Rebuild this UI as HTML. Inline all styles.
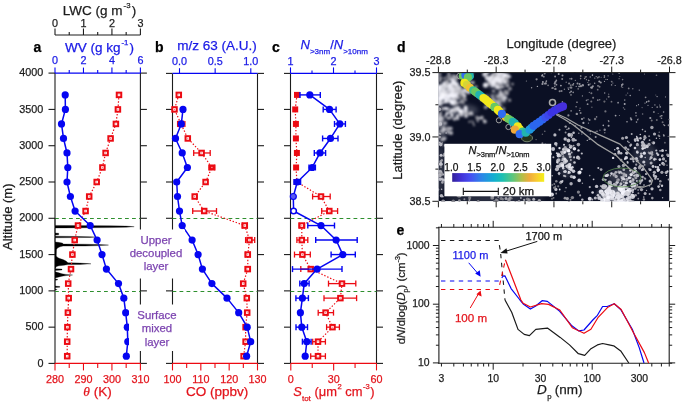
<!DOCTYPE html><html><head><meta charset="utf-8"><style>html,body{margin:0;padding:0;background:#fff;overflow:hidden}svg{display:block;will-change:transform}text{font-family:"Liberation Sans",sans-serif;stroke:currentColor;stroke-width:0.25px}</style></head><body><svg width="685" height="404" viewBox="0 0 685 404"><line x1="55.00" y1="73.10" x2="55.00" y2="363.40" stroke="#1c1c1c" stroke-width="1.1" />
<line x1="140.40" y1="73.10" x2="140.40" y2="363.40" stroke="#1c1c1c" stroke-width="1.1" />
<line x1="48.50" y1="363.40" x2="55.00" y2="363.40" stroke="#1c1c1c" stroke-width="1.1" />
<line x1="140.40" y1="363.40" x2="146.90" y2="363.40" stroke="#1c1c1c" stroke-width="1.1" />
<line x1="48.50" y1="327.16" x2="55.00" y2="327.16" stroke="#1c1c1c" stroke-width="1.1" />
<line x1="140.40" y1="327.16" x2="146.90" y2="327.16" stroke="#1c1c1c" stroke-width="1.1" />
<line x1="48.50" y1="290.87" x2="55.00" y2="290.87" stroke="#1c1c1c" stroke-width="1.1" />
<line x1="140.40" y1="290.87" x2="146.90" y2="290.87" stroke="#1c1c1c" stroke-width="1.1" />
<line x1="48.50" y1="254.58" x2="55.00" y2="254.58" stroke="#1c1c1c" stroke-width="1.1" />
<line x1="140.40" y1="254.58" x2="146.90" y2="254.58" stroke="#1c1c1c" stroke-width="1.1" />
<line x1="48.50" y1="218.29" x2="55.00" y2="218.29" stroke="#1c1c1c" stroke-width="1.1" />
<line x1="140.40" y1="218.29" x2="146.90" y2="218.29" stroke="#1c1c1c" stroke-width="1.1" />
<line x1="48.50" y1="182.00" x2="55.00" y2="182.00" stroke="#1c1c1c" stroke-width="1.1" />
<line x1="140.40" y1="182.00" x2="146.90" y2="182.00" stroke="#1c1c1c" stroke-width="1.1" />
<line x1="48.50" y1="145.71" x2="55.00" y2="145.71" stroke="#1c1c1c" stroke-width="1.1" />
<line x1="140.40" y1="145.71" x2="146.90" y2="145.71" stroke="#1c1c1c" stroke-width="1.1" />
<line x1="48.50" y1="109.42" x2="55.00" y2="109.42" stroke="#1c1c1c" stroke-width="1.1" />
<line x1="140.40" y1="109.42" x2="146.90" y2="109.42" stroke="#1c1c1c" stroke-width="1.1" />
<line x1="48.50" y1="73.10" x2="55.00" y2="73.10" stroke="#1c1c1c" stroke-width="1.1" />
<line x1="140.40" y1="73.10" x2="146.90" y2="73.10" stroke="#1c1c1c" stroke-width="1.1" />
<line x1="55.00" y1="291.50" x2="140.40" y2="291.50" stroke="#2e8f2e" stroke-width="1.1" stroke-dasharray="3.8 3.2"/>
<line x1="55.00" y1="218.50" x2="140.40" y2="218.50" stroke="#2e8f2e" stroke-width="1.1" stroke-dasharray="3.8 3.2"/>
<line x1="172.50" y1="73.40" x2="172.50" y2="363.40" stroke="#1c1c1c" stroke-width="1.1" />
<line x1="257.50" y1="73.40" x2="257.50" y2="363.40" stroke="#1c1c1c" stroke-width="1.1" />
<line x1="166.00" y1="363.40" x2="172.50" y2="363.40" stroke="#1c1c1c" stroke-width="1.1" />
<line x1="257.50" y1="363.40" x2="264.00" y2="363.40" stroke="#1c1c1c" stroke-width="1.1" />
<line x1="166.00" y1="327.16" x2="172.50" y2="327.16" stroke="#1c1c1c" stroke-width="1.1" />
<line x1="257.50" y1="327.16" x2="264.00" y2="327.16" stroke="#1c1c1c" stroke-width="1.1" />
<line x1="166.00" y1="290.87" x2="172.50" y2="290.87" stroke="#1c1c1c" stroke-width="1.1" />
<line x1="257.50" y1="290.87" x2="264.00" y2="290.87" stroke="#1c1c1c" stroke-width="1.1" />
<line x1="166.00" y1="254.58" x2="172.50" y2="254.58" stroke="#1c1c1c" stroke-width="1.1" />
<line x1="257.50" y1="254.58" x2="264.00" y2="254.58" stroke="#1c1c1c" stroke-width="1.1" />
<line x1="166.00" y1="218.29" x2="172.50" y2="218.29" stroke="#1c1c1c" stroke-width="1.1" />
<line x1="257.50" y1="218.29" x2="264.00" y2="218.29" stroke="#1c1c1c" stroke-width="1.1" />
<line x1="166.00" y1="182.00" x2="172.50" y2="182.00" stroke="#1c1c1c" stroke-width="1.1" />
<line x1="257.50" y1="182.00" x2="264.00" y2="182.00" stroke="#1c1c1c" stroke-width="1.1" />
<line x1="166.00" y1="145.71" x2="172.50" y2="145.71" stroke="#1c1c1c" stroke-width="1.1" />
<line x1="257.50" y1="145.71" x2="264.00" y2="145.71" stroke="#1c1c1c" stroke-width="1.1" />
<line x1="166.00" y1="109.42" x2="172.50" y2="109.42" stroke="#1c1c1c" stroke-width="1.1" />
<line x1="257.50" y1="109.42" x2="264.00" y2="109.42" stroke="#1c1c1c" stroke-width="1.1" />
<line x1="166.00" y1="73.40" x2="172.50" y2="73.40" stroke="#1c1c1c" stroke-width="1.1" />
<line x1="257.50" y1="73.40" x2="264.00" y2="73.40" stroke="#1c1c1c" stroke-width="1.1" />
<line x1="172.50" y1="291.50" x2="257.50" y2="291.50" stroke="#2e8f2e" stroke-width="1.1" stroke-dasharray="3.8 3.2"/>
<line x1="172.50" y1="218.50" x2="257.50" y2="218.50" stroke="#2e8f2e" stroke-width="1.1" stroke-dasharray="3.8 3.2"/>
<line x1="290.50" y1="73.40" x2="290.50" y2="363.40" stroke="#1c1c1c" stroke-width="1.1" />
<line x1="376.50" y1="73.40" x2="376.50" y2="363.40" stroke="#1c1c1c" stroke-width="1.1" />
<line x1="284.00" y1="363.40" x2="290.50" y2="363.40" stroke="#1c1c1c" stroke-width="1.1" />
<line x1="376.50" y1="363.40" x2="383.00" y2="363.40" stroke="#1c1c1c" stroke-width="1.1" />
<line x1="284.00" y1="327.16" x2="290.50" y2="327.16" stroke="#1c1c1c" stroke-width="1.1" />
<line x1="376.50" y1="327.16" x2="383.00" y2="327.16" stroke="#1c1c1c" stroke-width="1.1" />
<line x1="284.00" y1="290.87" x2="290.50" y2="290.87" stroke="#1c1c1c" stroke-width="1.1" />
<line x1="376.50" y1="290.87" x2="383.00" y2="290.87" stroke="#1c1c1c" stroke-width="1.1" />
<line x1="284.00" y1="254.58" x2="290.50" y2="254.58" stroke="#1c1c1c" stroke-width="1.1" />
<line x1="376.50" y1="254.58" x2="383.00" y2="254.58" stroke="#1c1c1c" stroke-width="1.1" />
<line x1="284.00" y1="218.29" x2="290.50" y2="218.29" stroke="#1c1c1c" stroke-width="1.1" />
<line x1="376.50" y1="218.29" x2="383.00" y2="218.29" stroke="#1c1c1c" stroke-width="1.1" />
<line x1="284.00" y1="182.00" x2="290.50" y2="182.00" stroke="#1c1c1c" stroke-width="1.1" />
<line x1="376.50" y1="182.00" x2="383.00" y2="182.00" stroke="#1c1c1c" stroke-width="1.1" />
<line x1="284.00" y1="145.71" x2="290.50" y2="145.71" stroke="#1c1c1c" stroke-width="1.1" />
<line x1="376.50" y1="145.71" x2="383.00" y2="145.71" stroke="#1c1c1c" stroke-width="1.1" />
<line x1="284.00" y1="109.42" x2="290.50" y2="109.42" stroke="#1c1c1c" stroke-width="1.1" />
<line x1="376.50" y1="109.42" x2="383.00" y2="109.42" stroke="#1c1c1c" stroke-width="1.1" />
<line x1="284.00" y1="73.40" x2="290.50" y2="73.40" stroke="#1c1c1c" stroke-width="1.1" />
<line x1="376.50" y1="73.40" x2="383.00" y2="73.40" stroke="#1c1c1c" stroke-width="1.1" />
<line x1="290.50" y1="291.50" x2="376.50" y2="291.50" stroke="#2e8f2e" stroke-width="1.1" stroke-dasharray="3.8 3.2"/>
<line x1="290.50" y1="218.50" x2="376.50" y2="218.50" stroke="#2e8f2e" stroke-width="1.1" stroke-dasharray="3.8 3.2"/>
<text x="43.40" y="366.55" font-size="10.8" fill="#1c1c1c" color="#1c1c1c" text-anchor="end" >0</text>
<text x="43.40" y="330.26" font-size="10.8" fill="#1c1c1c" color="#1c1c1c" text-anchor="end" >500</text>
<text x="43.40" y="293.97" font-size="10.8" fill="#1c1c1c" color="#1c1c1c" text-anchor="end" >1000</text>
<text x="43.40" y="257.68" font-size="10.8" fill="#1c1c1c" color="#1c1c1c" text-anchor="end" >1500</text>
<text x="43.40" y="221.39" font-size="10.8" fill="#1c1c1c" color="#1c1c1c" text-anchor="end" >2000</text>
<text x="43.40" y="185.10" font-size="10.8" fill="#1c1c1c" color="#1c1c1c" text-anchor="end" >2500</text>
<text x="43.40" y="148.81" font-size="10.8" fill="#1c1c1c" color="#1c1c1c" text-anchor="end" >3000</text>
<text x="43.40" y="112.52" font-size="10.8" fill="#1c1c1c" color="#1c1c1c" text-anchor="end" >3500</text>
<text x="43.40" y="76.23" font-size="10.8" fill="#1c1c1c" color="#1c1c1c" text-anchor="end" >4000</text>
<text transform="translate(11.5,216.7) rotate(-90)" font-size="13" fill="#1c1c1c" color="#1c1c1c" text-anchor="middle">Altitude (m)</text>
<line x1="55.00" y1="73.10" x2="140.40" y2="73.10" stroke="#0505f2" stroke-width="1.2" />
<line x1="55.00" y1="73.10" x2="55.00" y2="67.60" stroke="#0505f2" stroke-width="1.1" />
<text x="55.00" y="64.00" font-size="10.8" fill="#1a1ae6" color="#1a1ae6" text-anchor="middle" >0</text>
<line x1="69.23" y1="73.10" x2="69.23" y2="70.10" stroke="#0505f2" stroke-width="1.1" />
<line x1="83.47" y1="73.10" x2="83.47" y2="67.60" stroke="#0505f2" stroke-width="1.1" />
<text x="83.47" y="64.00" font-size="10.8" fill="#1a1ae6" color="#1a1ae6" text-anchor="middle" >2</text>
<line x1="97.70" y1="73.10" x2="97.70" y2="70.10" stroke="#0505f2" stroke-width="1.1" />
<line x1="111.93" y1="73.10" x2="111.93" y2="67.60" stroke="#0505f2" stroke-width="1.1" />
<text x="111.93" y="64.00" font-size="10.8" fill="#1a1ae6" color="#1a1ae6" text-anchor="middle" >4</text>
<line x1="126.17" y1="73.10" x2="126.17" y2="70.10" stroke="#0505f2" stroke-width="1.1" />
<line x1="140.40" y1="73.10" x2="140.40" y2="67.60" stroke="#0505f2" stroke-width="1.1" />
<text x="140.40" y="64.00" font-size="10.8" fill="#1a1ae6" color="#1a1ae6" text-anchor="middle" >6</text>
<text x="99.50" y="51.60" font-size="13.5" fill="#1a1ae6" color="#1a1ae6" text-anchor="middle" >WV (g kg<tspan dx="1" dy="-6.8" font-size="7.8">-1</tspan><tspan dx="1.2" dy="6.8">)</tspan></text>
<line x1="55.00" y1="35.00" x2="140.40" y2="35.00" stroke="#1c1c1c" stroke-width="1.1" />
<line x1="55.00" y1="35.00" x2="55.00" y2="28.50" stroke="#1c1c1c" stroke-width="1.1" />
<text x="55.00" y="27.00" font-size="10.8" fill="#1c1c1c" color="#1c1c1c" text-anchor="middle" >0</text>
<line x1="69.23" y1="35.00" x2="69.23" y2="32.00" stroke="#1c1c1c" stroke-width="1.1" />
<line x1="83.47" y1="35.00" x2="83.47" y2="28.50" stroke="#1c1c1c" stroke-width="1.1" />
<text x="83.47" y="27.00" font-size="10.8" fill="#1c1c1c" color="#1c1c1c" text-anchor="middle" >1</text>
<line x1="97.70" y1="35.00" x2="97.70" y2="32.00" stroke="#1c1c1c" stroke-width="1.1" />
<line x1="111.93" y1="35.00" x2="111.93" y2="28.50" stroke="#1c1c1c" stroke-width="1.1" />
<text x="111.93" y="27.00" font-size="10.8" fill="#1c1c1c" color="#1c1c1c" text-anchor="middle" >2</text>
<line x1="126.17" y1="35.00" x2="126.17" y2="32.00" stroke="#1c1c1c" stroke-width="1.1" />
<line x1="140.40" y1="35.00" x2="140.40" y2="28.50" stroke="#1c1c1c" stroke-width="1.1" />
<text x="140.40" y="27.00" font-size="10.8" fill="#1c1c1c" color="#1c1c1c" text-anchor="middle" >3</text>
<text x="99.50" y="14.60" font-size="13.5" fill="#1c1c1c" color="#1c1c1c" text-anchor="middle" >LWC (g m<tspan dx="1" dy="-6.8" font-size="7.8">-3</tspan><tspan dx="1.2" dy="6.8">)</tspan></text>
<text x="37.50" y="51.50" font-size="14" fill="#000" color="#000" text-anchor="middle" font-weight="bold">a</text>
<line x1="172.50" y1="73.40" x2="257.50" y2="73.40" stroke="#0505f2" stroke-width="1.2" />
<line x1="179.50" y1="73.40" x2="179.50" y2="68.20" stroke="#0505f2" stroke-width="1.1" />
<text x="179.50" y="65.00" font-size="10.8" fill="#1a1ae6" color="#1a1ae6" text-anchor="middle" >0.0</text>
<line x1="215.15" y1="73.40" x2="215.15" y2="68.20" stroke="#0505f2" stroke-width="1.1" />
<text x="215.15" y="65.00" font-size="10.8" fill="#1a1ae6" color="#1a1ae6" text-anchor="middle" >0.5</text>
<line x1="250.80" y1="73.40" x2="250.80" y2="68.20" stroke="#0505f2" stroke-width="1.1" />
<text x="250.80" y="65.00" font-size="10.8" fill="#1a1ae6" color="#1a1ae6" text-anchor="middle" >1.0</text>
<text x="217.00" y="49.80" font-size="13.5" fill="#1a1ae6" color="#1a1ae6" text-anchor="middle" >m/z 63 (A.U.)</text>
<text x="159.20" y="51.50" font-size="14" fill="#000" color="#000" text-anchor="middle" font-weight="bold">b</text>
<line x1="290.50" y1="73.40" x2="376.50" y2="73.40" stroke="#0505f2" stroke-width="1.2" />
<line x1="290.50" y1="73.40" x2="290.50" y2="67.40" stroke="#0505f2" stroke-width="1.1" />
<text x="290.50" y="65.00" font-size="10.8" fill="#1a1ae6" color="#1a1ae6" text-anchor="middle" >1</text>
<line x1="312.00" y1="73.40" x2="312.00" y2="70.40" stroke="#0505f2" stroke-width="1.1" />
<line x1="333.50" y1="73.40" x2="333.50" y2="67.40" stroke="#0505f2" stroke-width="1.1" />
<text x="333.50" y="65.00" font-size="10.8" fill="#1a1ae6" color="#1a1ae6" text-anchor="middle" >2</text>
<line x1="355.00" y1="73.40" x2="355.00" y2="70.40" stroke="#0505f2" stroke-width="1.1" />
<line x1="376.50" y1="73.40" x2="376.50" y2="67.40" stroke="#0505f2" stroke-width="1.1" />
<text x="376.50" y="65.00" font-size="10.8" fill="#1a1ae6" color="#1a1ae6" text-anchor="middle" >3</text>
<text x="300.5" y="49.2" font-size="13" fill="#1a1ae6" color="#1a1ae6"><tspan font-style="italic">N</tspan><tspan font-size="8" dy="4.5">&gt;3nm</tspan><tspan dy="-4.5">/</tspan><tspan font-style="italic">N</tspan><tspan font-size="8" dy="4.5">&gt;10nm</tspan></text>
<text x="276.00" y="51.50" font-size="14" fill="#000" color="#000" text-anchor="middle" font-weight="bold">c</text>
<line x1="55.00" y1="363.40" x2="140.40" y2="363.40" stroke="#ec0a12" stroke-width="1.2" />
<line x1="55.00" y1="363.40" x2="55.00" y2="370.40" stroke="#ec0a12" stroke-width="1.1" />
<text x="55.00" y="383.10" font-size="10.8" fill="#e3141c" color="#e3141c" text-anchor="middle" >280</text>
<line x1="69.23" y1="363.40" x2="69.23" y2="367.90" stroke="#ec0a12" stroke-width="1.1" />
<line x1="83.47" y1="363.40" x2="83.47" y2="370.40" stroke="#ec0a12" stroke-width="1.1" />
<text x="83.47" y="383.10" font-size="10.8" fill="#e3141c" color="#e3141c" text-anchor="middle" >290</text>
<line x1="97.70" y1="363.40" x2="97.70" y2="367.90" stroke="#ec0a12" stroke-width="1.1" />
<line x1="111.93" y1="363.40" x2="111.93" y2="370.40" stroke="#ec0a12" stroke-width="1.1" />
<text x="111.93" y="383.10" font-size="10.8" fill="#e3141c" color="#e3141c" text-anchor="middle" >300</text>
<line x1="126.17" y1="363.40" x2="126.17" y2="367.90" stroke="#ec0a12" stroke-width="1.1" />
<line x1="140.40" y1="363.40" x2="140.40" y2="370.40" stroke="#ec0a12" stroke-width="1.1" />
<text x="140.40" y="383.10" font-size="10.8" fill="#e3141c" color="#e3141c" text-anchor="middle" >310</text>
<line x1="172.50" y1="363.40" x2="257.50" y2="363.40" stroke="#ec0a12" stroke-width="1.2" />
<line x1="172.50" y1="363.40" x2="172.50" y2="370.40" stroke="#ec0a12" stroke-width="1.1" />
<text x="172.50" y="383.10" font-size="10.8" fill="#e3141c" color="#e3141c" text-anchor="middle" >100</text>
<line x1="186.67" y1="363.40" x2="186.67" y2="367.90" stroke="#ec0a12" stroke-width="1.1" />
<line x1="200.83" y1="363.40" x2="200.83" y2="370.40" stroke="#ec0a12" stroke-width="1.1" />
<text x="200.83" y="383.10" font-size="10.8" fill="#e3141c" color="#e3141c" text-anchor="middle" >110</text>
<line x1="215.00" y1="363.40" x2="215.00" y2="367.90" stroke="#ec0a12" stroke-width="1.1" />
<line x1="229.17" y1="363.40" x2="229.17" y2="370.40" stroke="#ec0a12" stroke-width="1.1" />
<text x="229.17" y="383.10" font-size="10.8" fill="#e3141c" color="#e3141c" text-anchor="middle" >120</text>
<line x1="243.33" y1="363.40" x2="243.33" y2="367.90" stroke="#ec0a12" stroke-width="1.1" />
<line x1="257.50" y1="363.40" x2="257.50" y2="370.40" stroke="#ec0a12" stroke-width="1.1" />
<text x="257.50" y="383.10" font-size="10.8" fill="#e3141c" color="#e3141c" text-anchor="middle" >130</text>
<line x1="290.80" y1="363.40" x2="376.50" y2="363.40" stroke="#ec0a12" stroke-width="1.2" />
<line x1="290.80" y1="363.40" x2="290.80" y2="370.40" stroke="#ec0a12" stroke-width="1.1" />
<text x="290.80" y="383.10" font-size="10.8" fill="#e3141c" color="#e3141c" text-anchor="middle" >0</text>
<line x1="312.23" y1="363.40" x2="312.23" y2="367.90" stroke="#ec0a12" stroke-width="1.1" />
<line x1="333.65" y1="363.40" x2="333.65" y2="370.40" stroke="#ec0a12" stroke-width="1.1" />
<text x="333.65" y="383.10" font-size="10.8" fill="#e3141c" color="#e3141c" text-anchor="middle" >30</text>
<line x1="355.07" y1="363.40" x2="355.07" y2="367.90" stroke="#ec0a12" stroke-width="1.1" />
<line x1="376.50" y1="363.40" x2="376.50" y2="370.40" stroke="#ec0a12" stroke-width="1.1" />
<text x="376.50" y="383.10" font-size="10.8" fill="#e3141c" color="#e3141c" text-anchor="middle" >60</text>
<text x="97.5" y="396" font-size="13.5" fill="#e3141c" color="#e3141c" text-anchor="middle"><tspan font-style="italic" font-family="Liberation Serif">θ</tspan> (K)</text>
<text x="217.20" y="396.00" font-size="13.5" fill="#e3141c" color="#e3141c" text-anchor="middle" >CO (ppbv)</text>
<text x="333.9" y="395.6" font-size="12.9" fill="#e3141c" color="#e3141c" text-anchor="middle"><tspan font-style="italic">S</tspan><tspan font-size="8" dy="5">tot</tspan><tspan dy="-5"> (μm</tspan><tspan font-size="7.6" dx="0.5" dy="-6.5">2</tspan><tspan dy="6.5"> cm</tspan><tspan font-size="7.6" dx="0.5" dy="-6.5">-3</tspan><tspan dx="0.5" dy="6.5">)</tspan></text>
<path d="M55.0,218.0 L55.0,225.4 L64.0,225.5 L110.0,225.8 L126.0,226.1 L134.2,226.7 L126.0,227.2 L110.0,227.6 L64.0,227.9 L55.0,228.0 L55.0,233.0 L58.7,233.3 L58.7,234.8 L55.0,235.0 L55.0,236.2 L80.0,236.5 L90.0,236.8 L95.0,237.1 L90.0,237.4 L80.0,237.6 L55.0,237.8 L55.0,242.0 L58.0,242.3 L62.3,243.1 L63.5,244.1 L85.0,244.2 L100.0,244.6 L108.5,245.1 L100.0,245.6 L85.0,246.0 L63.0,246.1 L60.0,246.8 L57.5,248.0 L56.5,249.5 L56.3,256.0 L57.0,257.0 L59.0,258.3 L63.0,259.6 L66.0,261.0 L68.0,262.8 L80.0,263.1 L91.0,263.8 L80.0,264.4 L68.0,264.6 L64.0,265.2 L59.0,265.8 L56.5,266.5 L55.0,268.8 L62.0,269.1 L62.0,269.9 L55.0,270.4 L55.0,271.8 L58.0,272.6 L62.0,273.8 L66.0,274.4 L72.6,275.0 L66.0,275.6 L62.0,276.2 L58.0,277.2 L55.0,278.0 L55.0,279.0 L57.5,279.3 L57.5,280.0 L55.0,280.3 L55.0,286.1 L59.8,286.5 L59.8,287.2 L55.0,287.6 L55.0,289.1 L57.2,289.5 L55.0,290.0 L55.0,290.5 Z" fill="#000" stroke="#000" stroke-width="0.3"/>
<polyline points="119.00,94.90 117.90,109.42 115.90,123.94 110.60,138.45 105.60,152.97 102.40,167.48 96.70,182.00 89.20,196.52 85.60,211.03 78.00,225.55 74.70,240.06 72.40,254.58 71.00,269.10 68.20,283.61 68.70,298.13 67.90,312.64 67.40,327.16 67.20,341.68 67.20,356.19" fill="none" stroke="#ec0a12" stroke-width="1.2" stroke-linejoin="round" stroke-dasharray="1.4 1.8"/>
<rect x="116.75" y="92.65" width="4.5" height="4.5" fill="#fff" stroke="#ec0a12" stroke-width="2"/>
<rect x="118.50" y="94.40" width="1" height="1" fill="#ec0a12" opacity="0.6"/>
<rect x="115.65" y="107.17" width="4.5" height="4.5" fill="#fff" stroke="#ec0a12" stroke-width="2"/>
<rect x="117.40" y="108.92" width="1" height="1" fill="#ec0a12" opacity="0.6"/>
<rect x="113.65" y="121.69" width="4.5" height="4.5" fill="#fff" stroke="#ec0a12" stroke-width="2"/>
<rect x="115.40" y="123.44" width="1" height="1" fill="#ec0a12" opacity="0.6"/>
<rect x="108.35" y="136.20" width="4.5" height="4.5" fill="#fff" stroke="#ec0a12" stroke-width="2"/>
<rect x="110.10" y="137.95" width="1" height="1" fill="#ec0a12" opacity="0.6"/>
<rect x="103.35" y="150.72" width="4.5" height="4.5" fill="#fff" stroke="#ec0a12" stroke-width="2"/>
<rect x="105.10" y="152.47" width="1" height="1" fill="#ec0a12" opacity="0.6"/>
<rect x="100.15" y="165.23" width="4.5" height="4.5" fill="#fff" stroke="#ec0a12" stroke-width="2"/>
<rect x="101.90" y="166.98" width="1" height="1" fill="#ec0a12" opacity="0.6"/>
<rect x="94.45" y="179.75" width="4.5" height="4.5" fill="#fff" stroke="#ec0a12" stroke-width="2"/>
<rect x="96.20" y="181.50" width="1" height="1" fill="#ec0a12" opacity="0.6"/>
<rect x="86.95" y="194.27" width="4.5" height="4.5" fill="#fff" stroke="#ec0a12" stroke-width="2"/>
<rect x="88.70" y="196.02" width="1" height="1" fill="#ec0a12" opacity="0.6"/>
<rect x="83.35" y="208.78" width="4.5" height="4.5" fill="#fff" stroke="#ec0a12" stroke-width="2"/>
<rect x="85.10" y="210.53" width="1" height="1" fill="#ec0a12" opacity="0.6"/>
<rect x="75.75" y="223.30" width="4.5" height="4.5" fill="#fff" stroke="#ec0a12" stroke-width="2"/>
<rect x="77.50" y="225.05" width="1" height="1" fill="#ec0a12" opacity="0.6"/>
<rect x="72.45" y="237.81" width="4.5" height="4.5" fill="#fff" stroke="#ec0a12" stroke-width="2"/>
<rect x="74.20" y="239.56" width="1" height="1" fill="#ec0a12" opacity="0.6"/>
<rect x="70.15" y="252.33" width="4.5" height="4.5" fill="#fff" stroke="#ec0a12" stroke-width="2"/>
<rect x="71.90" y="254.08" width="1" height="1" fill="#ec0a12" opacity="0.6"/>
<rect x="68.75" y="266.85" width="4.5" height="4.5" fill="#fff" stroke="#ec0a12" stroke-width="2"/>
<rect x="70.50" y="268.60" width="1" height="1" fill="#ec0a12" opacity="0.6"/>
<rect x="65.95" y="281.36" width="4.5" height="4.5" fill="#fff" stroke="#ec0a12" stroke-width="2"/>
<rect x="67.70" y="283.11" width="1" height="1" fill="#ec0a12" opacity="0.6"/>
<rect x="66.45" y="295.88" width="4.5" height="4.5" fill="#fff" stroke="#ec0a12" stroke-width="2"/>
<rect x="68.20" y="297.63" width="1" height="1" fill="#ec0a12" opacity="0.6"/>
<rect x="65.65" y="310.39" width="4.5" height="4.5" fill="#fff" stroke="#ec0a12" stroke-width="2"/>
<rect x="67.40" y="312.14" width="1" height="1" fill="#ec0a12" opacity="0.6"/>
<rect x="65.15" y="324.91" width="4.5" height="4.5" fill="#fff" stroke="#ec0a12" stroke-width="2"/>
<rect x="66.90" y="326.66" width="1" height="1" fill="#ec0a12" opacity="0.6"/>
<rect x="64.95" y="339.43" width="4.5" height="4.5" fill="#fff" stroke="#ec0a12" stroke-width="2"/>
<rect x="66.70" y="341.18" width="1" height="1" fill="#ec0a12" opacity="0.6"/>
<rect x="64.95" y="353.94" width="4.5" height="4.5" fill="#fff" stroke="#ec0a12" stroke-width="2"/>
<rect x="66.70" y="355.69" width="1" height="1" fill="#ec0a12" opacity="0.6"/>
<polyline points="65.20,94.90 65.40,109.42 61.50,123.94 63.50,138.45 67.00,152.97 67.80,167.48 67.00,182.00 70.40,196.52 75.10,211.03 90.20,225.55 97.10,240.06 102.00,254.58 106.40,269.10 118.50,283.61 123.80,298.13 125.70,312.64 127.30,327.16 127.80,341.68 126.30,356.19" fill="none" stroke="#0505f2" stroke-width="1.5" stroke-linejoin="round" />
<circle cx="65.20" cy="94.90" r="3.6" fill="#0505f2"/>
<circle cx="65.40" cy="109.42" r="3.6" fill="#0505f2"/>
<circle cx="61.50" cy="123.94" r="3.6" fill="#0505f2"/>
<circle cx="63.50" cy="138.45" r="3.6" fill="#0505f2"/>
<circle cx="67.00" cy="152.97" r="3.6" fill="#0505f2"/>
<circle cx="67.80" cy="167.48" r="3.6" fill="#0505f2"/>
<circle cx="67.00" cy="182.00" r="3.6" fill="#0505f2"/>
<circle cx="70.40" cy="196.52" r="3.6" fill="#0505f2"/>
<circle cx="75.10" cy="211.03" r="3.6" fill="#0505f2"/>
<circle cx="90.20" cy="225.55" r="3.6" fill="#0505f2"/>
<circle cx="97.10" cy="240.06" r="3.6" fill="#0505f2"/>
<circle cx="102.00" cy="254.58" r="3.6" fill="#0505f2"/>
<circle cx="106.40" cy="269.10" r="3.6" fill="#0505f2"/>
<circle cx="118.50" cy="283.61" r="3.6" fill="#0505f2"/>
<circle cx="123.80" cy="298.13" r="3.6" fill="#0505f2"/>
<circle cx="125.70" cy="312.64" r="3.6" fill="#0505f2"/>
<circle cx="127.30" cy="327.16" r="3.6" fill="#0505f2"/>
<circle cx="127.80" cy="341.68" r="3.6" fill="#0505f2"/>
<circle cx="126.30" cy="356.19" r="3.6" fill="#0505f2"/>
<polyline points="178.80,94.90 174.50,109.42 181.00,123.94 187.80,138.45 201.60,152.97 211.90,167.48 205.60,182.00 194.70,196.52 204.20,211.03 244.80,225.55 249.50,240.06 247.80,254.58 247.80,269.10 243.20,283.61 246.80,298.13 247.20,312.64 245.60,327.16 245.60,341.68 243.60,356.19" fill="none" stroke="#ec0a12" stroke-width="1.2" stroke-linejoin="round" stroke-dasharray="1.4 1.8"/>
<rect x="176.55" y="92.65" width="4.5" height="4.5" fill="#fff" stroke="#ec0a12" stroke-width="2"/>
<rect x="178.30" y="94.40" width="1" height="1" fill="#ec0a12" opacity="0.6"/>
<rect x="172.25" y="107.17" width="4.5" height="4.5" fill="#fff" stroke="#ec0a12" stroke-width="2"/>
<rect x="174.00" y="108.92" width="1" height="1" fill="#ec0a12" opacity="0.6"/>
<line x1="177.60" y1="123.94" x2="184.90" y2="123.94" stroke="#ec0a12" stroke-width="1.3" />
<line x1="177.60" y1="120.94" x2="177.60" y2="126.94" stroke="#ec0a12" stroke-width="1.3" />
<line x1="184.90" y1="120.94" x2="184.90" y2="126.94" stroke="#ec0a12" stroke-width="1.3" />
<rect x="178.75" y="121.69" width="4.5" height="4.5" fill="#fff" stroke="#ec0a12" stroke-width="2"/>
<rect x="180.50" y="123.44" width="1" height="1" fill="#ec0a12" opacity="0.6"/>
<rect x="185.55" y="136.20" width="4.5" height="4.5" fill="#fff" stroke="#ec0a12" stroke-width="2"/>
<rect x="187.30" y="137.95" width="1" height="1" fill="#ec0a12" opacity="0.6"/>
<line x1="193.70" y1="152.97" x2="210.20" y2="152.97" stroke="#ec0a12" stroke-width="1.3" />
<line x1="193.70" y1="149.97" x2="193.70" y2="155.97" stroke="#ec0a12" stroke-width="1.3" />
<line x1="210.20" y1="149.97" x2="210.20" y2="155.97" stroke="#ec0a12" stroke-width="1.3" />
<rect x="199.35" y="150.72" width="4.5" height="4.5" fill="#fff" stroke="#ec0a12" stroke-width="2"/>
<rect x="201.10" y="152.47" width="1" height="1" fill="#ec0a12" opacity="0.6"/>
<line x1="208.90" y1="167.48" x2="214.90" y2="167.48" stroke="#ec0a12" stroke-width="1.3" />
<line x1="208.90" y1="164.48" x2="208.90" y2="170.48" stroke="#ec0a12" stroke-width="1.3" />
<line x1="214.90" y1="164.48" x2="214.90" y2="170.48" stroke="#ec0a12" stroke-width="1.3" />
<rect x="208.90" y="164.48" width="6" height="6" fill="#ec0a12"/>
<rect x="211.30" y="166.88" width="1.2" height="1.2" fill="#fff" opacity="0.7"/>
<rect x="203.35" y="179.75" width="4.5" height="4.5" fill="#fff" stroke="#ec0a12" stroke-width="2"/>
<rect x="205.10" y="181.50" width="1" height="1" fill="#ec0a12" opacity="0.6"/>
<rect x="192.45" y="194.27" width="4.5" height="4.5" fill="#fff" stroke="#ec0a12" stroke-width="2"/>
<rect x="194.20" y="196.02" width="1" height="1" fill="#ec0a12" opacity="0.6"/>
<line x1="192.70" y1="211.03" x2="216.50" y2="211.03" stroke="#ec0a12" stroke-width="1.3" />
<line x1="192.70" y1="208.03" x2="192.70" y2="214.03" stroke="#ec0a12" stroke-width="1.3" />
<line x1="216.50" y1="208.03" x2="216.50" y2="214.03" stroke="#ec0a12" stroke-width="1.3" />
<rect x="201.95" y="208.78" width="4.5" height="4.5" fill="#fff" stroke="#ec0a12" stroke-width="2"/>
<rect x="203.70" y="210.53" width="1" height="1" fill="#ec0a12" opacity="0.6"/>
<line x1="242.30" y1="225.55" x2="247.30" y2="225.55" stroke="#ec0a12" stroke-width="1.3" />
<line x1="242.30" y1="222.55" x2="242.30" y2="228.55" stroke="#ec0a12" stroke-width="1.3" />
<line x1="247.30" y1="222.55" x2="247.30" y2="228.55" stroke="#ec0a12" stroke-width="1.3" />
<rect x="242.55" y="223.30" width="4.5" height="4.5" fill="#fff" stroke="#ec0a12" stroke-width="2"/>
<rect x="244.30" y="225.05" width="1" height="1" fill="#ec0a12" opacity="0.6"/>
<line x1="245.60" y1="240.06" x2="254.70" y2="240.06" stroke="#ec0a12" stroke-width="1.3" />
<line x1="245.60" y1="237.06" x2="245.60" y2="243.06" stroke="#ec0a12" stroke-width="1.3" />
<line x1="254.70" y1="237.06" x2="254.70" y2="243.06" stroke="#ec0a12" stroke-width="1.3" />
<rect x="247.25" y="237.81" width="4.5" height="4.5" fill="#fff" stroke="#ec0a12" stroke-width="2"/>
<rect x="249.00" y="239.56" width="1" height="1" fill="#ec0a12" opacity="0.6"/>
<line x1="245.30" y1="254.58" x2="250.30" y2="254.58" stroke="#ec0a12" stroke-width="1.3" />
<line x1="245.30" y1="251.58" x2="245.30" y2="257.58" stroke="#ec0a12" stroke-width="1.3" />
<line x1="250.30" y1="251.58" x2="250.30" y2="257.58" stroke="#ec0a12" stroke-width="1.3" />
<rect x="245.55" y="252.33" width="4.5" height="4.5" fill="#fff" stroke="#ec0a12" stroke-width="2"/>
<rect x="247.30" y="254.08" width="1" height="1" fill="#ec0a12" opacity="0.6"/>
<line x1="245.30" y1="269.10" x2="250.30" y2="269.10" stroke="#ec0a12" stroke-width="1.3" />
<line x1="245.30" y1="266.10" x2="245.30" y2="272.10" stroke="#ec0a12" stroke-width="1.3" />
<line x1="250.30" y1="266.10" x2="250.30" y2="272.10" stroke="#ec0a12" stroke-width="1.3" />
<rect x="245.55" y="266.85" width="4.5" height="4.5" fill="#fff" stroke="#ec0a12" stroke-width="2"/>
<rect x="247.30" y="268.60" width="1" height="1" fill="#ec0a12" opacity="0.6"/>
<rect x="240.95" y="281.36" width="4.5" height="4.5" fill="#fff" stroke="#ec0a12" stroke-width="2"/>
<rect x="242.70" y="283.11" width="1" height="1" fill="#ec0a12" opacity="0.6"/>
<rect x="244.55" y="295.88" width="4.5" height="4.5" fill="#fff" stroke="#ec0a12" stroke-width="2"/>
<rect x="246.30" y="297.63" width="1" height="1" fill="#ec0a12" opacity="0.6"/>
<rect x="244.95" y="310.39" width="4.5" height="4.5" fill="#fff" stroke="#ec0a12" stroke-width="2"/>
<rect x="246.70" y="312.14" width="1" height="1" fill="#ec0a12" opacity="0.6"/>
<rect x="243.35" y="324.91" width="4.5" height="4.5" fill="#fff" stroke="#ec0a12" stroke-width="2"/>
<rect x="245.10" y="326.66" width="1" height="1" fill="#ec0a12" opacity="0.6"/>
<rect x="243.35" y="339.43" width="4.5" height="4.5" fill="#fff" stroke="#ec0a12" stroke-width="2"/>
<rect x="245.10" y="341.18" width="1" height="1" fill="#ec0a12" opacity="0.6"/>
<rect x="241.35" y="353.94" width="4.5" height="4.5" fill="#fff" stroke="#ec0a12" stroke-width="2"/>
<rect x="243.10" y="355.69" width="1" height="1" fill="#ec0a12" opacity="0.6"/>
<polyline points="183.00,109.42 181.30,123.94 175.50,138.45 182.20,152.97 187.40,167.48 176.70,182.00 177.50,196.52 179.50,211.03 182.20,225.55 192.10,240.06 198.10,254.58 202.40,269.10 211.90,283.61 227.00,298.13 238.70,312.64 247.20,327.16 250.70,341.68 246.60,356.19" fill="none" stroke="#0505f2" stroke-width="1.5" stroke-linejoin="round" />
<circle cx="183.00" cy="109.42" r="3.6" fill="#0505f2"/>
<circle cx="181.30" cy="123.94" r="3.6" fill="#0505f2"/>
<circle cx="175.50" cy="138.45" r="3.6" fill="#0505f2"/>
<circle cx="182.20" cy="152.97" r="3.6" fill="#0505f2"/>
<circle cx="187.40" cy="167.48" r="3.6" fill="#0505f2"/>
<circle cx="176.70" cy="182.00" r="3.6" fill="#0505f2"/>
<circle cx="177.50" cy="196.52" r="3.6" fill="#0505f2"/>
<circle cx="179.50" cy="211.03" r="3.6" fill="#0505f2"/>
<circle cx="182.20" cy="225.55" r="3.6" fill="#0505f2"/>
<circle cx="192.10" cy="240.06" r="3.6" fill="#0505f2"/>
<circle cx="198.10" cy="254.58" r="3.6" fill="#0505f2"/>
<circle cx="202.40" cy="269.10" r="3.6" fill="#0505f2"/>
<circle cx="211.90" cy="283.61" r="3.6" fill="#0505f2"/>
<circle cx="227.00" cy="298.13" r="3.6" fill="#0505f2"/>
<circle cx="238.70" cy="312.64" r="3.6" fill="#0505f2"/>
<circle cx="247.20" cy="327.16" r="3.6" fill="#0505f2"/>
<circle cx="250.70" cy="341.68" r="3.6" fill="#0505f2"/>
<circle cx="246.60" cy="356.19" r="3.6" fill="#0505f2"/>
<polyline points="297.00,94.90 295.20,109.42 295.90,123.94 295.90,138.45 296.90,152.97 296.10,167.48 296.90,182.00 321.00,196.52 329.30,211.03 301.80,225.55 301.80,240.06 302.40,254.58 310.70,269.10 342.00,283.61 340.40,298.13 325.60,312.64 332.50,327.16 318.00,341.68 318.00,356.19" fill="none" stroke="#ec0a12" stroke-width="1.2" stroke-linejoin="round" stroke-dasharray="1.4 1.8"/>
<rect x="294.00" y="91.90" width="6" height="6" fill="#ec0a12"/>
<rect x="292.20" y="106.42" width="6" height="6" fill="#ec0a12"/>
<rect x="292.90" y="120.94" width="6" height="6" fill="#ec0a12"/>
<rect x="292.90" y="135.45" width="6" height="6" fill="#ec0a12"/>
<rect x="293.90" y="149.97" width="6" height="6" fill="#ec0a12"/>
<rect x="293.10" y="164.48" width="6" height="6" fill="#ec0a12"/>
<rect x="293.90" y="179.00" width="6" height="6" fill="#ec0a12"/>
<line x1="312.60" y1="196.52" x2="330.20" y2="196.52" stroke="#ec0a12" stroke-width="1.3" />
<line x1="312.60" y1="193.52" x2="312.60" y2="199.52" stroke="#ec0a12" stroke-width="1.3" />
<line x1="330.20" y1="193.52" x2="330.20" y2="199.52" stroke="#ec0a12" stroke-width="1.3" />
<rect x="318.75" y="194.27" width="4.5" height="4.5" fill="#fff" stroke="#ec0a12" stroke-width="2"/>
<rect x="320.50" y="196.02" width="1" height="1" fill="#ec0a12" opacity="0.6"/>
<line x1="321.70" y1="211.03" x2="337.60" y2="211.03" stroke="#ec0a12" stroke-width="1.3" />
<line x1="321.70" y1="208.03" x2="321.70" y2="214.03" stroke="#ec0a12" stroke-width="1.3" />
<line x1="337.60" y1="208.03" x2="337.60" y2="214.03" stroke="#ec0a12" stroke-width="1.3" />
<rect x="327.05" y="208.78" width="4.5" height="4.5" fill="#fff" stroke="#ec0a12" stroke-width="2"/>
<rect x="328.80" y="210.53" width="1" height="1" fill="#ec0a12" opacity="0.6"/>
<line x1="299.00" y1="225.55" x2="304.60" y2="225.55" stroke="#ec0a12" stroke-width="1.3" />
<line x1="299.00" y1="222.55" x2="299.00" y2="228.55" stroke="#ec0a12" stroke-width="1.3" />
<line x1="304.60" y1="222.55" x2="304.60" y2="228.55" stroke="#ec0a12" stroke-width="1.3" />
<rect x="299.55" y="223.30" width="4.5" height="4.5" fill="#fff" stroke="#ec0a12" stroke-width="2"/>
<rect x="301.30" y="225.05" width="1" height="1" fill="#ec0a12" opacity="0.6"/>
<line x1="296.90" y1="240.06" x2="307.80" y2="240.06" stroke="#ec0a12" stroke-width="1.3" />
<line x1="296.90" y1="237.06" x2="296.90" y2="243.06" stroke="#ec0a12" stroke-width="1.3" />
<line x1="307.80" y1="237.06" x2="307.80" y2="243.06" stroke="#ec0a12" stroke-width="1.3" />
<rect x="299.55" y="237.81" width="4.5" height="4.5" fill="#fff" stroke="#ec0a12" stroke-width="2"/>
<rect x="301.30" y="239.56" width="1" height="1" fill="#ec0a12" opacity="0.6"/>
<line x1="294.50" y1="254.58" x2="310.30" y2="254.58" stroke="#ec0a12" stroke-width="1.3" />
<line x1="294.50" y1="251.58" x2="294.50" y2="257.58" stroke="#ec0a12" stroke-width="1.3" />
<line x1="310.30" y1="251.58" x2="310.30" y2="257.58" stroke="#ec0a12" stroke-width="1.3" />
<rect x="300.15" y="252.33" width="4.5" height="4.5" fill="#fff" stroke="#ec0a12" stroke-width="2"/>
<rect x="301.90" y="254.08" width="1" height="1" fill="#ec0a12" opacity="0.6"/>
<line x1="300.80" y1="269.10" x2="316.70" y2="269.10" stroke="#ec0a12" stroke-width="1.3" />
<line x1="300.80" y1="266.10" x2="300.80" y2="272.10" stroke="#ec0a12" stroke-width="1.3" />
<line x1="316.70" y1="266.10" x2="316.70" y2="272.10" stroke="#ec0a12" stroke-width="1.3" />
<rect x="308.45" y="266.85" width="4.5" height="4.5" fill="#fff" stroke="#ec0a12" stroke-width="2"/>
<rect x="310.20" y="268.60" width="1" height="1" fill="#ec0a12" opacity="0.6"/>
<line x1="328.50" y1="283.61" x2="355.80" y2="283.61" stroke="#ec0a12" stroke-width="1.3" />
<line x1="328.50" y1="280.61" x2="328.50" y2="286.61" stroke="#ec0a12" stroke-width="1.3" />
<line x1="355.80" y1="280.61" x2="355.80" y2="286.61" stroke="#ec0a12" stroke-width="1.3" />
<rect x="339.75" y="281.36" width="4.5" height="4.5" fill="#fff" stroke="#ec0a12" stroke-width="2"/>
<rect x="341.50" y="283.11" width="1" height="1" fill="#ec0a12" opacity="0.6"/>
<line x1="324.00" y1="298.13" x2="356.60" y2="298.13" stroke="#ec0a12" stroke-width="1.3" />
<line x1="324.00" y1="295.13" x2="324.00" y2="301.13" stroke="#ec0a12" stroke-width="1.3" />
<line x1="356.60" y1="295.13" x2="356.60" y2="301.13" stroke="#ec0a12" stroke-width="1.3" />
<rect x="338.15" y="295.88" width="4.5" height="4.5" fill="#fff" stroke="#ec0a12" stroke-width="2"/>
<rect x="339.90" y="297.63" width="1" height="1" fill="#ec0a12" opacity="0.6"/>
<line x1="318.20" y1="312.64" x2="333.50" y2="312.64" stroke="#ec0a12" stroke-width="1.3" />
<line x1="318.20" y1="309.64" x2="318.20" y2="315.64" stroke="#ec0a12" stroke-width="1.3" />
<line x1="333.50" y1="309.64" x2="333.50" y2="315.64" stroke="#ec0a12" stroke-width="1.3" />
<rect x="323.35" y="310.39" width="4.5" height="4.5" fill="#fff" stroke="#ec0a12" stroke-width="2"/>
<rect x="325.10" y="312.14" width="1" height="1" fill="#ec0a12" opacity="0.6"/>
<line x1="326.60" y1="327.16" x2="339.40" y2="327.16" stroke="#ec0a12" stroke-width="1.3" />
<line x1="326.60" y1="324.16" x2="326.60" y2="330.16" stroke="#ec0a12" stroke-width="1.3" />
<line x1="339.40" y1="324.16" x2="339.40" y2="330.16" stroke="#ec0a12" stroke-width="1.3" />
<rect x="330.25" y="324.91" width="4.5" height="4.5" fill="#fff" stroke="#ec0a12" stroke-width="2"/>
<rect x="332.00" y="326.66" width="1" height="1" fill="#ec0a12" opacity="0.6"/>
<line x1="312.70" y1="341.68" x2="325.40" y2="341.68" stroke="#ec0a12" stroke-width="1.3" />
<line x1="312.70" y1="338.68" x2="312.70" y2="344.68" stroke="#ec0a12" stroke-width="1.3" />
<line x1="325.40" y1="338.68" x2="325.40" y2="344.68" stroke="#ec0a12" stroke-width="1.3" />
<rect x="315.75" y="339.43" width="4.5" height="4.5" fill="#fff" stroke="#ec0a12" stroke-width="2"/>
<rect x="317.50" y="341.18" width="1" height="1" fill="#ec0a12" opacity="0.6"/>
<line x1="310.70" y1="356.19" x2="325.40" y2="356.19" stroke="#ec0a12" stroke-width="1.3" />
<line x1="310.70" y1="353.19" x2="310.70" y2="359.19" stroke="#ec0a12" stroke-width="1.3" />
<line x1="325.40" y1="353.19" x2="325.40" y2="359.19" stroke="#ec0a12" stroke-width="1.3" />
<rect x="315.75" y="353.94" width="4.5" height="4.5" fill="#fff" stroke="#ec0a12" stroke-width="2"/>
<rect x="317.50" y="355.69" width="1" height="1" fill="#ec0a12" opacity="0.6"/>
<polyline points="309.80,94.90 329.50,109.42 339.80,123.94 330.50,138.45 320.00,152.97 312.20,167.48 297.30,182.00 293.30,196.52 293.60,211.03 321.00,225.55 336.10,240.06 342.80,254.58 317.10,269.10 304.20,283.61 302.40,298.13 300.40,312.64 301.80,327.16 306.80,341.68 305.20,356.19" fill="none" stroke="#0505f2" stroke-width="1.5" stroke-linejoin="round" />
<line x1="300.00" y1="94.90" x2="320.30" y2="94.90" stroke="#0505f2" stroke-width="1.4" />
<line x1="300.00" y1="91.90" x2="300.00" y2="97.90" stroke="#0505f2" stroke-width="1.4" />
<line x1="320.30" y1="91.90" x2="320.30" y2="97.90" stroke="#0505f2" stroke-width="1.4" />
<circle cx="309.80" cy="94.90" r="3.6" fill="#0505f2"/>
<line x1="323.20" y1="109.42" x2="336.10" y2="109.42" stroke="#0505f2" stroke-width="1.4" />
<line x1="323.20" y1="106.42" x2="323.20" y2="112.42" stroke="#0505f2" stroke-width="1.4" />
<line x1="336.10" y1="106.42" x2="336.10" y2="112.42" stroke="#0505f2" stroke-width="1.4" />
<circle cx="329.50" cy="109.42" r="3.6" fill="#0505f2"/>
<line x1="334.50" y1="123.94" x2="345.40" y2="123.94" stroke="#0505f2" stroke-width="1.4" />
<line x1="334.50" y1="120.94" x2="334.50" y2="126.94" stroke="#0505f2" stroke-width="1.4" />
<line x1="345.40" y1="120.94" x2="345.40" y2="126.94" stroke="#0505f2" stroke-width="1.4" />
<circle cx="339.80" cy="123.94" r="3.6" fill="#0505f2"/>
<line x1="322.60" y1="138.45" x2="338.00" y2="138.45" stroke="#0505f2" stroke-width="1.4" />
<line x1="322.60" y1="135.45" x2="322.60" y2="141.45" stroke="#0505f2" stroke-width="1.4" />
<line x1="338.00" y1="135.45" x2="338.00" y2="141.45" stroke="#0505f2" stroke-width="1.4" />
<circle cx="330.50" cy="138.45" r="3.6" fill="#0505f2"/>
<line x1="314.30" y1="152.97" x2="325.60" y2="152.97" stroke="#0505f2" stroke-width="1.4" />
<line x1="314.30" y1="149.97" x2="314.30" y2="155.97" stroke="#0505f2" stroke-width="1.4" />
<line x1="325.60" y1="149.97" x2="325.60" y2="155.97" stroke="#0505f2" stroke-width="1.4" />
<circle cx="320.00" cy="152.97" r="3.6" fill="#0505f2"/>
<line x1="309.00" y1="167.48" x2="315.40" y2="167.48" stroke="#0505f2" stroke-width="1.4" />
<line x1="309.00" y1="164.48" x2="309.00" y2="170.48" stroke="#0505f2" stroke-width="1.4" />
<line x1="315.40" y1="164.48" x2="315.40" y2="170.48" stroke="#0505f2" stroke-width="1.4" />
<circle cx="312.20" cy="167.48" r="3.6" fill="#0505f2"/>
<line x1="294.00" y1="182.00" x2="300.60" y2="182.00" stroke="#0505f2" stroke-width="1.4" />
<line x1="294.00" y1="179.00" x2="294.00" y2="185.00" stroke="#0505f2" stroke-width="1.4" />
<line x1="300.60" y1="179.00" x2="300.60" y2="185.00" stroke="#0505f2" stroke-width="1.4" />
<circle cx="297.30" cy="182.00" r="3.6" fill="#0505f2"/>
<circle cx="293.30" cy="196.52" r="3" fill="#5a5af0" stroke="#0505f2" stroke-width="1.2"/>
<circle cx="293.60" cy="211.03" r="2.8" fill="#fff" stroke="#0505f2" stroke-width="1.5"/>
<line x1="307.80" y1="225.55" x2="334.50" y2="225.55" stroke="#0505f2" stroke-width="1.4" />
<line x1="307.80" y1="222.55" x2="307.80" y2="228.55" stroke="#0505f2" stroke-width="1.4" />
<line x1="334.50" y1="222.55" x2="334.50" y2="228.55" stroke="#0505f2" stroke-width="1.4" />
<circle cx="321.00" cy="225.55" r="3.6" fill="#0505f2"/>
<line x1="315.70" y1="240.06" x2="357.20" y2="240.06" stroke="#0505f2" stroke-width="1.4" />
<line x1="315.70" y1="237.06" x2="315.70" y2="243.06" stroke="#0505f2" stroke-width="1.4" />
<line x1="357.20" y1="237.06" x2="357.20" y2="243.06" stroke="#0505f2" stroke-width="1.4" />
<circle cx="336.10" cy="240.06" r="3.6" fill="#0505f2"/>
<line x1="331.10" y1="254.58" x2="355.30" y2="254.58" stroke="#0505f2" stroke-width="1.4" />
<line x1="331.10" y1="251.58" x2="331.10" y2="257.58" stroke="#0505f2" stroke-width="1.4" />
<line x1="355.30" y1="251.58" x2="355.30" y2="257.58" stroke="#0505f2" stroke-width="1.4" />
<circle cx="342.80" cy="254.58" r="3.6" fill="#0505f2"/>
<line x1="292.50" y1="269.10" x2="342.00" y2="269.10" stroke="#0505f2" stroke-width="1.4" />
<line x1="292.50" y1="266.10" x2="292.50" y2="272.10" stroke="#0505f2" stroke-width="1.4" />
<line x1="342.00" y1="266.10" x2="342.00" y2="272.10" stroke="#0505f2" stroke-width="1.4" />
<circle cx="317.10" cy="269.10" r="3.6" fill="#0505f2"/>
<line x1="299.80" y1="283.61" x2="309.10" y2="283.61" stroke="#0505f2" stroke-width="1.4" />
<line x1="299.80" y1="280.61" x2="299.80" y2="286.61" stroke="#0505f2" stroke-width="1.4" />
<line x1="309.10" y1="280.61" x2="309.10" y2="286.61" stroke="#0505f2" stroke-width="1.4" />
<circle cx="304.20" cy="283.61" r="3.6" fill="#0505f2"/>
<line x1="295.90" y1="298.13" x2="308.40" y2="298.13" stroke="#0505f2" stroke-width="1.4" />
<line x1="295.90" y1="295.13" x2="295.90" y2="301.13" stroke="#0505f2" stroke-width="1.4" />
<line x1="308.40" y1="295.13" x2="308.40" y2="301.13" stroke="#0505f2" stroke-width="1.4" />
<circle cx="302.40" cy="298.13" r="3.6" fill="#0505f2"/>
<circle cx="300.40" cy="312.64" r="3.6" fill="#0505f2"/>
<line x1="296.00" y1="327.16" x2="307.50" y2="327.16" stroke="#0505f2" stroke-width="1.4" />
<line x1="296.00" y1="324.16" x2="296.00" y2="330.16" stroke="#0505f2" stroke-width="1.4" />
<line x1="307.50" y1="324.16" x2="307.50" y2="330.16" stroke="#0505f2" stroke-width="1.4" />
<circle cx="301.80" cy="327.16" r="3.6" fill="#0505f2"/>
<line x1="302.40" y1="341.68" x2="311.10" y2="341.68" stroke="#0505f2" stroke-width="1.4" />
<line x1="302.40" y1="338.68" x2="302.40" y2="344.68" stroke="#0505f2" stroke-width="1.4" />
<line x1="311.10" y1="338.68" x2="311.10" y2="344.68" stroke="#0505f2" stroke-width="1.4" />
<circle cx="306.80" cy="341.68" r="3.6" fill="#0505f2"/>
<circle cx="305.20" cy="356.19" r="3.6" fill="#0505f2"/>
<rect x="129" y="229.5" width="56" height="49" fill="#fff"/>
<rect x="129" y="304.5" width="56" height="46.5" fill="#fff"/>
<text x="156.00" y="243.60" font-size="11.4" fill="#7c44b0" color="#7c44b0" text-anchor="middle" >Upper</text>
<text x="156.00" y="256.80" font-size="11.4" fill="#7c44b0" color="#7c44b0" text-anchor="middle" >decoupled</text>
<text x="156.00" y="270.00" font-size="11.4" fill="#7c44b0" color="#7c44b0" text-anchor="middle" >layer</text>
<text x="157.00" y="318.60" font-size="11.4" fill="#7c44b0" color="#7c44b0" text-anchor="middle" >Surface</text>
<text x="157.00" y="332.00" font-size="11.4" fill="#7c44b0" color="#7c44b0" text-anchor="middle" >mixed</text>
<text x="157.00" y="345.50" font-size="11.4" fill="#7c44b0" color="#7c44b0" text-anchor="middle" >layer</text>
<defs><clipPath id="mapclip"><rect x="438.4" y="72.6" width="231.1" height="128.7"/></clipPath><filter id="bl2" x="-50%" y="-50%" width="200%" height="200%"><feGaussianBlur stdDeviation="2"/></filter><filter id="bl1" x="-50%" y="-50%" width="200%" height="200%"><feGaussianBlur stdDeviation="0.55"/></filter><filter id="bl1s" x="-50%" y="-50%" width="200%" height="200%"><feGaussianBlur stdDeviation="0.9"/></filter><linearGradient id="cmap" x1="0" x2="1" y1="0" y2="0"><stop offset="0" stop-color="#32209a"/><stop offset="0.1" stop-color="#4232d8"/><stop offset="0.2" stop-color="#4650f2"/><stop offset="0.32" stop-color="#2c86e8"/><stop offset="0.45" stop-color="#12aed0"/><stop offset="0.55" stop-color="#1ec0b0"/><stop offset="0.66" stop-color="#5ec67c"/><stop offset="0.76" stop-color="#b4be48"/><stop offset="0.84" stop-color="#f0aa3c"/><stop offset="0.92" stop-color="#f8cc30"/><stop offset="1" stop-color="#f4f018"/></linearGradient></defs>
<g clip-path="url(#mapclip)">
<rect x="438.4" y="72.6" width="231.1" height="128.7" fill="#0b1024"/>
<ellipse cx="450" cy="92" rx="14" ry="12" fill="#c8ccd6" opacity="0.35" filter="url(#bl2)"/>
<ellipse cx="462" cy="110" rx="16" ry="6" fill="#c8ccd6" opacity="0.25" filter="url(#bl2)"/>
<ellipse cx="442" cy="128" rx="5" ry="12" fill="#c8ccd6" opacity="0.3" filter="url(#bl2)"/>
<ellipse cx="496" cy="82" rx="9" ry="7" fill="#c8ccd6" opacity="0.45" filter="url(#bl2)"/>
<ellipse cx="497" cy="99" rx="10" ry="7" fill="#c8ccd6" opacity="0.3" filter="url(#bl2)"/>
<ellipse cx="566" cy="162" rx="7" ry="16" fill="#c8ccd6" opacity="0.18" filter="url(#bl2)"/>
<ellipse cx="612" cy="194" rx="14" ry="7" fill="#c8ccd6" opacity="0.5" filter="url(#bl2)"/>
<ellipse cx="624" cy="177" rx="16" ry="8" fill="#c8ccd6" opacity="0.2" filter="url(#bl2)"/>
<ellipse cx="645" cy="155" rx="12" ry="12" fill="#c8ccd6" opacity="0.15" filter="url(#bl2)"/>
<ellipse cx="441" cy="170" rx="4" ry="25" fill="#c8ccd6" opacity="0.2" filter="url(#bl2)"/>
<ellipse cx="495" cy="199" rx="50" ry="3" fill="#c8ccd6" opacity="0.2" filter="url(#bl2)"/>
<g filter="url(#bl1s)">
<circle cx="444.2" cy="95.6" r="2.4" fill="rgb(213,213,221)" opacity="0.9"/>
<circle cx="439.5" cy="90.5" r="1.5" fill="rgb(231,231,239)" opacity="0.9"/>
<circle cx="453.3" cy="93.7" r="1.5" fill="rgb(213,213,221)" opacity="0.9"/>
<circle cx="434.3" cy="98.0" r="1.6" fill="rgb(219,219,227)" opacity="0.9"/>
<circle cx="434.2" cy="79.8" r="2.3" fill="rgb(226,226,234)" opacity="0.9"/>
<circle cx="448.1" cy="91.7" r="2.8" fill="rgb(222,222,230)" opacity="0.9"/>
<circle cx="448.2" cy="94.8" r="1.9" fill="rgb(244,244,252)" opacity="0.9"/>
<circle cx="449.9" cy="100.4" r="2.4" fill="rgb(225,225,233)" opacity="0.9"/>
<circle cx="443.6" cy="91.3" r="1.5" fill="rgb(218,218,226)" opacity="0.9"/>
<circle cx="442.9" cy="85.3" r="1.9" fill="rgb(234,234,242)" opacity="0.9"/>
<circle cx="440.3" cy="93.7" r="2.7" fill="rgb(239,239,247)" opacity="0.9"/>
<circle cx="446.3" cy="101.1" r="2.2" fill="rgb(246,246,254)" opacity="0.9"/>
<circle cx="445.3" cy="86.3" r="3.0" fill="rgb(214,214,222)" opacity="0.9"/>
<circle cx="435.7" cy="97.8" r="1.6" fill="rgb(230,230,238)" opacity="0.9"/>
<circle cx="456.1" cy="94.5" r="2.6" fill="rgb(234,234,242)" opacity="0.9"/>
<circle cx="450.3" cy="87.7" r="2.5" fill="rgb(234,234,242)" opacity="0.9"/>
<circle cx="439.2" cy="88.3" r="2.7" fill="rgb(249,249,255)" opacity="0.9"/>
<circle cx="435.8" cy="93.7" r="1.5" fill="rgb(239,239,247)" opacity="0.9"/>
<circle cx="432.7" cy="74.4" r="2.7" fill="rgb(221,221,229)" opacity="0.9"/>
<circle cx="438.2" cy="98.8" r="1.4" fill="rgb(229,229,237)" opacity="0.9"/>
<circle cx="447.7" cy="95.0" r="1.5" fill="rgb(242,242,250)" opacity="0.9"/>
<circle cx="449.6" cy="95.8" r="2.0" fill="rgb(246,246,254)" opacity="0.9"/>
<circle cx="452.7" cy="95.7" r="2.3" fill="rgb(247,247,255)" opacity="0.9"/>
<circle cx="451.9" cy="79.3" r="1.8" fill="rgb(227,227,235)" opacity="0.9"/>
<circle cx="436.8" cy="103.3" r="2.9" fill="rgb(216,216,224)" opacity="0.9"/>
<circle cx="448.3" cy="96.5" r="1.8" fill="rgb(230,230,238)" opacity="0.9"/>
<circle cx="441.4" cy="89.1" r="1.4" fill="rgb(227,227,235)" opacity="0.9"/>
<circle cx="439.8" cy="98.6" r="2.9" fill="rgb(239,239,247)" opacity="0.9"/>
<circle cx="436.3" cy="91.1" r="2.5" fill="rgb(212,212,220)" opacity="0.9"/>
<circle cx="455.8" cy="84.8" r="2.8" fill="rgb(243,243,251)" opacity="0.9"/>
<circle cx="440.5" cy="96.4" r="1.6" fill="rgb(236,236,244)" opacity="0.9"/>
<circle cx="448.4" cy="93.0" r="1.7" fill="rgb(216,216,224)" opacity="0.9"/>
<circle cx="444.8" cy="93.9" r="1.4" fill="rgb(216,216,224)" opacity="0.9"/>
<circle cx="451.3" cy="96.0" r="1.4" fill="rgb(246,246,254)" opacity="0.9"/>
<circle cx="443.0" cy="89.4" r="1.8" fill="rgb(224,224,232)" opacity="0.9"/>
<circle cx="443.6" cy="94.7" r="2.8" fill="rgb(251,251,255)" opacity="0.9"/>
<circle cx="438.1" cy="93.7" r="1.5" fill="rgb(214,214,222)" opacity="0.9"/>
<circle cx="443.0" cy="96.6" r="2.7" fill="rgb(216,216,224)" opacity="0.9"/>
<circle cx="463.0" cy="94.5" r="2.2" fill="rgb(216,216,224)" opacity="0.9"/>
<circle cx="444.4" cy="91.6" r="2.2" fill="rgb(251,251,255)" opacity="0.9"/>
<circle cx="453.1" cy="83.8" r="1.8" fill="rgb(225,225,233)" opacity="0.9"/>
<circle cx="452.0" cy="102.4" r="2.3" fill="rgb(242,242,250)" opacity="0.9"/>
<circle cx="443.6" cy="96.4" r="2.7" fill="rgb(251,251,255)" opacity="0.9"/>
<circle cx="453.6" cy="81.9" r="2.7" fill="rgb(241,241,249)" opacity="0.9"/>
<circle cx="447.2" cy="100.4" r="2.0" fill="rgb(211,211,219)" opacity="0.9"/>
<circle cx="451.6" cy="93.0" r="1.8" fill="rgb(239,239,247)" opacity="0.9"/>
<circle cx="453.3" cy="89.9" r="2.9" fill="rgb(251,251,255)" opacity="0.9"/>
<circle cx="452.4" cy="90.1" r="1.8" fill="rgb(219,219,227)" opacity="0.9"/>
<circle cx="447.6" cy="96.5" r="2.4" fill="rgb(247,247,255)" opacity="0.9"/>
<circle cx="450.3" cy="85.3" r="2.4" fill="rgb(243,243,251)" opacity="0.9"/>
<circle cx="454.9" cy="97.2" r="2.9" fill="rgb(242,242,250)" opacity="0.9"/>
<circle cx="446.0" cy="84.0" r="1.7" fill="rgb(243,243,251)" opacity="0.9"/>
<circle cx="439.8" cy="102.9" r="3.0" fill="rgb(226,226,234)" opacity="0.9"/>
<circle cx="432.2" cy="101.8" r="2.6" fill="rgb(217,217,225)" opacity="0.9"/>
<circle cx="448.8" cy="94.9" r="2.8" fill="rgb(243,243,251)" opacity="0.9"/>
<circle cx="454.0" cy="102.4" r="3.0" fill="rgb(237,237,245)" opacity="0.9"/>
<circle cx="440.8" cy="99.1" r="1.6" fill="rgb(210,210,218)" opacity="0.9"/>
<circle cx="456.0" cy="90.2" r="2.2" fill="rgb(249,249,255)" opacity="0.9"/>
<circle cx="433.0" cy="97.7" r="2.7" fill="rgb(218,218,226)" opacity="0.9"/>
<circle cx="445.9" cy="97.8" r="1.8" fill="rgb(234,234,242)" opacity="0.9"/>
<circle cx="445.6" cy="99.3" r="1.6" fill="rgb(248,248,255)" opacity="0.9"/>
<circle cx="441.3" cy="98.2" r="2.3" fill="rgb(247,247,255)" opacity="0.9"/>
<circle cx="432.3" cy="99.5" r="2.2" fill="rgb(232,232,240)" opacity="0.9"/>
<circle cx="444.7" cy="91.8" r="2.1" fill="rgb(217,217,225)" opacity="0.9"/>
<circle cx="458.5" cy="92.3" r="1.7" fill="rgb(229,229,237)" opacity="0.9"/>
<circle cx="444.6" cy="83.2" r="1.9" fill="rgb(231,231,239)" opacity="0.9"/>
<circle cx="434.5" cy="87.8" r="1.6" fill="rgb(233,233,241)" opacity="0.9"/>
<circle cx="446.1" cy="97.6" r="2.6" fill="rgb(231,231,239)" opacity="0.9"/>
<circle cx="435.1" cy="87.5" r="2.9" fill="rgb(228,228,236)" opacity="0.9"/>
<circle cx="439.7" cy="86.6" r="2.2" fill="rgb(239,239,247)" opacity="0.9"/>
<circle cx="452.1" cy="88.8" r="1.8" fill="rgb(231,231,239)" opacity="0.9"/>
<circle cx="454.8" cy="77.3" r="2.4" fill="rgb(190,190,198)" opacity="0.9"/>
<circle cx="446.8" cy="82.6" r="2.3" fill="rgb(183,183,191)" opacity="0.9"/>
<circle cx="461.9" cy="90.7" r="1.3" fill="rgb(189,189,197)" opacity="0.9"/>
<circle cx="464.7" cy="90.3" r="2.2" fill="rgb(228,228,236)" opacity="0.9"/>
<circle cx="462.5" cy="93.5" r="2.1" fill="rgb(183,183,191)" opacity="0.9"/>
<circle cx="467.7" cy="78.2" r="1.5" fill="rgb(232,232,240)" opacity="0.9"/>
<circle cx="453.4" cy="90.4" r="2.5" fill="rgb(224,224,232)" opacity="0.9"/>
<circle cx="460.8" cy="91.5" r="1.9" fill="rgb(195,195,203)" opacity="0.9"/>
<circle cx="459.5" cy="91.1" r="2.1" fill="rgb(176,176,184)" opacity="0.9"/>
<circle cx="452.9" cy="85.2" r="1.2" fill="rgb(194,194,202)" opacity="0.9"/>
<circle cx="453.7" cy="82.8" r="1.3" fill="rgb(234,234,242)" opacity="0.9"/>
<circle cx="461.2" cy="74.0" r="1.3" fill="rgb(190,190,198)" opacity="0.9"/>
<circle cx="466.4" cy="89.1" r="1.6" fill="rgb(182,182,190)" opacity="0.9"/>
<circle cx="448.3" cy="92.2" r="2.3" fill="rgb(190,190,198)" opacity="0.9"/>
<circle cx="464.6" cy="96.0" r="1.9" fill="rgb(217,217,225)" opacity="0.9"/>
<circle cx="459.5" cy="87.9" r="2.1" fill="rgb(200,200,208)" opacity="0.9"/>
<circle cx="468.6" cy="92.2" r="2.0" fill="rgb(223,223,231)" opacity="0.9"/>
<circle cx="466.5" cy="91.9" r="1.3" fill="rgb(226,226,234)" opacity="0.9"/>
<circle cx="453.6" cy="88.3" r="1.9" fill="rgb(230,230,238)" opacity="0.9"/>
<circle cx="457.7" cy="89.6" r="1.9" fill="rgb(189,189,197)" opacity="0.9"/>
<circle cx="460.3" cy="88.9" r="1.3" fill="rgb(187,187,195)" opacity="0.9"/>
<circle cx="456.4" cy="90.9" r="2.2" fill="rgb(192,192,200)" opacity="0.9"/>
<circle cx="454.9" cy="87.0" r="1.7" fill="rgb(176,176,184)" opacity="0.9"/>
<circle cx="458.0" cy="87.9" r="2.2" fill="rgb(208,208,216)" opacity="0.9"/>
<circle cx="448.5" cy="79.2" r="1.9" fill="rgb(126,126,134)" opacity="0.9"/>
<circle cx="448.7" cy="73.1" r="1.5" fill="rgb(170,170,178)" opacity="0.9"/>
<circle cx="440.4" cy="78.2" r="1.7" fill="rgb(178,178,186)" opacity="0.9"/>
<circle cx="439.8" cy="80.7" r="1.7" fill="rgb(158,158,166)" opacity="0.9"/>
<circle cx="441.4" cy="77.6" r="1.1" fill="rgb(127,127,135)" opacity="0.9"/>
<circle cx="454.9" cy="78.1" r="1.3" fill="rgb(129,129,137)" opacity="0.9"/>
<circle cx="455.9" cy="78.9" r="1.9" fill="rgb(160,160,168)" opacity="0.9"/>
<circle cx="445.1" cy="78.2" r="1.3" fill="rgb(147,147,155)" opacity="0.9"/>
<circle cx="449.6" cy="78.7" r="1.3" fill="rgb(177,177,185)" opacity="0.9"/>
<circle cx="453.4" cy="75.4" r="1.2" fill="rgb(177,177,185)" opacity="0.9"/>
<circle cx="443.9" cy="78.6" r="1.0" fill="rgb(142,142,150)" opacity="0.9"/>
<circle cx="439.0" cy="76.6" r="1.2" fill="rgb(150,150,158)" opacity="0.9"/>
<circle cx="450.7" cy="76.1" r="1.1" fill="rgb(143,143,151)" opacity="0.9"/>
<circle cx="447.2" cy="76.2" r="1.3" fill="rgb(133,133,141)" opacity="0.9"/>
<circle cx="439.7" cy="74.1" r="1.8" fill="rgb(159,159,167)" opacity="0.9"/>
<circle cx="443.4" cy="70.0" r="1.4" fill="rgb(139,139,147)" opacity="0.9"/>
<circle cx="449.4" cy="75.8" r="1.7" fill="rgb(158,158,166)" opacity="0.9"/>
<circle cx="457.0" cy="77.5" r="1.9" fill="rgb(157,157,165)" opacity="0.9"/>
<circle cx="444.9" cy="70.5" r="1.1" fill="rgb(151,151,159)" opacity="0.9"/>
<circle cx="434.6" cy="75.8" r="1.8" fill="rgb(169,169,177)" opacity="0.9"/>
<circle cx="462.7" cy="75.7" r="1.7" fill="rgb(181,181,189)" opacity="0.9"/>
<circle cx="470.1" cy="82.2" r="1.1" fill="rgb(161,161,169)" opacity="0.9"/>
<circle cx="476.0" cy="86.8" r="1.6" fill="rgb(177,177,185)" opacity="0.9"/>
<circle cx="465.8" cy="75.6" r="1.5" fill="rgb(140,140,148)" opacity="0.9"/>
<circle cx="472.0" cy="73.1" r="1.5" fill="rgb(172,172,180)" opacity="0.9"/>
<circle cx="469.2" cy="79.4" r="1.7" fill="rgb(155,155,163)" opacity="0.9"/>
<circle cx="472.8" cy="82.8" r="1.7" fill="rgb(152,152,160)" opacity="0.9"/>
<circle cx="469.3" cy="67.4" r="1.5" fill="rgb(162,162,170)" opacity="0.9"/>
<circle cx="464.0" cy="82.0" r="1.8" fill="rgb(177,177,185)" opacity="0.9"/>
<circle cx="469.0" cy="79.4" r="1.1" fill="rgb(155,155,163)" opacity="0.9"/>
<circle cx="469.9" cy="76.7" r="1.6" fill="rgb(140,140,148)" opacity="0.9"/>
<circle cx="472.9" cy="82.5" r="1.7" fill="rgb(181,181,189)" opacity="0.9"/>
<circle cx="493.8" cy="75.0" r="2.1" fill="rgb(229,229,237)" opacity="0.9"/>
<circle cx="493.1" cy="78.4" r="2.6" fill="rgb(218,218,226)" opacity="0.9"/>
<circle cx="509.9" cy="76.7" r="1.3" fill="rgb(229,229,237)" opacity="0.9"/>
<circle cx="502.7" cy="68.5" r="2.0" fill="rgb(221,221,229)" opacity="0.9"/>
<circle cx="499.6" cy="87.3" r="1.6" fill="rgb(234,234,242)" opacity="0.9"/>
<circle cx="500.6" cy="81.8" r="2.7" fill="rgb(215,215,223)" opacity="0.9"/>
<circle cx="499.1" cy="73.7" r="2.6" fill="rgb(239,239,247)" opacity="0.9"/>
<circle cx="497.5" cy="86.5" r="2.0" fill="rgb(211,211,219)" opacity="0.9"/>
<circle cx="503.0" cy="78.1" r="2.0" fill="rgb(222,222,230)" opacity="0.9"/>
<circle cx="499.5" cy="80.8" r="1.8" fill="rgb(245,245,253)" opacity="0.9"/>
<circle cx="506.0" cy="78.1" r="2.6" fill="rgb(215,215,223)" opacity="0.9"/>
<circle cx="504.5" cy="75.2" r="2.7" fill="rgb(222,222,230)" opacity="0.9"/>
<circle cx="491.8" cy="80.9" r="2.8" fill="rgb(234,234,242)" opacity="0.9"/>
<circle cx="491.9" cy="81.2" r="1.7" fill="rgb(212,212,220)" opacity="0.9"/>
<circle cx="505.1" cy="82.5" r="1.7" fill="rgb(249,249,255)" opacity="0.9"/>
<circle cx="496.0" cy="81.1" r="2.1" fill="rgb(217,217,225)" opacity="0.9"/>
<circle cx="485.5" cy="85.1" r="2.6" fill="rgb(244,244,252)" opacity="0.9"/>
<circle cx="487.0" cy="71.5" r="2.7" fill="rgb(233,233,241)" opacity="0.9"/>
<circle cx="495.6" cy="76.7" r="2.4" fill="rgb(228,228,236)" opacity="0.9"/>
<circle cx="496.1" cy="72.2" r="1.7" fill="rgb(212,212,220)" opacity="0.9"/>
<circle cx="498.8" cy="77.1" r="2.0" fill="rgb(224,224,232)" opacity="0.9"/>
<circle cx="493.1" cy="84.3" r="2.8" fill="rgb(220,220,228)" opacity="0.9"/>
<circle cx="493.2" cy="75.2" r="2.1" fill="rgb(226,226,234)" opacity="0.9"/>
<circle cx="497.8" cy="80.1" r="1.6" fill="rgb(248,248,255)" opacity="0.9"/>
<circle cx="491.8" cy="78.1" r="2.7" fill="rgb(251,251,255)" opacity="0.9"/>
<circle cx="492.9" cy="78.7" r="1.6" fill="rgb(213,213,221)" opacity="0.9"/>
<circle cx="494.6" cy="79.5" r="1.7" fill="rgb(220,220,228)" opacity="0.9"/>
<circle cx="484.6" cy="74.5" r="2.4" fill="rgb(227,227,235)" opacity="0.9"/>
<circle cx="489.7" cy="80.5" r="1.9" fill="rgb(224,224,232)" opacity="0.9"/>
<circle cx="500.5" cy="79.2" r="2.8" fill="rgb(215,215,223)" opacity="0.9"/>
<circle cx="487.5" cy="77.9" r="2.6" fill="rgb(219,219,227)" opacity="0.9"/>
<circle cx="495.4" cy="81.0" r="1.9" fill="rgb(228,228,236)" opacity="0.9"/>
<circle cx="507.2" cy="75.8" r="2.6" fill="rgb(210,210,218)" opacity="0.9"/>
<circle cx="505.2" cy="79.3" r="2.6" fill="rgb(229,229,237)" opacity="0.9"/>
<circle cx="495.9" cy="78.0" r="1.9" fill="rgb(248,248,255)" opacity="0.9"/>
<circle cx="501.4" cy="71.0" r="2.8" fill="rgb(220,220,228)" opacity="0.9"/>
<circle cx="498.7" cy="79.5" r="2.1" fill="rgb(238,238,246)" opacity="0.9"/>
<circle cx="505.0" cy="75.7" r="2.3" fill="rgb(242,242,250)" opacity="0.9"/>
<circle cx="488.7" cy="79.3" r="1.4" fill="rgb(242,242,250)" opacity="0.9"/>
<circle cx="497.5" cy="86.9" r="2.3" fill="rgb(222,222,230)" opacity="0.9"/>
<circle cx="499.2" cy="80.2" r="2.3" fill="rgb(239,239,247)" opacity="0.9"/>
<circle cx="497.7" cy="79.0" r="2.1" fill="rgb(234,234,242)" opacity="0.9"/>
<circle cx="492.7" cy="79.8" r="2.2" fill="rgb(210,210,218)" opacity="0.9"/>
<circle cx="493.9" cy="82.2" r="2.7" fill="rgb(237,237,245)" opacity="0.9"/>
<circle cx="501.1" cy="75.0" r="1.7" fill="rgb(220,220,228)" opacity="0.9"/>
<circle cx="507.6" cy="93.7" r="1.4" fill="rgb(151,151,159)" opacity="0.9"/>
<circle cx="486.5" cy="96.1" r="1.6" fill="rgb(166,166,174)" opacity="0.9"/>
<circle cx="489.1" cy="84.1" r="1.3" fill="rgb(152,152,160)" opacity="0.9"/>
<circle cx="493.2" cy="101.3" r="2.0" fill="rgb(162,162,170)" opacity="0.9"/>
<circle cx="500.3" cy="86.6" r="1.7" fill="rgb(163,163,171)" opacity="0.9"/>
<circle cx="502.9" cy="95.0" r="2.1" fill="rgb(165,165,173)" opacity="0.9"/>
<circle cx="499.1" cy="106.0" r="1.4" fill="rgb(211,211,219)" opacity="0.9"/>
<circle cx="492.5" cy="96.1" r="1.3" fill="rgb(177,177,185)" opacity="0.9"/>
<circle cx="488.3" cy="83.4" r="1.2" fill="rgb(175,175,183)" opacity="0.9"/>
<circle cx="501.4" cy="111.8" r="1.2" fill="rgb(153,153,161)" opacity="0.9"/>
<circle cx="503.5" cy="98.2" r="2.3" fill="rgb(207,207,215)" opacity="0.9"/>
<circle cx="494.4" cy="75.3" r="2.3" fill="rgb(171,171,179)" opacity="0.9"/>
<circle cx="503.5" cy="108.9" r="2.0" fill="rgb(152,152,160)" opacity="0.9"/>
<circle cx="493.5" cy="91.0" r="1.5" fill="rgb(171,171,179)" opacity="0.9"/>
<circle cx="497.3" cy="96.4" r="1.4" fill="rgb(172,172,180)" opacity="0.9"/>
<circle cx="500.5" cy="95.1" r="2.3" fill="rgb(163,163,171)" opacity="0.9"/>
<circle cx="488.9" cy="104.7" r="2.2" fill="rgb(178,178,186)" opacity="0.9"/>
<circle cx="504.6" cy="98.1" r="1.5" fill="rgb(209,209,217)" opacity="0.9"/>
<circle cx="499.3" cy="101.3" r="2.3" fill="rgb(151,151,159)" opacity="0.9"/>
<circle cx="486.2" cy="101.8" r="2.1" fill="rgb(152,152,160)" opacity="0.9"/>
<circle cx="499.5" cy="96.5" r="2.3" fill="rgb(166,166,174)" opacity="0.9"/>
<circle cx="496.7" cy="83.2" r="1.5" fill="rgb(167,167,175)" opacity="0.9"/>
<circle cx="506.4" cy="93.8" r="1.4" fill="rgb(196,196,204)" opacity="0.9"/>
<circle cx="494.7" cy="100.4" r="1.0" fill="rgb(199,199,207)" opacity="0.9"/>
<circle cx="505.6" cy="91.7" r="2.3" fill="rgb(151,151,159)" opacity="0.9"/>
<circle cx="497.8" cy="102.8" r="2.3" fill="rgb(212,212,220)" opacity="0.9"/>
<circle cx="493.0" cy="99.0" r="1.6" fill="rgb(182,182,190)" opacity="0.9"/>
<circle cx="501.0" cy="94.3" r="2.1" fill="rgb(198,198,206)" opacity="0.9"/>
<circle cx="502.3" cy="86.7" r="1.9" fill="rgb(171,171,179)" opacity="0.9"/>
<circle cx="494.2" cy="101.2" r="2.1" fill="rgb(155,155,163)" opacity="0.9"/>
<circle cx="500.8" cy="105.5" r="1.3" fill="rgb(154,154,162)" opacity="0.9"/>
<circle cx="505.7" cy="97.6" r="1.5" fill="rgb(213,213,221)" opacity="0.9"/>
<circle cx="512.5" cy="84.1" r="1.4" fill="rgb(155,155,163)" opacity="0.9"/>
<circle cx="503.8" cy="100.0" r="2.0" fill="rgb(179,179,187)" opacity="0.9"/>
<circle cx="497.7" cy="102.2" r="1.9" fill="rgb(193,193,201)" opacity="0.9"/>
<circle cx="505.9" cy="78.4" r="1.7" fill="rgb(146,146,154)" opacity="0.9"/>
<circle cx="507.4" cy="85.8" r="1.6" fill="rgb(158,158,166)" opacity="0.9"/>
<circle cx="505.9" cy="86.0" r="1.2" fill="rgb(152,152,160)" opacity="0.9"/>
<circle cx="509.6" cy="100.2" r="1.6" fill="rgb(156,156,164)" opacity="0.9"/>
<circle cx="498.6" cy="101.4" r="1.5" fill="rgb(151,151,159)" opacity="0.9"/>
<circle cx="507.6" cy="81.8" r="2.0" fill="rgb(145,145,153)" opacity="0.9"/>
<circle cx="500.5" cy="91.8" r="1.8" fill="rgb(185,185,193)" opacity="0.9"/>
<circle cx="508.4" cy="91.3" r="1.1" fill="rgb(149,149,157)" opacity="0.9"/>
<circle cx="509.9" cy="88.7" r="1.9" fill="rgb(158,158,166)" opacity="0.9"/>
<circle cx="508.2" cy="85.1" r="1.3" fill="rgb(178,178,186)" opacity="0.9"/>
<circle cx="460.3" cy="111.2" r="1.8" fill="rgb(220,220,228)" opacity="0.9"/>
<circle cx="457.3" cy="116.7" r="1.2" fill="rgb(193,193,201)" opacity="0.9"/>
<circle cx="454.5" cy="118.8" r="1.9" fill="rgb(193,193,201)" opacity="0.9"/>
<circle cx="465.7" cy="112.3" r="1.9" fill="rgb(192,192,200)" opacity="0.9"/>
<circle cx="451.9" cy="115.1" r="2.1" fill="rgb(215,215,223)" opacity="0.9"/>
<circle cx="460.1" cy="112.9" r="1.6" fill="rgb(215,215,223)" opacity="0.9"/>
<circle cx="451.6" cy="110.3" r="1.2" fill="rgb(225,225,233)" opacity="0.9"/>
<circle cx="446.7" cy="114.2" r="1.4" fill="rgb(241,241,249)" opacity="0.9"/>
<circle cx="449.1" cy="118.0" r="1.5" fill="rgb(207,207,215)" opacity="0.9"/>
<circle cx="481.6" cy="99.3" r="1.5" fill="rgb(192,192,200)" opacity="0.9"/>
<circle cx="453.9" cy="108.7" r="1.0" fill="rgb(238,238,246)" opacity="0.9"/>
<circle cx="435.3" cy="116.3" r="1.6" fill="rgb(237,237,245)" opacity="0.9"/>
<circle cx="448.1" cy="112.7" r="1.0" fill="rgb(215,215,223)" opacity="0.9"/>
<circle cx="438.3" cy="103.5" r="1.1" fill="rgb(220,220,228)" opacity="0.9"/>
<circle cx="445.2" cy="116.3" r="1.2" fill="rgb(198,198,206)" opacity="0.9"/>
<circle cx="427.9" cy="110.5" r="1.2" fill="rgb(211,211,219)" opacity="0.9"/>
<circle cx="465.6" cy="99.7" r="1.3" fill="rgb(188,188,196)" opacity="0.9"/>
<circle cx="485.6" cy="107.2" r="1.7" fill="rgb(183,183,191)" opacity="0.9"/>
<circle cx="465.6" cy="109.8" r="2.3" fill="rgb(220,220,228)" opacity="0.9"/>
<circle cx="458.2" cy="109.4" r="2.1" fill="rgb(194,194,202)" opacity="0.9"/>
<circle cx="435.8" cy="117.5" r="2.2" fill="rgb(191,191,199)" opacity="0.9"/>
<circle cx="457.4" cy="117.0" r="1.7" fill="rgb(204,204,212)" opacity="0.9"/>
<circle cx="461.5" cy="114.6" r="2.0" fill="rgb(238,238,246)" opacity="0.9"/>
<circle cx="469.9" cy="113.6" r="2.1" fill="rgb(182,182,190)" opacity="0.9"/>
<circle cx="458.2" cy="109.9" r="1.8" fill="rgb(215,215,223)" opacity="0.9"/>
<circle cx="447.8" cy="108.9" r="1.6" fill="rgb(217,217,225)" opacity="0.9"/>
<circle cx="439.3" cy="115.3" r="1.6" fill="rgb(208,208,216)" opacity="0.9"/>
<circle cx="471.5" cy="113.0" r="1.7" fill="rgb(195,195,203)" opacity="0.9"/>
<circle cx="456.8" cy="103.3" r="1.6" fill="rgb(191,191,199)" opacity="0.9"/>
<circle cx="449.4" cy="112.4" r="1.2" fill="rgb(207,207,215)" opacity="0.9"/>
<circle cx="465.9" cy="114.9" r="1.7" fill="rgb(182,182,190)" opacity="0.9"/>
<circle cx="451.7" cy="110.4" r="2.0" fill="rgb(230,230,238)" opacity="0.9"/>
<circle cx="451.0" cy="111.9" r="1.7" fill="rgb(204,204,212)" opacity="0.9"/>
<circle cx="461.2" cy="111.2" r="2.2" fill="rgb(244,244,252)" opacity="0.9"/>
<circle cx="452.5" cy="102.9" r="1.3" fill="rgb(243,243,251)" opacity="0.9"/>
<circle cx="425.0" cy="112.6" r="2.3" fill="rgb(190,190,198)" opacity="0.9"/>
<circle cx="461.6" cy="100.8" r="1.1" fill="rgb(202,202,210)" opacity="0.9"/>
<circle cx="455.3" cy="109.1" r="2.3" fill="rgb(197,197,205)" opacity="0.9"/>
<circle cx="457.7" cy="109.4" r="1.7" fill="rgb(239,239,247)" opacity="0.9"/>
<circle cx="457.4" cy="115.8" r="1.7" fill="rgb(200,200,208)" opacity="0.9"/>
<circle cx="462.4" cy="112.7" r="1.2" fill="rgb(240,240,248)" opacity="0.9"/>
<circle cx="444.1" cy="102.4" r="1.2" fill="rgb(231,231,239)" opacity="0.9"/>
<circle cx="466.1" cy="116.1" r="1.9" fill="rgb(203,203,211)" opacity="0.9"/>
<circle cx="465.7" cy="107.4" r="1.8" fill="rgb(237,237,245)" opacity="0.9"/>
<circle cx="484.9" cy="121.6" r="1.9" fill="rgb(205,205,213)" opacity="0.9"/>
<circle cx="457.8" cy="108.3" r="2.4" fill="rgb(217,217,225)" opacity="0.9"/>
<circle cx="442.0" cy="118.5" r="1.6" fill="rgb(191,191,199)" opacity="0.9"/>
<circle cx="454.8" cy="110.4" r="2.1" fill="rgb(196,196,204)" opacity="0.9"/>
<circle cx="432.9" cy="101.0" r="1.8" fill="rgb(223,223,231)" opacity="0.9"/>
<circle cx="454.7" cy="112.3" r="1.0" fill="rgb(189,189,197)" opacity="0.9"/>
<circle cx="445.5" cy="108.5" r="1.7" fill="rgb(238,238,246)" opacity="0.9"/>
<circle cx="460.8" cy="114.6" r="1.9" fill="rgb(181,181,189)" opacity="0.9"/>
<circle cx="466.2" cy="112.1" r="1.1" fill="rgb(203,203,211)" opacity="0.9"/>
<circle cx="457.6" cy="118.5" r="1.8" fill="rgb(193,193,201)" opacity="0.9"/>
<circle cx="445.3" cy="108.0" r="1.2" fill="rgb(240,240,248)" opacity="0.9"/>
<circle cx="443.1" cy="132.5" r="1.1" fill="rgb(191,191,199)" opacity="0.9"/>
<circle cx="447.8" cy="117.9" r="1.6" fill="rgb(167,167,175)" opacity="0.9"/>
<circle cx="448.7" cy="128.8" r="1.8" fill="rgb(172,172,180)" opacity="0.9"/>
<circle cx="440.4" cy="121.1" r="2.3" fill="rgb(197,197,205)" opacity="0.9"/>
<circle cx="443.1" cy="145.3" r="1.1" fill="rgb(184,184,192)" opacity="0.9"/>
<circle cx="440.6" cy="131.3" r="1.1" fill="rgb(200,200,208)" opacity="0.9"/>
<circle cx="448.0" cy="128.8" r="2.3" fill="rgb(159,159,167)" opacity="0.9"/>
<circle cx="444.7" cy="138.4" r="1.7" fill="rgb(191,191,199)" opacity="0.9"/>
<circle cx="444.0" cy="123.4" r="1.4" fill="rgb(169,169,177)" opacity="0.9"/>
<circle cx="451.0" cy="133.0" r="2.1" fill="rgb(196,196,204)" opacity="0.9"/>
<circle cx="450.7" cy="128.6" r="2.0" fill="rgb(180,180,188)" opacity="0.9"/>
<circle cx="442.8" cy="119.2" r="1.3" fill="rgb(156,156,164)" opacity="0.9"/>
<circle cx="443.1" cy="130.2" r="1.5" fill="rgb(198,198,206)" opacity="0.9"/>
<circle cx="440.4" cy="113.5" r="2.0" fill="rgb(167,167,175)" opacity="0.9"/>
<circle cx="439.0" cy="125.2" r="2.1" fill="rgb(184,184,192)" opacity="0.9"/>
<circle cx="442.4" cy="139.4" r="2.4" fill="rgb(164,164,172)" opacity="0.9"/>
<circle cx="443.5" cy="127.0" r="1.4" fill="rgb(165,165,173)" opacity="0.9"/>
<circle cx="442.6" cy="108.8" r="2.0" fill="rgb(171,171,179)" opacity="0.9"/>
<circle cx="445.6" cy="123.1" r="1.3" fill="rgb(208,208,216)" opacity="0.9"/>
<circle cx="438.8" cy="119.0" r="1.9" fill="rgb(213,213,221)" opacity="0.9"/>
<circle cx="435.5" cy="130.9" r="2.0" fill="rgb(205,205,213)" opacity="0.9"/>
<circle cx="437.1" cy="132.9" r="1.8" fill="rgb(170,170,178)" opacity="0.9"/>
<circle cx="444.3" cy="138.9" r="1.1" fill="rgb(209,209,217)" opacity="0.9"/>
<circle cx="443.6" cy="129.5" r="1.1" fill="rgb(210,210,218)" opacity="0.9"/>
<circle cx="441.8" cy="131.7" r="1.0" fill="rgb(152,152,160)" opacity="0.9"/>
<circle cx="441.0" cy="117.4" r="2.0" fill="rgb(197,197,205)" opacity="0.9"/>
<circle cx="447.9" cy="132.3" r="1.5" fill="rgb(203,203,211)" opacity="0.9"/>
<circle cx="446.6" cy="112.7" r="1.1" fill="rgb(206,206,214)" opacity="0.9"/>
<circle cx="451.3" cy="118.2" r="1.1" fill="rgb(163,163,171)" opacity="0.9"/>
<circle cx="443.8" cy="129.4" r="2.2" fill="rgb(202,202,210)" opacity="0.9"/>
<circle cx="467.5" cy="113.8" r="1.4" fill="rgb(147,147,155)" opacity="0.9"/>
<circle cx="477.2" cy="118.8" r="1.6" fill="rgb(142,142,150)" opacity="0.9"/>
<circle cx="472.3" cy="120.9" r="0.8" fill="rgb(145,145,153)" opacity="0.9"/>
<circle cx="473.1" cy="122.7" r="1.2" fill="rgb(149,149,157)" opacity="0.9"/>
<circle cx="481.9" cy="117.2" r="1.7" fill="rgb(167,167,175)" opacity="0.9"/>
<circle cx="481.1" cy="118.6" r="1.2" fill="rgb(176,176,184)" opacity="0.9"/>
<circle cx="469.6" cy="121.8" r="1.3" fill="rgb(142,142,150)" opacity="0.9"/>
<circle cx="476.7" cy="117.0" r="1.6" fill="rgb(140,140,148)" opacity="0.9"/>
<circle cx="479.0" cy="118.0" r="1.6" fill="rgb(188,188,196)" opacity="0.9"/>
<circle cx="482.0" cy="118.1" r="1.3" fill="rgb(177,177,185)" opacity="0.9"/>
<circle cx="477.8" cy="121.2" r="1.1" fill="rgb(179,179,187)" opacity="0.9"/>
<circle cx="474.0" cy="125.2" r="1.1" fill="rgb(142,142,150)" opacity="0.9"/>
<circle cx="472.8" cy="114.7" r="0.9" fill="rgb(168,168,176)" opacity="0.9"/>
<circle cx="484.2" cy="120.6" r="1.5" fill="rgb(177,177,185)" opacity="0.9"/>
<circle cx="459.4" cy="98.0" r="1.4" fill="rgb(149,149,157)" opacity="0.9"/>
<circle cx="463.3" cy="99.2" r="1.9" fill="rgb(131,131,139)" opacity="0.9"/>
<circle cx="462.9" cy="102.3" r="1.9" fill="rgb(155,155,163)" opacity="0.9"/>
<circle cx="456.0" cy="104.3" r="1.2" fill="rgb(153,153,161)" opacity="0.9"/>
<circle cx="455.4" cy="99.0" r="1.8" fill="rgb(162,162,170)" opacity="0.9"/>
<circle cx="459.9" cy="102.2" r="1.2" fill="rgb(172,172,180)" opacity="0.9"/>
<circle cx="458.5" cy="95.8" r="1.2" fill="rgb(151,151,159)" opacity="0.9"/>
<circle cx="462.8" cy="96.1" r="1.1" fill="rgb(153,153,161)" opacity="0.9"/>
<circle cx="464.2" cy="98.5" r="1.2" fill="rgb(145,145,153)" opacity="0.9"/>
<circle cx="459.8" cy="94.5" r="1.2" fill="rgb(137,137,145)" opacity="0.9"/>
</g>
<g filter="url(#bl1)">
<circle cx="548.1" cy="85.3" r="0.9" fill="rgb(129,129,137)" opacity="0.9"/>
<circle cx="545.6" cy="83.4" r="1.2" fill="rgb(163,163,171)" opacity="0.9"/>
<circle cx="564.4" cy="89.2" r="0.7" fill="rgb(143,143,151)" opacity="0.9"/>
<circle cx="562.2" cy="78.9" r="1.0" fill="rgb(146,146,154)" opacity="0.9"/>
<circle cx="551.8" cy="88.1" r="0.7" fill="rgb(132,132,140)" opacity="0.9"/>
<circle cx="546.4" cy="81.0" r="0.8" fill="rgb(167,167,175)" opacity="0.9"/>
<circle cx="544.7" cy="73.4" r="1.0" fill="rgb(147,147,155)" opacity="0.9"/>
<circle cx="554.8" cy="86.3" r="0.8" fill="rgb(164,164,172)" opacity="0.9"/>
<circle cx="555.1" cy="76.5" r="0.9" fill="rgb(164,164,172)" opacity="0.9"/>
<circle cx="542.9" cy="82.1" r="1.0" fill="rgb(172,172,180)" opacity="0.9"/>
<circle cx="549.9" cy="70.8" r="1.1" fill="rgb(160,160,168)" opacity="0.9"/>
<circle cx="542.5" cy="74.9" r="0.8" fill="rgb(157,157,165)" opacity="0.9"/>
<circle cx="554.8" cy="83.6" r="1.1" fill="rgb(162,162,170)" opacity="0.9"/>
<circle cx="543.8" cy="76.7" r="0.9" fill="rgb(147,147,155)" opacity="0.9"/>
<circle cx="542.1" cy="75.7" r="1.0" fill="rgb(175,175,183)" opacity="0.9"/>
<circle cx="552.8" cy="88.0" r="1.1" fill="rgb(143,143,151)" opacity="0.9"/>
<circle cx="526.4" cy="81.0" r="0.6" fill="rgb(152,152,160)" opacity="0.9"/>
<circle cx="555.4" cy="88.9" r="1.2" fill="rgb(151,151,159)" opacity="0.9"/>
<circle cx="556.4" cy="84.7" r="0.9" fill="rgb(163,163,171)" opacity="0.9"/>
<circle cx="536.6" cy="79.3" r="1.1" fill="rgb(151,151,159)" opacity="0.9"/>
<circle cx="531.6" cy="87.8" r="0.7" fill="rgb(161,161,169)" opacity="0.9"/>
<circle cx="537.4" cy="86.4" r="0.7" fill="rgb(179,179,187)" opacity="0.9"/>
<circle cx="546.3" cy="81.6" r="0.8" fill="rgb(143,143,151)" opacity="0.9"/>
<circle cx="556.3" cy="80.5" r="0.9" fill="rgb(161,161,169)" opacity="0.9"/>
<circle cx="544.2" cy="83.8" r="0.7" fill="rgb(164,164,172)" opacity="0.9"/>
<circle cx="588.7" cy="80.5" r="0.7" fill="rgb(172,172,180)" opacity="0.9"/>
<circle cx="568.6" cy="89.3" r="0.7" fill="rgb(170,170,178)" opacity="0.9"/>
<circle cx="581.2" cy="71.8" r="0.9" fill="rgb(156,156,164)" opacity="0.9"/>
<circle cx="579.6" cy="110.5" r="0.8" fill="rgb(161,161,169)" opacity="0.9"/>
<circle cx="584.2" cy="68.3" r="0.9" fill="rgb(139,139,147)" opacity="0.9"/>
<circle cx="569.1" cy="83.5" r="1.1" fill="rgb(143,143,151)" opacity="0.9"/>
<circle cx="580.6" cy="78.6" r="0.8" fill="rgb(136,136,144)" opacity="0.9"/>
<circle cx="568.1" cy="87.9" r="0.6" fill="rgb(166,166,174)" opacity="0.9"/>
<circle cx="573.2" cy="92.4" r="0.8" fill="rgb(151,151,159)" opacity="0.9"/>
<circle cx="559.6" cy="91.2" r="1.0" fill="rgb(143,143,151)" opacity="0.9"/>
<circle cx="596.2" cy="76.5" r="0.6" fill="rgb(173,173,181)" opacity="0.9"/>
<circle cx="592.4" cy="75.2" r="0.7" fill="rgb(174,174,182)" opacity="0.9"/>
<circle cx="573.6" cy="83.7" r="0.6" fill="rgb(181,181,189)" opacity="0.9"/>
<circle cx="569.9" cy="78.7" r="0.7" fill="rgb(129,129,137)" opacity="0.9"/>
<circle cx="577.1" cy="102.2" r="0.8" fill="rgb(129,129,137)" opacity="0.9"/>
<circle cx="592.5" cy="75.0" r="0.7" fill="rgb(177,177,185)" opacity="0.9"/>
<circle cx="558.7" cy="74.0" r="1.0" fill="rgb(178,178,186)" opacity="0.9"/>
<circle cx="580.4" cy="66.4" r="0.7" fill="rgb(165,165,173)" opacity="0.9"/>
<circle cx="555.6" cy="81.8" r="0.9" fill="rgb(177,177,185)" opacity="0.9"/>
<circle cx="566.2" cy="82.3" r="0.7" fill="rgb(129,129,137)" opacity="0.9"/>
<circle cx="570.8" cy="85.2" r="0.9" fill="rgb(129,129,137)" opacity="0.9"/>
<circle cx="560.9" cy="85.6" r="0.9" fill="rgb(176,176,184)" opacity="0.9"/>
<circle cx="598.0" cy="85.8" r="0.9" fill="rgb(156,156,164)" opacity="0.9"/>
<circle cx="563.3" cy="68.5" r="0.8" fill="rgb(147,147,155)" opacity="0.9"/>
<circle cx="579.6" cy="84.0" r="1.0" fill="rgb(161,161,169)" opacity="0.9"/>
<circle cx="591.2" cy="87.4" r="1.0" fill="rgb(180,180,188)" opacity="0.9"/>
<circle cx="558.6" cy="109.8" r="0.9" fill="rgb(151,151,159)" opacity="0.9"/>
<circle cx="577.5" cy="83.4" r="1.0" fill="rgb(160,160,168)" opacity="0.9"/>
<circle cx="562.4" cy="101.9" r="0.8" fill="rgb(150,150,158)" opacity="0.9"/>
<circle cx="554.7" cy="82.3" r="0.7" fill="rgb(148,148,156)" opacity="0.9"/>
<circle cx="561.5" cy="91.0" r="1.1" fill="rgb(139,139,147)" opacity="0.9"/>
<circle cx="580.7" cy="76.0" r="0.9" fill="rgb(137,137,145)" opacity="0.9"/>
<circle cx="542.4" cy="83.9" r="1.0" fill="rgb(171,171,179)" opacity="0.9"/>
<circle cx="569.9" cy="92.6" r="0.8" fill="rgb(158,158,166)" opacity="0.9"/>
<circle cx="561.1" cy="71.9" r="0.6" fill="rgb(166,166,174)" opacity="0.9"/>
<circle cx="586.3" cy="76.7" r="0.6" fill="rgb(139,139,147)" opacity="0.9"/>
<circle cx="582.8" cy="85.3" r="1.2" fill="rgb(159,159,167)" opacity="0.9"/>
<circle cx="563.4" cy="70.2" r="1.1" fill="rgb(159,159,167)" opacity="0.9"/>
<circle cx="562.5" cy="75.6" r="1.0" fill="rgb(158,158,166)" opacity="0.9"/>
<circle cx="571.5" cy="78.7" r="1.0" fill="rgb(149,149,157)" opacity="0.9"/>
<circle cx="575.4" cy="80.4" r="0.7" fill="rgb(122,122,130)" opacity="0.9"/>
<circle cx="579.1" cy="63.1" r="1.0" fill="rgb(143,143,151)" opacity="0.9"/>
<circle cx="584.3" cy="69.2" r="0.9" fill="rgb(136,136,144)" opacity="0.9"/>
<circle cx="571.0" cy="94.9" r="0.8" fill="rgb(147,147,155)" opacity="0.9"/>
<circle cx="557.4" cy="66.9" r="0.6" fill="rgb(156,156,164)" opacity="0.9"/>
<circle cx="580.9" cy="86.2" r="1.1" fill="rgb(157,157,165)" opacity="0.9"/>
<circle cx="586.4" cy="79.7" r="0.6" fill="rgb(145,145,153)" opacity="0.9"/>
<circle cx="551.3" cy="72.1" r="1.2" fill="rgb(150,150,158)" opacity="0.9"/>
<circle cx="570.3" cy="87.4" r="1.0" fill="rgb(133,133,141)" opacity="0.9"/>
<circle cx="576.2" cy="86.4" r="0.6" fill="rgb(164,164,172)" opacity="0.9"/>
<circle cx="608.8" cy="121.6" r="0.7" fill="rgb(162,162,170)" opacity="0.9"/>
<circle cx="591.3" cy="101.6" r="1.0" fill="rgb(124,124,132)" opacity="0.9"/>
<circle cx="589.3" cy="92.3" r="0.6" fill="rgb(156,156,164)" opacity="0.9"/>
<circle cx="585.5" cy="77.0" r="1.0" fill="rgb(115,115,123)" opacity="0.9"/>
<circle cx="579.1" cy="86.4" r="0.9" fill="rgb(165,165,173)" opacity="0.9"/>
<circle cx="589.3" cy="131.0" r="1.0" fill="rgb(110,110,118)" opacity="0.9"/>
<circle cx="604.4" cy="101.6" r="1.1" fill="rgb(114,114,122)" opacity="0.9"/>
<circle cx="583.9" cy="118.0" r="0.7" fill="rgb(161,161,169)" opacity="0.9"/>
<circle cx="586.5" cy="100.4" r="0.8" fill="rgb(144,144,152)" opacity="0.9"/>
<circle cx="576.1" cy="106.8" r="0.7" fill="rgb(157,157,165)" opacity="0.9"/>
<circle cx="580.6" cy="113.1" r="1.0" fill="rgb(135,135,143)" opacity="0.9"/>
<circle cx="576.8" cy="113.9" r="1.2" fill="rgb(157,157,165)" opacity="0.9"/>
<circle cx="582.4" cy="95.9" r="0.6" fill="rgb(168,168,176)" opacity="0.9"/>
<circle cx="584.6" cy="78.5" r="0.8" fill="rgb(146,146,154)" opacity="0.9"/>
<circle cx="608.7" cy="96.8" r="1.0" fill="rgb(128,128,136)" opacity="0.9"/>
<circle cx="571.1" cy="110.9" r="0.8" fill="rgb(151,151,159)" opacity="0.9"/>
<circle cx="572.9" cy="84.8" r="1.1" fill="rgb(126,126,134)" opacity="0.9"/>
<circle cx="597.8" cy="100.1" r="0.9" fill="rgb(145,145,153)" opacity="0.9"/>
<circle cx="598.4" cy="77.0" r="0.6" fill="rgb(159,159,167)" opacity="0.9"/>
<circle cx="597.6" cy="77.7" r="0.9" fill="rgb(126,126,134)" opacity="0.9"/>
<circle cx="600.8" cy="82.5" r="1.0" fill="rgb(164,164,172)" opacity="0.9"/>
<circle cx="587.6" cy="104.2" r="0.9" fill="rgb(157,157,165)" opacity="0.9"/>
<circle cx="595.1" cy="119.0" r="1.2" fill="rgb(124,124,132)" opacity="0.9"/>
<circle cx="578.2" cy="88.8" r="0.9" fill="rgb(122,122,130)" opacity="0.9"/>
<circle cx="589.5" cy="120.0" r="1.1" fill="rgb(137,137,145)" opacity="0.9"/>
<circle cx="605.4" cy="111.4" r="1.1" fill="rgb(123,123,131)" opacity="0.9"/>
<circle cx="571.3" cy="87.7" r="1.1" fill="rgb(141,141,149)" opacity="0.9"/>
<circle cx="576.8" cy="102.3" r="0.7" fill="rgb(121,121,129)" opacity="0.9"/>
<circle cx="596.6" cy="116.9" r="0.8" fill="rgb(143,143,151)" opacity="0.9"/>
<circle cx="580.1" cy="108.3" r="0.7" fill="rgb(112,112,120)" opacity="0.9"/>
<circle cx="599.7" cy="99.8" r="0.7" fill="rgb(147,147,155)" opacity="0.9"/>
<circle cx="591.4" cy="93.2" r="1.0" fill="rgb(130,130,138)" opacity="0.9"/>
<circle cx="588.0" cy="99.7" r="0.6" fill="rgb(169,169,177)" opacity="0.9"/>
<circle cx="597.7" cy="89.7" r="0.9" fill="rgb(125,125,133)" opacity="0.9"/>
<circle cx="591.9" cy="87.6" r="1.2" fill="rgb(156,156,164)" opacity="0.9"/>
<circle cx="600.8" cy="72.0" r="0.8" fill="rgb(112,112,120)" opacity="0.9"/>
<circle cx="591.9" cy="107.2" r="0.7" fill="rgb(113,113,121)" opacity="0.9"/>
<circle cx="571.1" cy="91.4" r="0.9" fill="rgb(166,166,174)" opacity="0.9"/>
<circle cx="593.1" cy="97.7" r="1.0" fill="rgb(133,133,141)" opacity="0.9"/>
<circle cx="608.5" cy="120.8" r="0.8" fill="rgb(143,143,151)" opacity="0.9"/>
<circle cx="554.9" cy="134.9" r="1.6" fill="rgb(204,204,212)" opacity="0.9"/>
<circle cx="562.1" cy="164.6" r="2.0" fill="rgb(249,249,255)" opacity="0.9"/>
<circle cx="566.3" cy="165.9" r="1.1" fill="rgb(201,201,209)" opacity="0.9"/>
<circle cx="578.4" cy="144.6" r="1.8" fill="rgb(178,178,186)" opacity="0.9"/>
<circle cx="568.5" cy="140.6" r="1.6" fill="rgb(248,248,255)" opacity="0.9"/>
<circle cx="569.7" cy="164.7" r="1.7" fill="rgb(245,245,253)" opacity="0.9"/>
<circle cx="563.4" cy="151.4" r="1.5" fill="rgb(231,231,239)" opacity="0.9"/>
<circle cx="570.9" cy="169.6" r="1.1" fill="rgb(184,184,192)" opacity="0.9"/>
<circle cx="561.8" cy="163.0" r="1.1" fill="rgb(185,185,193)" opacity="0.9"/>
<circle cx="565.5" cy="160.0" r="1.7" fill="rgb(189,189,197)" opacity="0.9"/>
<circle cx="581.6" cy="169.2" r="1.1" fill="rgb(245,245,253)" opacity="0.9"/>
<circle cx="575.8" cy="140.2" r="1.0" fill="rgb(208,208,216)" opacity="0.9"/>
<circle cx="579.2" cy="180.4" r="1.8" fill="rgb(222,222,230)" opacity="0.9"/>
<circle cx="559.9" cy="165.8" r="1.8" fill="rgb(210,210,218)" opacity="0.9"/>
<circle cx="563.3" cy="156.4" r="1.1" fill="rgb(179,179,187)" opacity="0.9"/>
<circle cx="564.0" cy="144.7" r="1.0" fill="rgb(240,240,248)" opacity="0.9"/>
<circle cx="565.3" cy="176.3" r="1.0" fill="rgb(195,195,203)" opacity="0.9"/>
<circle cx="569.4" cy="151.3" r="1.0" fill="rgb(211,211,219)" opacity="0.9"/>
<circle cx="559.7" cy="189.5" r="0.9" fill="rgb(248,248,255)" opacity="0.9"/>
<circle cx="579.9" cy="172.4" r="1.6" fill="rgb(190,190,198)" opacity="0.9"/>
<circle cx="560.3" cy="163.6" r="1.1" fill="rgb(190,190,198)" opacity="0.9"/>
<circle cx="551.9" cy="194.4" r="2.0" fill="rgb(244,244,252)" opacity="0.9"/>
<circle cx="570.7" cy="168.7" r="1.9" fill="rgb(179,179,187)" opacity="0.9"/>
<circle cx="565.1" cy="150.5" r="2.0" fill="rgb(176,176,184)" opacity="0.9"/>
<circle cx="568.2" cy="150.0" r="1.0" fill="rgb(175,175,183)" opacity="0.9"/>
<circle cx="570.2" cy="147.1" r="1.0" fill="rgb(207,207,215)" opacity="0.9"/>
<circle cx="570.2" cy="156.8" r="1.5" fill="rgb(185,185,193)" opacity="0.9"/>
<circle cx="571.1" cy="183.7" r="1.7" fill="rgb(189,189,197)" opacity="0.9"/>
<circle cx="568.6" cy="164.9" r="1.5" fill="rgb(212,212,220)" opacity="0.9"/>
<circle cx="565.3" cy="171.4" r="1.5" fill="rgb(228,228,236)" opacity="0.9"/>
<circle cx="569.5" cy="144.9" r="1.0" fill="rgb(179,179,187)" opacity="0.9"/>
<circle cx="565.2" cy="147.7" r="1.7" fill="rgb(179,179,187)" opacity="0.9"/>
<circle cx="568.4" cy="150.3" r="1.8" fill="rgb(239,239,247)" opacity="0.9"/>
<circle cx="564.8" cy="162.1" r="1.9" fill="rgb(210,210,218)" opacity="0.9"/>
<circle cx="569.8" cy="154.1" r="1.0" fill="rgb(237,237,245)" opacity="0.9"/>
<circle cx="563.2" cy="168.2" r="1.2" fill="rgb(219,219,227)" opacity="0.9"/>
<circle cx="574.5" cy="162.5" r="1.3" fill="rgb(213,213,221)" opacity="0.9"/>
<circle cx="574.0" cy="177.3" r="1.8" fill="rgb(239,239,247)" opacity="0.9"/>
<circle cx="561.2" cy="181.9" r="1.3" fill="rgb(231,231,239)" opacity="0.9"/>
<circle cx="579.2" cy="172.7" r="1.9" fill="rgb(212,212,220)" opacity="0.9"/>
<circle cx="557.4" cy="160.6" r="1.4" fill="rgb(176,176,184)" opacity="0.9"/>
<circle cx="570.9" cy="160.0" r="1.0" fill="rgb(182,182,190)" opacity="0.9"/>
<circle cx="566.0" cy="187.8" r="0.8" fill="rgb(182,182,190)" opacity="0.9"/>
<circle cx="564.5" cy="153.2" r="0.8" fill="rgb(219,219,227)" opacity="0.9"/>
<circle cx="558.4" cy="154.1" r="1.6" fill="rgb(182,182,190)" opacity="0.9"/>
<circle cx="573.6" cy="145.7" r="0.9" fill="rgb(184,184,192)" opacity="0.9"/>
<circle cx="557.8" cy="162.7" r="1.1" fill="rgb(184,184,192)" opacity="0.9"/>
<circle cx="562.8" cy="166.2" r="1.5" fill="rgb(239,239,247)" opacity="0.9"/>
<circle cx="571.5" cy="176.6" r="1.7" fill="rgb(187,187,195)" opacity="0.9"/>
<circle cx="573.6" cy="132.7" r="1.3" fill="rgb(206,206,214)" opacity="0.9"/>
<circle cx="570.6" cy="147.5" r="1.3" fill="rgb(245,245,253)" opacity="0.9"/>
<circle cx="567.1" cy="149.5" r="1.1" fill="rgb(200,200,208)" opacity="0.9"/>
<circle cx="547.9" cy="177.5" r="1.8" fill="rgb(243,243,251)" opacity="0.9"/>
<circle cx="571.4" cy="137.1" r="0.9" fill="rgb(213,213,221)" opacity="0.9"/>
<circle cx="581.8" cy="153.5" r="1.1" fill="rgb(206,206,214)" opacity="0.9"/>
<circle cx="561.5" cy="152.1" r="1.4" fill="rgb(180,180,188)" opacity="0.9"/>
<circle cx="558.4" cy="168.8" r="0.8" fill="rgb(185,185,193)" opacity="0.9"/>
<circle cx="577.9" cy="157.4" r="1.9" fill="rgb(222,222,230)" opacity="0.9"/>
<circle cx="571.3" cy="134.9" r="1.9" fill="rgb(177,177,185)" opacity="0.9"/>
<circle cx="562.5" cy="153.5" r="1.6" fill="rgb(195,195,203)" opacity="0.9"/>
<circle cx="550.6" cy="153.7" r="1.5" fill="rgb(193,193,201)" opacity="0.9"/>
<circle cx="558.6" cy="160.1" r="1.9" fill="rgb(196,196,204)" opacity="0.9"/>
<circle cx="562.6" cy="181.0" r="0.9" fill="rgb(219,219,227)" opacity="0.9"/>
<circle cx="574.1" cy="157.4" r="1.1" fill="rgb(209,209,217)" opacity="0.9"/>
<circle cx="562.1" cy="160.3" r="0.9" fill="rgb(184,184,192)" opacity="0.9"/>
<circle cx="564.1" cy="175.8" r="1.1" fill="rgb(193,193,201)" opacity="0.9"/>
<circle cx="573.5" cy="171.2" r="1.8" fill="rgb(220,220,228)" opacity="0.9"/>
<circle cx="556.8" cy="153.3" r="1.0" fill="rgb(228,228,236)" opacity="0.9"/>
<circle cx="557.4" cy="166.3" r="1.5" fill="rgb(210,210,218)" opacity="0.9"/>
<circle cx="564.1" cy="171.7" r="1.1" fill="rgb(213,213,221)" opacity="0.9"/>
<circle cx="559.1" cy="174.4" r="0.8" fill="rgb(201,201,209)" opacity="0.9"/>
<circle cx="569.3" cy="154.1" r="1.5" fill="rgb(211,211,219)" opacity="0.9"/>
<circle cx="561.5" cy="202.5" r="1.2" fill="rgb(232,232,240)" opacity="0.9"/>
<circle cx="567.4" cy="166.4" r="1.8" fill="rgb(207,207,215)" opacity="0.9"/>
<circle cx="572.4" cy="167.3" r="1.3" fill="rgb(230,230,238)" opacity="0.9"/>
<circle cx="569.9" cy="168.3" r="2.0" fill="rgb(230,230,238)" opacity="0.9"/>
<circle cx="569.6" cy="172.5" r="1.2" fill="rgb(225,225,233)" opacity="0.9"/>
<circle cx="555.8" cy="143.8" r="1.8" fill="rgb(213,213,221)" opacity="0.9"/>
<circle cx="565.2" cy="139.0" r="1.7" fill="rgb(210,210,218)" opacity="0.9"/>
<circle cx="568.4" cy="140.5" r="1.9" fill="rgb(184,184,192)" opacity="0.9"/>
<circle cx="566.4" cy="161.1" r="1.7" fill="rgb(218,218,226)" opacity="0.9"/>
<circle cx="548.0" cy="162.5" r="1.5" fill="rgb(206,206,214)" opacity="0.9"/>
<circle cx="569.0" cy="134.2" r="1.5" fill="rgb(203,203,211)" opacity="0.9"/>
<circle cx="558.6" cy="166.6" r="1.7" fill="rgb(196,196,204)" opacity="0.9"/>
<circle cx="559.1" cy="173.3" r="1.3" fill="rgb(199,199,207)" opacity="0.9"/>
<circle cx="569.1" cy="135.5" r="1.4" fill="rgb(208,208,216)" opacity="0.9"/>
<circle cx="568.4" cy="172.9" r="1.0" fill="rgb(218,218,226)" opacity="0.9"/>
<circle cx="563.4" cy="159.1" r="1.9" fill="rgb(199,199,207)" opacity="0.9"/>
<circle cx="573.4" cy="139.8" r="2.0" fill="rgb(190,190,198)" opacity="0.9"/>
<circle cx="552.2" cy="175.7" r="0.8" fill="rgb(178,178,186)" opacity="0.9"/>
<circle cx="558.5" cy="155.5" r="1.9" fill="rgb(233,233,241)" opacity="0.9"/>
<circle cx="541.7" cy="150.0" r="1.4" fill="rgb(213,213,221)" opacity="0.9"/>
<circle cx="563.2" cy="149.2" r="1.2" fill="rgb(219,219,227)" opacity="0.9"/>
<circle cx="555.9" cy="189.4" r="1.6" fill="rgb(214,214,222)" opacity="0.9"/>
<circle cx="571.5" cy="169.9" r="1.3" fill="rgb(217,217,225)" opacity="0.9"/>
<circle cx="553.1" cy="149.1" r="2.0" fill="rgb(211,211,219)" opacity="0.9"/>
<circle cx="556.9" cy="169.2" r="2.0" fill="rgb(200,200,208)" opacity="0.9"/>
<circle cx="553.4" cy="157.2" r="1.0" fill="rgb(198,198,206)" opacity="0.9"/>
<circle cx="579.0" cy="158.5" r="1.4" fill="rgb(183,183,191)" opacity="0.9"/>
<circle cx="574.4" cy="148.8" r="1.8" fill="rgb(249,249,255)" opacity="0.9"/>
<circle cx="571.6" cy="152.5" r="1.0" fill="rgb(196,196,204)" opacity="0.9"/>
<circle cx="557.7" cy="160.8" r="1.0" fill="rgb(188,188,196)" opacity="0.9"/>
<circle cx="559.5" cy="148.1" r="1.2" fill="rgb(249,249,255)" opacity="0.9"/>
<circle cx="564.7" cy="158.9" r="1.3" fill="rgb(234,234,242)" opacity="0.9"/>
<circle cx="562.3" cy="182.1" r="0.8" fill="rgb(197,197,205)" opacity="0.9"/>
<circle cx="571.1" cy="146.4" r="1.6" fill="rgb(189,189,197)" opacity="0.9"/>
<circle cx="557.1" cy="162.2" r="1.1" fill="rgb(223,223,231)" opacity="0.9"/>
<circle cx="542.5" cy="152.6" r="1.5" fill="rgb(205,205,213)" opacity="0.9"/>
<circle cx="569.0" cy="167.7" r="1.7" fill="rgb(182,182,190)" opacity="0.9"/>
<circle cx="569.5" cy="167.0" r="1.4" fill="rgb(236,236,244)" opacity="0.9"/>
<circle cx="556.4" cy="145.5" r="0.9" fill="rgb(175,175,183)" opacity="0.9"/>
<circle cx="566.8" cy="149.7" r="1.7" fill="rgb(201,201,209)" opacity="0.9"/>
<circle cx="568.7" cy="171.6" r="0.9" fill="rgb(242,242,250)" opacity="0.9"/>
<circle cx="560.4" cy="155.6" r="1.3" fill="rgb(203,203,211)" opacity="0.9"/>
<circle cx="579.9" cy="171.9" r="1.5" fill="rgb(246,246,254)" opacity="0.9"/>
<circle cx="557.0" cy="169.2" r="1.1" fill="rgb(178,178,186)" opacity="0.9"/>
<circle cx="578.5" cy="150.4" r="1.2" fill="rgb(242,242,250)" opacity="0.9"/>
<circle cx="568.4" cy="151.1" r="1.5" fill="rgb(247,247,255)" opacity="0.9"/>
<circle cx="548.9" cy="163.0" r="1.1" fill="rgb(204,204,212)" opacity="0.9"/>
<circle cx="565.0" cy="152.3" r="1.2" fill="rgb(240,240,248)" opacity="0.9"/>
<circle cx="543.9" cy="185.9" r="0.8" fill="rgb(120,120,128)" opacity="0.9"/>
<circle cx="554.8" cy="187.5" r="1.3" fill="rgb(127,127,135)" opacity="0.9"/>
<circle cx="554.3" cy="184.1" r="1.0" fill="rgb(133,133,141)" opacity="0.9"/>
<circle cx="555.6" cy="186.1" r="0.7" fill="rgb(159,159,167)" opacity="0.9"/>
<circle cx="554.4" cy="188.0" r="0.7" fill="rgb(127,127,135)" opacity="0.9"/>
<circle cx="558.2" cy="186.3" r="1.1" fill="rgb(130,130,138)" opacity="0.9"/>
<circle cx="565.0" cy="191.5" r="0.7" fill="rgb(126,126,134)" opacity="0.9"/>
<circle cx="560.1" cy="182.7" r="0.9" fill="rgb(160,160,168)" opacity="0.9"/>
<circle cx="559.6" cy="182.2" r="0.8" fill="rgb(153,153,161)" opacity="0.9"/>
<circle cx="543.6" cy="193.8" r="0.7" fill="rgb(167,167,175)" opacity="0.9"/>
<circle cx="552.3" cy="184.9" r="0.9" fill="rgb(117,117,125)" opacity="0.9"/>
<circle cx="556.3" cy="181.3" r="1.2" fill="rgb(145,145,153)" opacity="0.9"/>
<circle cx="553.9" cy="187.8" r="1.0" fill="rgb(122,122,130)" opacity="0.9"/>
<circle cx="560.8" cy="183.2" r="1.0" fill="rgb(142,142,150)" opacity="0.9"/>
<circle cx="556.2" cy="193.5" r="0.9" fill="rgb(149,149,157)" opacity="0.9"/>
<circle cx="602.6" cy="193.2" r="1.7" fill="rgb(204,204,212)" opacity="0.9"/>
<circle cx="622.4" cy="203.7" r="1.6" fill="rgb(234,234,242)" opacity="0.9"/>
<circle cx="623.9" cy="199.1" r="1.7" fill="rgb(226,226,234)" opacity="0.9"/>
<circle cx="610.7" cy="196.8" r="1.6" fill="rgb(211,211,219)" opacity="0.9"/>
<circle cx="625.4" cy="200.7" r="1.5" fill="rgb(220,220,228)" opacity="0.9"/>
<circle cx="629.4" cy="190.3" r="2.6" fill="rgb(244,244,252)" opacity="0.9"/>
<circle cx="618.5" cy="198.0" r="1.1" fill="rgb(235,235,243)" opacity="0.9"/>
<circle cx="606.2" cy="191.0" r="1.7" fill="rgb(234,234,242)" opacity="0.9"/>
<circle cx="609.2" cy="191.4" r="2.5" fill="rgb(218,218,226)" opacity="0.9"/>
<circle cx="606.8" cy="192.7" r="1.2" fill="rgb(247,247,255)" opacity="0.9"/>
<circle cx="610.1" cy="187.1" r="1.1" fill="rgb(202,202,210)" opacity="0.9"/>
<circle cx="616.2" cy="197.8" r="1.5" fill="rgb(219,219,227)" opacity="0.9"/>
<circle cx="622.0" cy="196.1" r="2.1" fill="rgb(209,209,217)" opacity="0.9"/>
<circle cx="620.3" cy="189.5" r="2.3" fill="rgb(213,213,221)" opacity="0.9"/>
<circle cx="595.3" cy="198.0" r="1.6" fill="rgb(200,200,208)" opacity="0.9"/>
<circle cx="622.5" cy="187.5" r="1.5" fill="rgb(202,202,210)" opacity="0.9"/>
<circle cx="622.0" cy="189.6" r="1.1" fill="rgb(212,212,220)" opacity="0.9"/>
<circle cx="628.3" cy="200.7" r="1.4" fill="rgb(247,247,255)" opacity="0.9"/>
<circle cx="612.0" cy="192.9" r="2.3" fill="rgb(220,220,228)" opacity="0.9"/>
<circle cx="611.7" cy="185.6" r="1.5" fill="rgb(204,204,212)" opacity="0.9"/>
<circle cx="623.9" cy="193.3" r="2.7" fill="rgb(235,235,243)" opacity="0.9"/>
<circle cx="610.4" cy="185.6" r="2.1" fill="rgb(223,223,231)" opacity="0.9"/>
<circle cx="629.5" cy="197.6" r="1.8" fill="rgb(226,226,234)" opacity="0.9"/>
<circle cx="617.6" cy="193.9" r="2.4" fill="rgb(202,202,210)" opacity="0.9"/>
<circle cx="605.6" cy="186.3" r="1.5" fill="rgb(228,228,236)" opacity="0.9"/>
<circle cx="628.8" cy="193.6" r="2.0" fill="rgb(212,212,220)" opacity="0.9"/>
<circle cx="622.5" cy="196.7" r="1.7" fill="rgb(210,210,218)" opacity="0.9"/>
<circle cx="609.6" cy="197.5" r="2.3" fill="rgb(234,234,242)" opacity="0.9"/>
<circle cx="612.7" cy="198.7" r="1.9" fill="rgb(223,223,231)" opacity="0.9"/>
<circle cx="622.3" cy="193.2" r="1.5" fill="rgb(246,246,254)" opacity="0.9"/>
<circle cx="621.7" cy="200.0" r="1.6" fill="rgb(242,242,250)" opacity="0.9"/>
<circle cx="592.6" cy="192.5" r="1.3" fill="rgb(234,234,242)" opacity="0.9"/>
<circle cx="601.1" cy="191.8" r="2.4" fill="rgb(243,243,251)" opacity="0.9"/>
<circle cx="619.5" cy="197.7" r="1.6" fill="rgb(210,210,218)" opacity="0.9"/>
<circle cx="621.1" cy="196.5" r="1.4" fill="rgb(236,236,244)" opacity="0.9"/>
<circle cx="606.4" cy="195.8" r="1.6" fill="rgb(224,224,232)" opacity="0.9"/>
<circle cx="607.3" cy="197.3" r="1.1" fill="rgb(200,200,208)" opacity="0.9"/>
<circle cx="632.0" cy="194.6" r="1.2" fill="rgb(237,237,245)" opacity="0.9"/>
<circle cx="627.3" cy="194.2" r="1.2" fill="rgb(225,225,233)" opacity="0.9"/>
<circle cx="604.9" cy="196.3" r="2.0" fill="rgb(200,200,208)" opacity="0.9"/>
<circle cx="627.1" cy="191.5" r="2.1" fill="rgb(248,248,255)" opacity="0.9"/>
<circle cx="606.8" cy="191.9" r="1.4" fill="rgb(207,207,215)" opacity="0.9"/>
<circle cx="632.4" cy="196.5" r="2.5" fill="rgb(215,215,223)" opacity="0.9"/>
<circle cx="618.7" cy="201.6" r="2.5" fill="rgb(248,248,255)" opacity="0.9"/>
<circle cx="622.3" cy="202.6" r="2.5" fill="rgb(238,238,246)" opacity="0.9"/>
<circle cx="608.4" cy="197.8" r="2.5" fill="rgb(216,216,224)" opacity="0.9"/>
<circle cx="601.7" cy="199.7" r="1.7" fill="rgb(243,243,251)" opacity="0.9"/>
<circle cx="612.2" cy="196.4" r="2.0" fill="rgb(232,232,240)" opacity="0.9"/>
<circle cx="620.0" cy="187.9" r="2.6" fill="rgb(249,249,255)" opacity="0.9"/>
<circle cx="597.9" cy="195.2" r="1.3" fill="rgb(215,215,223)" opacity="0.9"/>
<circle cx="607.7" cy="194.0" r="2.2" fill="rgb(208,208,216)" opacity="0.9"/>
<circle cx="582.3" cy="199.6" r="1.2" fill="rgb(202,202,210)" opacity="0.9"/>
<circle cx="604.7" cy="196.2" r="2.3" fill="rgb(200,200,208)" opacity="0.9"/>
<circle cx="624.7" cy="186.7" r="2.4" fill="rgb(222,222,230)" opacity="0.9"/>
<circle cx="608.3" cy="202.2" r="1.9" fill="rgb(221,221,229)" opacity="0.9"/>
<circle cx="605.2" cy="199.6" r="2.2" fill="rgb(242,242,250)" opacity="0.9"/>
<circle cx="617.9" cy="193.3" r="1.5" fill="rgb(223,223,231)" opacity="0.9"/>
<circle cx="601.8" cy="193.2" r="1.4" fill="rgb(204,204,212)" opacity="0.9"/>
<circle cx="606.0" cy="200.0" r="2.7" fill="rgb(247,247,255)" opacity="0.9"/>
<circle cx="633.5" cy="184.9" r="2.7" fill="rgb(232,232,240)" opacity="0.9"/>
<circle cx="613.6" cy="193.4" r="2.2" fill="rgb(231,231,239)" opacity="0.9"/>
<circle cx="607.5" cy="201.2" r="2.7" fill="rgb(224,224,232)" opacity="0.9"/>
<circle cx="605.9" cy="191.6" r="1.6" fill="rgb(246,246,254)" opacity="0.9"/>
<circle cx="619.6" cy="195.6" r="2.2" fill="rgb(223,223,231)" opacity="0.9"/>
<circle cx="627.2" cy="198.7" r="1.7" fill="rgb(230,230,238)" opacity="0.9"/>
<circle cx="599.2" cy="198.1" r="2.0" fill="rgb(220,220,228)" opacity="0.9"/>
<circle cx="617.7" cy="197.1" r="2.6" fill="rgb(228,228,236)" opacity="0.9"/>
<circle cx="630.2" cy="201.5" r="1.5" fill="rgb(204,204,212)" opacity="0.9"/>
<circle cx="603.0" cy="194.3" r="1.9" fill="rgb(228,228,236)" opacity="0.9"/>
<circle cx="614.3" cy="201.4" r="1.2" fill="rgb(226,226,234)" opacity="0.9"/>
<circle cx="607.8" cy="193.9" r="1.7" fill="rgb(203,203,211)" opacity="0.9"/>
<circle cx="589.8" cy="198.7" r="2.0" fill="rgb(237,237,245)" opacity="0.9"/>
<circle cx="612.3" cy="192.5" r="2.8" fill="rgb(237,237,245)" opacity="0.9"/>
<circle cx="630.1" cy="200.6" r="1.7" fill="rgb(208,208,216)" opacity="0.9"/>
<circle cx="627.0" cy="193.4" r="2.4" fill="rgb(207,207,215)" opacity="0.9"/>
<circle cx="612.7" cy="193.3" r="1.4" fill="rgb(219,219,227)" opacity="0.9"/>
<circle cx="628.0" cy="195.6" r="1.4" fill="rgb(215,215,223)" opacity="0.9"/>
<circle cx="608.7" cy="189.9" r="2.6" fill="rgb(232,232,240)" opacity="0.9"/>
<circle cx="622.7" cy="190.4" r="2.7" fill="rgb(245,245,253)" opacity="0.9"/>
<circle cx="621.8" cy="202.2" r="1.6" fill="rgb(239,239,247)" opacity="0.9"/>
<circle cx="602.5" cy="186.5" r="1.2" fill="rgb(219,219,227)" opacity="0.9"/>
<circle cx="609.7" cy="182.9" r="2.3" fill="rgb(202,202,210)" opacity="0.9"/>
<circle cx="607.6" cy="193.6" r="2.0" fill="rgb(241,241,249)" opacity="0.9"/>
<circle cx="632.7" cy="202.4" r="2.2" fill="rgb(213,213,221)" opacity="0.9"/>
<circle cx="616.6" cy="200.1" r="2.5" fill="rgb(230,230,238)" opacity="0.9"/>
<circle cx="613.9" cy="195.7" r="1.2" fill="rgb(241,241,249)" opacity="0.9"/>
<circle cx="618.0" cy="200.8" r="1.5" fill="rgb(235,235,243)" opacity="0.9"/>
<circle cx="607.1" cy="196.9" r="2.6" fill="rgb(227,227,235)" opacity="0.9"/>
<circle cx="603.9" cy="186.6" r="2.7" fill="rgb(200,200,208)" opacity="0.9"/>
<circle cx="608.2" cy="197.4" r="1.9" fill="rgb(245,245,253)" opacity="0.9"/>
<circle cx="626.3" cy="176.2" r="0.9" fill="rgb(225,225,233)" opacity="0.9"/>
<circle cx="618.6" cy="171.7" r="1.2" fill="rgb(172,172,180)" opacity="0.9"/>
<circle cx="633.4" cy="172.2" r="1.7" fill="rgb(208,208,216)" opacity="0.9"/>
<circle cx="636.9" cy="180.9" r="0.9" fill="rgb(231,231,239)" opacity="0.9"/>
<circle cx="621.2" cy="176.9" r="0.9" fill="rgb(188,188,196)" opacity="0.9"/>
<circle cx="605.7" cy="179.8" r="1.1" fill="rgb(188,188,196)" opacity="0.9"/>
<circle cx="644.7" cy="178.3" r="1.1" fill="rgb(161,161,169)" opacity="0.9"/>
<circle cx="582.4" cy="183.2" r="0.7" fill="rgb(171,171,179)" opacity="0.9"/>
<circle cx="619.3" cy="173.1" r="1.0" fill="rgb(200,200,208)" opacity="0.9"/>
<circle cx="623.5" cy="187.1" r="1.3" fill="rgb(236,236,244)" opacity="0.9"/>
<circle cx="628.9" cy="177.9" r="1.3" fill="rgb(221,221,229)" opacity="0.9"/>
<circle cx="643.0" cy="169.3" r="1.4" fill="rgb(210,210,218)" opacity="0.9"/>
<circle cx="617.1" cy="182.3" r="1.6" fill="rgb(229,229,237)" opacity="0.9"/>
<circle cx="646.0" cy="174.0" r="1.0" fill="rgb(221,221,229)" opacity="0.9"/>
<circle cx="623.8" cy="169.7" r="1.4" fill="rgb(188,188,196)" opacity="0.9"/>
<circle cx="610.5" cy="175.8" r="0.8" fill="rgb(186,186,194)" opacity="0.9"/>
<circle cx="605.1" cy="196.7" r="1.2" fill="rgb(189,189,197)" opacity="0.9"/>
<circle cx="625.5" cy="183.1" r="1.1" fill="rgb(170,170,178)" opacity="0.9"/>
<circle cx="655.3" cy="178.6" r="1.2" fill="rgb(195,195,203)" opacity="0.9"/>
<circle cx="613.4" cy="175.5" r="0.9" fill="rgb(165,165,173)" opacity="0.9"/>
<circle cx="620.9" cy="183.7" r="1.5" fill="rgb(204,204,212)" opacity="0.9"/>
<circle cx="637.6" cy="175.6" r="1.7" fill="rgb(206,206,214)" opacity="0.9"/>
<circle cx="633.2" cy="180.1" r="1.3" fill="rgb(238,238,246)" opacity="0.9"/>
<circle cx="608.9" cy="187.5" r="1.2" fill="rgb(229,229,237)" opacity="0.9"/>
<circle cx="640.7" cy="181.3" r="1.7" fill="rgb(182,182,190)" opacity="0.9"/>
<circle cx="624.8" cy="179.5" r="0.9" fill="rgb(181,181,189)" opacity="0.9"/>
<circle cx="622.0" cy="173.3" r="1.1" fill="rgb(176,176,184)" opacity="0.9"/>
<circle cx="601.1" cy="169.6" r="1.4" fill="rgb(175,175,183)" opacity="0.9"/>
<circle cx="621.1" cy="160.1" r="1.4" fill="rgb(166,166,174)" opacity="0.9"/>
<circle cx="636.2" cy="164.7" r="1.1" fill="rgb(170,170,178)" opacity="0.9"/>
<circle cx="632.0" cy="186.0" r="1.7" fill="rgb(211,211,219)" opacity="0.9"/>
<circle cx="634.2" cy="175.7" r="1.1" fill="rgb(219,219,227)" opacity="0.9"/>
<circle cx="615.9" cy="172.3" r="1.4" fill="rgb(187,187,195)" opacity="0.9"/>
<circle cx="639.5" cy="180.6" r="0.8" fill="rgb(210,210,218)" opacity="0.9"/>
<circle cx="616.1" cy="185.0" r="1.4" fill="rgb(180,180,188)" opacity="0.9"/>
<circle cx="622.6" cy="178.3" r="1.7" fill="rgb(205,205,213)" opacity="0.9"/>
<circle cx="630.1" cy="177.8" r="1.4" fill="rgb(217,217,225)" opacity="0.9"/>
<circle cx="621.8" cy="180.7" r="0.9" fill="rgb(171,171,179)" opacity="0.9"/>
<circle cx="625.7" cy="175.0" r="1.6" fill="rgb(193,193,201)" opacity="0.9"/>
<circle cx="605.6" cy="175.8" r="1.3" fill="rgb(212,212,220)" opacity="0.9"/>
<circle cx="614.2" cy="174.3" r="1.5" fill="rgb(180,180,188)" opacity="0.9"/>
<circle cx="618.9" cy="166.5" r="1.6" fill="rgb(184,184,192)" opacity="0.9"/>
<circle cx="630.8" cy="158.9" r="1.2" fill="rgb(182,182,190)" opacity="0.9"/>
<circle cx="589.7" cy="175.6" r="0.8" fill="rgb(160,160,168)" opacity="0.9"/>
<circle cx="603.4" cy="179.5" r="1.6" fill="rgb(188,188,196)" opacity="0.9"/>
<circle cx="635.8" cy="177.7" r="1.5" fill="rgb(167,167,175)" opacity="0.9"/>
<circle cx="632.9" cy="178.7" r="0.8" fill="rgb(200,200,208)" opacity="0.9"/>
<circle cx="616.1" cy="176.5" r="1.7" fill="rgb(189,189,197)" opacity="0.9"/>
<circle cx="630.5" cy="181.5" r="1.5" fill="rgb(233,233,241)" opacity="0.9"/>
<circle cx="626.9" cy="179.4" r="1.6" fill="rgb(179,179,187)" opacity="0.9"/>
<circle cx="642.5" cy="177.1" r="1.4" fill="rgb(187,187,195)" opacity="0.9"/>
<circle cx="630.2" cy="170.6" r="1.1" fill="rgb(232,232,240)" opacity="0.9"/>
<circle cx="644.0" cy="185.1" r="0.8" fill="rgb(211,211,219)" opacity="0.9"/>
<circle cx="600.6" cy="186.1" r="0.8" fill="rgb(205,205,213)" opacity="0.9"/>
<circle cx="596.6" cy="186.4" r="1.7" fill="rgb(210,210,218)" opacity="0.9"/>
<circle cx="626.9" cy="183.3" r="1.0" fill="rgb(194,194,202)" opacity="0.9"/>
<circle cx="626.2" cy="182.7" r="1.5" fill="rgb(211,211,219)" opacity="0.9"/>
<circle cx="610.5" cy="199.5" r="0.9" fill="rgb(205,205,213)" opacity="0.9"/>
<circle cx="641.5" cy="189.6" r="1.7" fill="rgb(181,181,189)" opacity="0.9"/>
<circle cx="625.3" cy="165.0" r="1.0" fill="rgb(186,186,194)" opacity="0.9"/>
<circle cx="593.6" cy="179.3" r="0.9" fill="rgb(214,214,222)" opacity="0.9"/>
<circle cx="611.5" cy="173.6" r="1.3" fill="rgb(230,230,238)" opacity="0.9"/>
<circle cx="632.8" cy="192.1" r="1.1" fill="rgb(222,222,230)" opacity="0.9"/>
<circle cx="631.2" cy="174.6" r="1.7" fill="rgb(239,239,247)" opacity="0.9"/>
<circle cx="624.0" cy="179.5" r="0.8" fill="rgb(237,237,245)" opacity="0.9"/>
<circle cx="658.0" cy="178.9" r="0.9" fill="rgb(218,218,226)" opacity="0.9"/>
<circle cx="632.5" cy="180.4" r="1.5" fill="rgb(167,167,175)" opacity="0.9"/>
<circle cx="607.1" cy="191.3" r="1.5" fill="rgb(230,230,238)" opacity="0.9"/>
<circle cx="628.8" cy="177.8" r="1.0" fill="rgb(223,223,231)" opacity="0.9"/>
<circle cx="623.5" cy="176.2" r="1.3" fill="rgb(178,178,186)" opacity="0.9"/>
<circle cx="618.6" cy="179.4" r="0.7" fill="rgb(239,239,247)" opacity="0.9"/>
<circle cx="612.5" cy="191.1" r="0.8" fill="rgb(198,198,206)" opacity="0.9"/>
<circle cx="635.4" cy="183.6" r="0.9" fill="rgb(214,214,222)" opacity="0.9"/>
<circle cx="639.7" cy="187.2" r="1.3" fill="rgb(168,168,176)" opacity="0.9"/>
<circle cx="614.4" cy="184.5" r="1.7" fill="rgb(187,187,195)" opacity="0.9"/>
<circle cx="633.5" cy="195.9" r="1.7" fill="rgb(218,218,226)" opacity="0.9"/>
<circle cx="623.7" cy="182.3" r="1.0" fill="rgb(165,165,173)" opacity="0.9"/>
<circle cx="642.2" cy="180.2" r="1.1" fill="rgb(204,204,212)" opacity="0.9"/>
<circle cx="623.6" cy="178.8" r="1.5" fill="rgb(212,212,220)" opacity="0.9"/>
<circle cx="606.8" cy="175.6" r="1.5" fill="rgb(238,238,246)" opacity="0.9"/>
<circle cx="641.8" cy="170.1" r="1.1" fill="rgb(185,185,193)" opacity="0.9"/>
<circle cx="589.8" cy="187.1" r="1.1" fill="rgb(190,190,198)" opacity="0.9"/>
<circle cx="618.0" cy="180.1" r="1.8" fill="rgb(160,160,168)" opacity="0.9"/>
<circle cx="598.3" cy="168.0" r="1.0" fill="rgb(208,208,216)" opacity="0.9"/>
<circle cx="617.0" cy="181.6" r="0.9" fill="rgb(169,169,177)" opacity="0.9"/>
<circle cx="639.5" cy="167.8" r="1.7" fill="rgb(163,163,171)" opacity="0.9"/>
<circle cx="620.4" cy="172.2" r="1.4" fill="rgb(203,203,211)" opacity="0.9"/>
<circle cx="609.0" cy="195.1" r="0.7" fill="rgb(219,219,227)" opacity="0.9"/>
<circle cx="635.8" cy="171.3" r="1.4" fill="rgb(239,239,247)" opacity="0.9"/>
<circle cx="627.1" cy="187.8" r="1.5" fill="rgb(190,190,198)" opacity="0.9"/>
<circle cx="637.2" cy="138.3" r="1.3" fill="rgb(215,215,223)" opacity="0.9"/>
<circle cx="635.3" cy="140.5" r="1.4" fill="rgb(210,210,218)" opacity="0.9"/>
<circle cx="642.8" cy="166.3" r="1.0" fill="rgb(238,238,246)" opacity="0.9"/>
<circle cx="621.1" cy="153.2" r="1.3" fill="rgb(205,205,213)" opacity="0.9"/>
<circle cx="641.2" cy="156.5" r="1.7" fill="rgb(209,209,217)" opacity="0.9"/>
<circle cx="625.5" cy="147.8" r="1.6" fill="rgb(187,187,195)" opacity="0.9"/>
<circle cx="650.4" cy="169.7" r="1.2" fill="rgb(218,218,226)" opacity="0.9"/>
<circle cx="651.9" cy="127.5" r="1.7" fill="rgb(173,173,181)" opacity="0.9"/>
<circle cx="623.4" cy="165.4" r="1.6" fill="rgb(179,179,187)" opacity="0.9"/>
<circle cx="645.2" cy="157.5" r="0.8" fill="rgb(196,196,204)" opacity="0.9"/>
<circle cx="644.8" cy="136.2" r="1.2" fill="rgb(176,176,184)" opacity="0.9"/>
<circle cx="607.6" cy="174.9" r="1.5" fill="rgb(203,203,211)" opacity="0.9"/>
<circle cx="618.7" cy="152.9" r="1.5" fill="rgb(181,181,189)" opacity="0.9"/>
<circle cx="635.1" cy="139.6" r="1.3" fill="rgb(187,187,195)" opacity="0.9"/>
<circle cx="632.5" cy="157.9" r="1.1" fill="rgb(171,171,179)" opacity="0.9"/>
<circle cx="644.7" cy="164.9" r="0.8" fill="rgb(183,183,191)" opacity="0.9"/>
<circle cx="638.1" cy="140.6" r="1.1" fill="rgb(188,188,196)" opacity="0.9"/>
<circle cx="642.6" cy="145.5" r="1.4" fill="rgb(234,234,242)" opacity="0.9"/>
<circle cx="643.8" cy="162.0" r="1.6" fill="rgb(216,216,224)" opacity="0.9"/>
<circle cx="637.5" cy="152.6" r="1.2" fill="rgb(197,197,205)" opacity="0.9"/>
<circle cx="637.7" cy="140.2" r="1.1" fill="rgb(218,218,226)" opacity="0.9"/>
<circle cx="644.2" cy="139.6" r="1.1" fill="rgb(213,213,221)" opacity="0.9"/>
<circle cx="647.0" cy="146.4" r="1.8" fill="rgb(223,223,231)" opacity="0.9"/>
<circle cx="627.7" cy="162.8" r="1.1" fill="rgb(175,175,183)" opacity="0.9"/>
<circle cx="640.4" cy="138.3" r="1.3" fill="rgb(207,207,215)" opacity="0.9"/>
<circle cx="656.4" cy="138.3" r="0.7" fill="rgb(214,214,222)" opacity="0.9"/>
<circle cx="627.0" cy="153.1" r="1.6" fill="rgb(201,201,209)" opacity="0.9"/>
<circle cx="615.1" cy="154.2" r="1.2" fill="rgb(206,206,214)" opacity="0.9"/>
<circle cx="617.7" cy="148.3" r="1.4" fill="rgb(225,225,233)" opacity="0.9"/>
<circle cx="637.2" cy="152.0" r="1.4" fill="rgb(211,211,219)" opacity="0.9"/>
<circle cx="642.5" cy="129.6" r="0.8" fill="rgb(186,186,194)" opacity="0.9"/>
<circle cx="659.6" cy="160.3" r="0.8" fill="rgb(176,176,184)" opacity="0.9"/>
<circle cx="640.3" cy="134.5" r="0.8" fill="rgb(221,221,229)" opacity="0.9"/>
<circle cx="636.7" cy="136.6" r="0.8" fill="rgb(221,221,229)" opacity="0.9"/>
<circle cx="626.2" cy="157.8" r="1.8" fill="rgb(231,231,239)" opacity="0.9"/>
<circle cx="644.7" cy="145.2" r="1.1" fill="rgb(208,208,216)" opacity="0.9"/>
<circle cx="675.9" cy="151.4" r="1.0" fill="rgb(189,189,197)" opacity="0.9"/>
<circle cx="636.4" cy="158.5" r="1.6" fill="rgb(211,211,219)" opacity="0.9"/>
<circle cx="627.5" cy="149.1" r="0.8" fill="rgb(192,192,200)" opacity="0.9"/>
<circle cx="654.5" cy="134.0" r="1.6" fill="rgb(189,189,197)" opacity="0.9"/>
<circle cx="641.2" cy="153.7" r="1.3" fill="rgb(198,198,206)" opacity="0.9"/>
<circle cx="626.4" cy="153.1" r="1.3" fill="rgb(197,197,205)" opacity="0.9"/>
<circle cx="642.5" cy="142.4" r="1.7" fill="rgb(211,211,219)" opacity="0.9"/>
<circle cx="649.9" cy="153.3" r="1.3" fill="rgb(200,200,208)" opacity="0.9"/>
<circle cx="630.3" cy="145.8" r="1.0" fill="rgb(229,229,237)" opacity="0.9"/>
<circle cx="635.1" cy="168.3" r="1.6" fill="rgb(214,214,222)" opacity="0.9"/>
<circle cx="613.1" cy="157.9" r="1.2" fill="rgb(235,235,243)" opacity="0.9"/>
<circle cx="652.0" cy="154.5" r="1.4" fill="rgb(173,173,181)" opacity="0.9"/>
<circle cx="643.0" cy="146.5" r="1.4" fill="rgb(183,183,191)" opacity="0.9"/>
<circle cx="653.6" cy="142.8" r="1.6" fill="rgb(207,207,215)" opacity="0.9"/>
<circle cx="631.7" cy="134.0" r="1.0" fill="rgb(185,185,193)" opacity="0.9"/>
<circle cx="643.5" cy="144.3" r="1.7" fill="rgb(185,185,193)" opacity="0.9"/>
<circle cx="644.3" cy="153.2" r="1.6" fill="rgb(241,241,249)" opacity="0.9"/>
<circle cx="624.9" cy="159.0" r="1.0" fill="rgb(237,237,245)" opacity="0.9"/>
<circle cx="637.3" cy="143.6" r="0.8" fill="rgb(222,222,230)" opacity="0.9"/>
<circle cx="662.0" cy="155.9" r="1.0" fill="rgb(187,187,195)" opacity="0.9"/>
<circle cx="630.9" cy="144.8" r="1.3" fill="rgb(181,181,189)" opacity="0.9"/>
<circle cx="649.0" cy="144.4" r="1.6" fill="rgb(181,181,189)" opacity="0.9"/>
<circle cx="650.3" cy="118.0" r="1.1" fill="rgb(172,172,180)" opacity="0.9"/>
<circle cx="627.5" cy="161.8" r="0.9" fill="rgb(210,210,218)" opacity="0.9"/>
<circle cx="651.2" cy="157.4" r="1.5" fill="rgb(202,202,210)" opacity="0.9"/>
<circle cx="637.4" cy="144.7" r="1.6" fill="rgb(179,179,187)" opacity="0.9"/>
<circle cx="675.4" cy="131.5" r="1.7" fill="rgb(209,209,217)" opacity="0.9"/>
<circle cx="637.2" cy="160.7" r="1.5" fill="rgb(207,207,215)" opacity="0.9"/>
<circle cx="644.8" cy="147.7" r="1.2" fill="rgb(234,234,242)" opacity="0.9"/>
<circle cx="627.8" cy="141.4" r="0.8" fill="rgb(180,180,188)" opacity="0.9"/>
<circle cx="636.6" cy="175.1" r="1.6" fill="rgb(187,187,195)" opacity="0.9"/>
<circle cx="642.7" cy="148.6" r="1.4" fill="rgb(242,242,250)" opacity="0.9"/>
<circle cx="623.9" cy="173.9" r="1.4" fill="rgb(173,173,181)" opacity="0.9"/>
<circle cx="633.5" cy="161.4" r="1.0" fill="rgb(225,225,233)" opacity="0.9"/>
<circle cx="649.1" cy="169.1" r="1.0" fill="rgb(175,175,183)" opacity="0.9"/>
<circle cx="635.0" cy="148.0" r="1.3" fill="rgb(229,229,237)" opacity="0.9"/>
<circle cx="629.0" cy="142.5" r="0.7" fill="rgb(208,208,216)" opacity="0.9"/>
<circle cx="654.2" cy="159.9" r="0.8" fill="rgb(213,213,221)" opacity="0.9"/>
<circle cx="633.0" cy="159.3" r="1.4" fill="rgb(182,182,190)" opacity="0.9"/>
<circle cx="653.8" cy="175.0" r="1.1" fill="rgb(233,233,241)" opacity="0.9"/>
<circle cx="649.6" cy="140.2" r="0.9" fill="rgb(177,177,185)" opacity="0.9"/>
<circle cx="644.3" cy="145.9" r="1.2" fill="rgb(210,210,218)" opacity="0.9"/>
<circle cx="650.0" cy="159.1" r="0.9" fill="rgb(210,210,218)" opacity="0.9"/>
<circle cx="628.5" cy="149.5" r="0.9" fill="rgb(200,200,208)" opacity="0.9"/>
<circle cx="641.8" cy="156.0" r="1.0" fill="rgb(235,235,243)" opacity="0.9"/>
<circle cx="614.8" cy="149.7" r="0.7" fill="rgb(240,240,248)" opacity="0.9"/>
<circle cx="618.8" cy="151.5" r="1.3" fill="rgb(221,221,229)" opacity="0.9"/>
<circle cx="642.6" cy="169.8" r="0.9" fill="rgb(189,189,197)" opacity="0.9"/>
<circle cx="651.8" cy="152.3" r="1.3" fill="rgb(191,191,199)" opacity="0.9"/>
<circle cx="643.9" cy="146.8" r="1.3" fill="rgb(187,187,195)" opacity="0.9"/>
<circle cx="622.6" cy="138.2" r="1.5" fill="rgb(174,174,182)" opacity="0.9"/>
<circle cx="640.4" cy="166.2" r="1.8" fill="rgb(173,173,181)" opacity="0.9"/>
<circle cx="626.4" cy="137.5" r="1.6" fill="rgb(195,195,203)" opacity="0.9"/>
<circle cx="645.0" cy="137.6" r="1.7" fill="rgb(170,170,178)" opacity="0.9"/>
<circle cx="665.8" cy="161.2" r="1.1" fill="rgb(157,157,165)" opacity="0.9"/>
<circle cx="660.3" cy="181.3" r="1.3" fill="rgb(162,162,170)" opacity="0.9"/>
<circle cx="658.2" cy="169.6" r="0.9" fill="rgb(167,167,175)" opacity="0.9"/>
<circle cx="652.0" cy="188.8" r="1.6" fill="rgb(213,213,221)" opacity="0.9"/>
<circle cx="653.0" cy="166.5" r="1.4" fill="rgb(222,222,230)" opacity="0.9"/>
<circle cx="660.1" cy="150.8" r="0.9" fill="rgb(200,200,208)" opacity="0.9"/>
<circle cx="666.0" cy="150.5" r="0.8" fill="rgb(207,207,215)" opacity="0.9"/>
<circle cx="657.9" cy="169.8" r="1.6" fill="rgb(203,203,211)" opacity="0.9"/>
<circle cx="659.9" cy="159.6" r="1.4" fill="rgb(224,224,232)" opacity="0.9"/>
<circle cx="668.2" cy="155.7" r="1.4" fill="rgb(214,214,222)" opacity="0.9"/>
<circle cx="654.6" cy="159.2" r="1.4" fill="rgb(212,212,220)" opacity="0.9"/>
<circle cx="663.5" cy="158.9" r="1.6" fill="rgb(192,192,200)" opacity="0.9"/>
<circle cx="662.8" cy="163.3" r="1.6" fill="rgb(212,212,220)" opacity="0.9"/>
<circle cx="659.9" cy="184.1" r="0.9" fill="rgb(165,165,173)" opacity="0.9"/>
<circle cx="655.7" cy="166.9" r="1.1" fill="rgb(222,222,230)" opacity="0.9"/>
<circle cx="656.3" cy="150.5" r="1.1" fill="rgb(212,212,220)" opacity="0.9"/>
<circle cx="662.5" cy="150.4" r="1.5" fill="rgb(216,216,224)" opacity="0.9"/>
<circle cx="657.9" cy="167.4" r="1.3" fill="rgb(216,216,224)" opacity="0.9"/>
<circle cx="655.7" cy="176.4" r="1.5" fill="rgb(213,213,221)" opacity="0.9"/>
<circle cx="667.0" cy="165.3" r="0.7" fill="rgb(158,158,166)" opacity="0.9"/>
<circle cx="662.4" cy="155.4" r="1.2" fill="rgb(186,186,194)" opacity="0.9"/>
<circle cx="657.9" cy="171.0" r="1.0" fill="rgb(217,217,225)" opacity="0.9"/>
<circle cx="656.3" cy="159.3" r="0.8" fill="rgb(171,171,179)" opacity="0.9"/>
<circle cx="658.0" cy="154.7" r="1.3" fill="rgb(214,214,222)" opacity="0.9"/>
<circle cx="666.6" cy="175.4" r="0.7" fill="rgb(215,215,223)" opacity="0.9"/>
<circle cx="661.9" cy="172.3" r="1.6" fill="rgb(178,178,186)" opacity="0.9"/>
<circle cx="662.0" cy="185.7" r="1.2" fill="rgb(221,221,229)" opacity="0.9"/>
<circle cx="654.4" cy="172.3" r="1.6" fill="rgb(190,190,198)" opacity="0.9"/>
<circle cx="663.9" cy="164.5" r="1.4" fill="rgb(162,162,170)" opacity="0.9"/>
<circle cx="659.8" cy="165.0" r="0.9" fill="rgb(225,225,233)" opacity="0.9"/>
<circle cx="649.5" cy="170.1" r="0.9" fill="rgb(178,178,186)" opacity="0.9"/>
<circle cx="666.1" cy="172.5" r="1.5" fill="rgb(191,191,199)" opacity="0.9"/>
<circle cx="650.1" cy="181.1" r="1.5" fill="rgb(203,203,211)" opacity="0.9"/>
<circle cx="667.5" cy="171.4" r="1.1" fill="rgb(226,226,234)" opacity="0.9"/>
<circle cx="654.3" cy="176.2" r="1.3" fill="rgb(180,180,188)" opacity="0.9"/>
<circle cx="651.1" cy="162.9" r="1.5" fill="rgb(189,189,197)" opacity="0.9"/>
<circle cx="649.3" cy="185.7" r="0.8" fill="rgb(216,216,224)" opacity="0.9"/>
<circle cx="656.9" cy="153.3" r="1.1" fill="rgb(210,210,218)" opacity="0.9"/>
<circle cx="667.5" cy="154.8" r="1.4" fill="rgb(152,152,160)" opacity="0.9"/>
<circle cx="658.5" cy="169.8" r="1.6" fill="rgb(221,221,229)" opacity="0.9"/>
<circle cx="664.9" cy="142.7" r="0.9" fill="rgb(112,112,120)" opacity="0.9"/>
<circle cx="652.2" cy="142.6" r="0.9" fill="rgb(126,126,134)" opacity="0.9"/>
<circle cx="660.4" cy="116.4" r="0.9" fill="rgb(135,135,143)" opacity="0.9"/>
<circle cx="668.6" cy="125.2" r="1.0" fill="rgb(150,150,158)" opacity="0.9"/>
<circle cx="648.7" cy="152.5" r="1.0" fill="rgb(151,151,159)" opacity="0.9"/>
<circle cx="659.4" cy="136.2" r="0.9" fill="rgb(159,159,167)" opacity="0.9"/>
<circle cx="661.5" cy="115.6" r="0.7" fill="rgb(140,140,148)" opacity="0.9"/>
<circle cx="662.6" cy="122.2" r="1.0" fill="rgb(120,120,128)" opacity="0.9"/>
<circle cx="659.2" cy="132.3" r="0.7" fill="rgb(132,132,140)" opacity="0.9"/>
<circle cx="675.0" cy="120.6" r="0.7" fill="rgb(128,128,136)" opacity="0.9"/>
<circle cx="663.7" cy="124.8" r="0.8" fill="rgb(136,136,144)" opacity="0.9"/>
<circle cx="663.6" cy="134.8" r="0.8" fill="rgb(133,133,141)" opacity="0.9"/>
<circle cx="664.6" cy="125.5" r="0.7" fill="rgb(164,164,172)" opacity="0.9"/>
<circle cx="649.1" cy="136.2" r="0.9" fill="rgb(156,156,164)" opacity="0.9"/>
<circle cx="658.6" cy="135.4" r="1.0" fill="rgb(138,138,146)" opacity="0.9"/>
<circle cx="651.7" cy="120.5" r="1.0" fill="rgb(126,126,134)" opacity="0.9"/>
<circle cx="651.3" cy="151.7" r="0.9" fill="rgb(127,127,135)" opacity="0.9"/>
<circle cx="656.8" cy="120.1" r="1.0" fill="rgb(112,112,120)" opacity="0.9"/>
<circle cx="663.6" cy="112.0" r="0.8" fill="rgb(166,166,174)" opacity="0.9"/>
<circle cx="659.6" cy="138.4" r="0.6" fill="rgb(142,142,150)" opacity="0.9"/>
<circle cx="660.2" cy="106.9" r="0.8" fill="rgb(158,158,166)" opacity="0.9"/>
<circle cx="663.9" cy="135.7" r="0.9" fill="rgb(168,168,176)" opacity="0.9"/>
<circle cx="653.9" cy="112.0" r="1.0" fill="rgb(133,133,141)" opacity="0.9"/>
<circle cx="669.2" cy="119.6" r="0.8" fill="rgb(133,133,141)" opacity="0.9"/>
<circle cx="661.9" cy="115.8" r="0.7" fill="rgb(162,162,170)" opacity="0.9"/>
<circle cx="568.7" cy="128.6" r="1.0" fill="rgb(184,184,192)" opacity="0.9"/>
<circle cx="590.3" cy="134.1" r="0.6" fill="rgb(154,154,162)" opacity="0.9"/>
<circle cx="559.5" cy="129.8" r="1.0" fill="rgb(164,164,172)" opacity="0.9"/>
<circle cx="570.1" cy="134.5" r="0.8" fill="rgb(180,180,188)" opacity="0.9"/>
<circle cx="588.5" cy="118.9" r="0.7" fill="rgb(170,170,178)" opacity="0.9"/>
<circle cx="583.4" cy="122.9" r="1.1" fill="rgb(183,183,191)" opacity="0.9"/>
<circle cx="582.0" cy="118.9" r="1.0" fill="rgb(182,182,190)" opacity="0.9"/>
<circle cx="595.7" cy="136.9" r="1.0" fill="rgb(166,166,174)" opacity="0.9"/>
<circle cx="582.3" cy="132.2" r="1.0" fill="rgb(179,179,187)" opacity="0.9"/>
<circle cx="581.8" cy="134.1" r="0.7" fill="rgb(135,135,143)" opacity="0.9"/>
<circle cx="568.4" cy="115.4" r="1.1" fill="rgb(151,151,159)" opacity="0.9"/>
<circle cx="581.5" cy="127.8" r="1.1" fill="rgb(149,149,157)" opacity="0.9"/>
<circle cx="599.9" cy="130.2" r="0.7" fill="rgb(146,146,154)" opacity="0.9"/>
<circle cx="595.1" cy="132.4" r="0.9" fill="rgb(178,178,186)" opacity="0.9"/>
<circle cx="604.8" cy="132.8" r="0.7" fill="rgb(143,143,151)" opacity="0.9"/>
<circle cx="575.5" cy="126.0" r="0.8" fill="rgb(164,164,172)" opacity="0.9"/>
<circle cx="587.3" cy="140.4" r="0.7" fill="rgb(180,180,188)" opacity="0.9"/>
<circle cx="588.4" cy="123.1" r="0.6" fill="rgb(176,176,184)" opacity="0.9"/>
<circle cx="597.0" cy="131.3" r="0.9" fill="rgb(133,133,141)" opacity="0.9"/>
<circle cx="569.8" cy="123.0" r="1.0" fill="rgb(154,154,162)" opacity="0.9"/>
<circle cx="567.0" cy="129.4" r="0.7" fill="rgb(182,182,190)" opacity="0.9"/>
<circle cx="604.7" cy="129.7" r="1.2" fill="rgb(149,149,157)" opacity="0.9"/>
<circle cx="587.6" cy="129.8" r="0.9" fill="rgb(138,138,146)" opacity="0.9"/>
<circle cx="565.6" cy="132.6" r="1.0" fill="rgb(157,157,165)" opacity="0.9"/>
<circle cx="578.8" cy="133.3" r="0.8" fill="rgb(146,146,154)" opacity="0.9"/>
<circle cx="589.7" cy="139.2" r="0.9" fill="rgb(156,156,164)" opacity="0.9"/>
<circle cx="589.0" cy="138.9" r="0.7" fill="rgb(145,145,153)" opacity="0.9"/>
<circle cx="565.7" cy="126.6" r="1.2" fill="rgb(174,174,182)" opacity="0.9"/>
<circle cx="608.6" cy="125.7" r="1.0" fill="rgb(173,173,181)" opacity="0.9"/>
<circle cx="590.5" cy="131.6" r="0.6" fill="rgb(181,181,189)" opacity="0.9"/>
<circle cx="440.3" cy="133.9" r="1.1" fill="rgb(164,164,172)" opacity="0.9"/>
<circle cx="443.2" cy="201.5" r="2.0" fill="rgb(161,161,169)" opacity="0.9"/>
<circle cx="442.8" cy="174.4" r="1.2" fill="rgb(202,202,210)" opacity="0.9"/>
<circle cx="442.1" cy="143.0" r="0.9" fill="rgb(147,147,155)" opacity="0.9"/>
<circle cx="444.0" cy="207.1" r="1.4" fill="rgb(209,209,217)" opacity="0.9"/>
<circle cx="445.5" cy="145.6" r="1.4" fill="rgb(197,197,205)" opacity="0.9"/>
<circle cx="442.0" cy="179.0" r="1.5" fill="rgb(175,175,183)" opacity="0.9"/>
<circle cx="441.6" cy="189.2" r="0.8" fill="rgb(203,203,211)" opacity="0.9"/>
<circle cx="439.2" cy="109.3" r="2.0" fill="rgb(170,170,178)" opacity="0.9"/>
<circle cx="440.7" cy="144.6" r="1.8" fill="rgb(198,198,206)" opacity="0.9"/>
<circle cx="441.3" cy="173.1" r="1.1" fill="rgb(180,180,188)" opacity="0.9"/>
<circle cx="440.7" cy="172.4" r="1.8" fill="rgb(195,195,203)" opacity="0.9"/>
<circle cx="440.1" cy="171.7" r="1.9" fill="rgb(177,177,185)" opacity="0.9"/>
<circle cx="443.4" cy="179.9" r="1.5" fill="rgb(201,201,209)" opacity="0.9"/>
<circle cx="436.7" cy="173.6" r="1.0" fill="rgb(157,157,165)" opacity="0.9"/>
<circle cx="443.4" cy="155.8" r="0.9" fill="rgb(181,181,189)" opacity="0.9"/>
<circle cx="442.4" cy="182.4" r="1.3" fill="rgb(180,180,188)" opacity="0.9"/>
<circle cx="437.9" cy="139.2" r="1.3" fill="rgb(144,144,152)" opacity="0.9"/>
<circle cx="440.8" cy="161.5" r="1.4" fill="rgb(168,168,176)" opacity="0.9"/>
<circle cx="438.8" cy="133.6" r="1.1" fill="rgb(185,185,193)" opacity="0.9"/>
<circle cx="439.8" cy="142.6" r="1.0" fill="rgb(203,203,211)" opacity="0.9"/>
<circle cx="440.1" cy="164.5" r="1.1" fill="rgb(209,209,217)" opacity="0.9"/>
<circle cx="441.4" cy="195.7" r="1.7" fill="rgb(197,197,205)" opacity="0.9"/>
<circle cx="437.7" cy="138.1" r="0.8" fill="rgb(146,146,154)" opacity="0.9"/>
<circle cx="446.3" cy="163.0" r="0.8" fill="rgb(143,143,151)" opacity="0.9"/>
<circle cx="441.4" cy="230.0" r="1.1" fill="rgb(187,187,195)" opacity="0.9"/>
<circle cx="444.9" cy="154.3" r="1.9" fill="rgb(158,158,166)" opacity="0.9"/>
<circle cx="441.3" cy="174.1" r="1.7" fill="rgb(147,147,155)" opacity="0.9"/>
<circle cx="445.7" cy="163.1" r="1.0" fill="rgb(196,196,204)" opacity="0.9"/>
<circle cx="442.9" cy="196.6" r="0.9" fill="rgb(195,195,203)" opacity="0.9"/>
<circle cx="446.1" cy="133.0" r="0.8" fill="rgb(199,199,207)" opacity="0.9"/>
<circle cx="435.8" cy="153.4" r="1.4" fill="rgb(183,183,191)" opacity="0.9"/>
<circle cx="436.5" cy="143.9" r="0.9" fill="rgb(143,143,151)" opacity="0.9"/>
<circle cx="438.6" cy="163.9" r="1.3" fill="rgb(140,140,148)" opacity="0.9"/>
<circle cx="441.0" cy="164.3" r="1.8" fill="rgb(196,196,204)" opacity="0.9"/>
<circle cx="439.5" cy="173.5" r="1.6" fill="rgb(154,154,162)" opacity="0.9"/>
<circle cx="439.7" cy="175.4" r="2.0" fill="rgb(178,178,186)" opacity="0.9"/>
<circle cx="440.2" cy="179.2" r="1.7" fill="rgb(199,199,207)" opacity="0.9"/>
<circle cx="441.8" cy="160.2" r="1.2" fill="rgb(161,161,169)" opacity="0.9"/>
<circle cx="441.1" cy="155.3" r="1.5" fill="rgb(208,208,216)" opacity="0.9"/>
<circle cx="441.0" cy="167.0" r="0.9" fill="rgb(147,147,155)" opacity="0.9"/>
<circle cx="439.6" cy="137.1" r="1.4" fill="rgb(171,171,179)" opacity="0.9"/>
<circle cx="437.6" cy="189.6" r="1.6" fill="rgb(204,204,212)" opacity="0.9"/>
<circle cx="440.4" cy="123.9" r="1.9" fill="rgb(198,198,206)" opacity="0.9"/>
<circle cx="440.8" cy="163.7" r="1.6" fill="rgb(199,199,207)" opacity="0.9"/>
<circle cx="402.0" cy="201.2" r="1.0" fill="rgb(185,185,193)" opacity="0.9"/>
<circle cx="421.9" cy="200.4" r="1.1" fill="rgb(141,141,149)" opacity="0.9"/>
<circle cx="469.3" cy="200.8" r="0.9" fill="rgb(151,151,159)" opacity="0.9"/>
<circle cx="567.3" cy="198.6" r="1.7" fill="rgb(173,173,181)" opacity="0.9"/>
<circle cx="578.4" cy="192.1" r="1.6" fill="rgb(139,139,147)" opacity="0.9"/>
<circle cx="495.1" cy="201.6" r="0.8" fill="rgb(136,136,144)" opacity="0.9"/>
<circle cx="580.1" cy="195.3" r="1.1" fill="rgb(173,173,181)" opacity="0.9"/>
<circle cx="511.4" cy="193.8" r="1.6" fill="rgb(157,157,165)" opacity="0.9"/>
<circle cx="568.9" cy="201.9" r="1.1" fill="rgb(163,163,171)" opacity="0.9"/>
<circle cx="453.3" cy="201.3" r="1.8" fill="rgb(131,131,139)" opacity="0.9"/>
<circle cx="423.9" cy="198.3" r="1.3" fill="rgb(185,185,193)" opacity="0.9"/>
<circle cx="402.5" cy="202.0" r="1.5" fill="rgb(187,187,195)" opacity="0.9"/>
<circle cx="524.2" cy="199.9" r="1.1" fill="rgb(183,183,191)" opacity="0.9"/>
<circle cx="533.7" cy="199.2" r="1.5" fill="rgb(189,189,197)" opacity="0.9"/>
<circle cx="519.0" cy="201.4" r="1.5" fill="rgb(168,168,176)" opacity="0.9"/>
<circle cx="492.9" cy="194.8" r="1.0" fill="rgb(137,137,145)" opacity="0.9"/>
<circle cx="570.5" cy="199.7" r="1.0" fill="rgb(138,138,146)" opacity="0.9"/>
<circle cx="565.0" cy="198.2" r="1.4" fill="rgb(165,165,173)" opacity="0.9"/>
<circle cx="432.1" cy="196.8" r="1.1" fill="rgb(124,124,132)" opacity="0.9"/>
<circle cx="502.8" cy="199.2" r="1.2" fill="rgb(129,129,137)" opacity="0.9"/>
<circle cx="539.3" cy="200.9" r="1.8" fill="rgb(168,168,176)" opacity="0.9"/>
<circle cx="482.4" cy="203.2" r="1.0" fill="rgb(127,127,135)" opacity="0.9"/>
<circle cx="478.2" cy="201.4" r="1.5" fill="rgb(151,151,159)" opacity="0.9"/>
<circle cx="492.0" cy="197.9" r="1.7" fill="rgb(143,143,151)" opacity="0.9"/>
<circle cx="501.2" cy="198.5" r="1.6" fill="rgb(135,135,143)" opacity="0.9"/>
<circle cx="550.2" cy="195.4" r="1.5" fill="rgb(139,139,147)" opacity="0.9"/>
<circle cx="527.4" cy="199.1" r="1.7" fill="rgb(131,131,139)" opacity="0.9"/>
<circle cx="459.1" cy="196.2" r="1.5" fill="rgb(132,132,140)" opacity="0.9"/>
<circle cx="509.0" cy="199.9" r="1.8" fill="rgb(146,146,154)" opacity="0.9"/>
<circle cx="457.6" cy="196.3" r="1.0" fill="rgb(124,124,132)" opacity="0.9"/>
<circle cx="592.4" cy="199.5" r="0.9" fill="rgb(187,187,195)" opacity="0.9"/>
<circle cx="442.6" cy="202.0" r="0.9" fill="rgb(175,175,183)" opacity="0.9"/>
<circle cx="494.5" cy="201.4" r="1.3" fill="rgb(127,127,135)" opacity="0.9"/>
<circle cx="496.0" cy="203.5" r="1.1" fill="rgb(146,146,154)" opacity="0.9"/>
<circle cx="498.3" cy="197.2" r="1.0" fill="rgb(135,135,143)" opacity="0.9"/>
<circle cx="459.4" cy="200.6" r="1.4" fill="rgb(153,153,161)" opacity="0.9"/>
<circle cx="506.0" cy="198.4" r="1.5" fill="rgb(178,178,186)" opacity="0.9"/>
<circle cx="496.2" cy="199.6" r="1.2" fill="rgb(128,128,136)" opacity="0.9"/>
<circle cx="418.6" cy="200.0" r="0.9" fill="rgb(128,128,136)" opacity="0.9"/>
<circle cx="464.4" cy="199.2" r="1.0" fill="rgb(150,150,158)" opacity="0.9"/>
<circle cx="508.8" cy="199.6" r="1.2" fill="rgb(152,152,160)" opacity="0.9"/>
<circle cx="553.6" cy="197.8" r="0.9" fill="rgb(135,135,143)" opacity="0.9"/>
<circle cx="492.7" cy="195.8" r="1.7" fill="rgb(187,187,195)" opacity="0.9"/>
<circle cx="510.1" cy="198.1" r="1.7" fill="rgb(156,156,164)" opacity="0.9"/>
<circle cx="497.0" cy="200.5" r="1.7" fill="rgb(134,134,142)" opacity="0.9"/>
<circle cx="529.0" cy="200.0" r="1.7" fill="rgb(152,152,160)" opacity="0.9"/>
<circle cx="492.7" cy="198.0" r="1.3" fill="rgb(142,142,150)" opacity="0.9"/>
<circle cx="515.4" cy="202.5" r="1.2" fill="rgb(128,128,136)" opacity="0.9"/>
<circle cx="552.0" cy="198.7" r="1.0" fill="rgb(120,120,128)" opacity="0.9"/>
<circle cx="460.6" cy="196.5" r="0.8" fill="rgb(152,152,160)" opacity="0.9"/>
<circle cx="491.3" cy="195.9" r="1.0" fill="rgb(154,154,162)" opacity="0.9"/>
<circle cx="437.6" cy="196.8" r="0.9" fill="rgb(176,176,184)" opacity="0.9"/>
<circle cx="572.4" cy="197.6" r="1.7" fill="rgb(145,145,153)" opacity="0.9"/>
<circle cx="520.9" cy="198.1" r="1.0" fill="rgb(161,161,169)" opacity="0.9"/>
<circle cx="511.8" cy="198.4" r="1.0" fill="rgb(122,122,130)" opacity="0.9"/>
<circle cx="469.5" cy="199.5" r="1.0" fill="rgb(172,172,180)" opacity="0.9"/>
<circle cx="392.4" cy="196.0" r="1.2" fill="rgb(167,167,175)" opacity="0.9"/>
<circle cx="616.4" cy="199.5" r="1.0" fill="rgb(153,153,161)" opacity="0.9"/>
<circle cx="373.6" cy="198.6" r="1.3" fill="rgb(189,189,197)" opacity="0.9"/>
<circle cx="469.7" cy="197.8" r="1.6" fill="rgb(134,134,142)" opacity="0.9"/>
<circle cx="654.9" cy="104.9" r="0.6" fill="rgb(187,187,195)" opacity="0.9"/>
<circle cx="627.0" cy="121.6" r="0.7" fill="rgb(166,166,174)" opacity="0.9"/>
<circle cx="652.2" cy="107.5" r="0.6" fill="rgb(177,177,185)" opacity="0.9"/>
<circle cx="659.6" cy="105.0" r="0.6" fill="rgb(151,151,159)" opacity="0.9"/>
<circle cx="608.7" cy="94.2" r="0.6" fill="rgb(136,136,144)" opacity="0.9"/>
<circle cx="668.2" cy="136.4" r="0.6" fill="rgb(129,129,137)" opacity="0.9"/>
<circle cx="611.5" cy="101.7" r="0.9" fill="rgb(123,123,131)" opacity="0.9"/>
<circle cx="636.1" cy="115.8" r="0.8" fill="rgb(151,151,159)" opacity="0.9"/>
<circle cx="603.3" cy="125.4" r="0.8" fill="rgb(180,180,188)" opacity="0.9"/>
<circle cx="648.7" cy="101.2" r="1.0" fill="rgb(148,148,156)" opacity="0.9"/>
<circle cx="672.9" cy="117.7" r="0.6" fill="rgb(121,121,129)" opacity="0.9"/>
<circle cx="631.3" cy="119.4" r="1.0" fill="rgb(180,180,188)" opacity="0.9"/>
<circle cx="615.6" cy="115.6" r="0.9" fill="rgb(176,176,184)" opacity="0.9"/>
<circle cx="622.7" cy="87.3" r="0.6" fill="rgb(137,137,145)" opacity="0.9"/>
<circle cx="621.9" cy="85.0" r="0.9" fill="rgb(182,182,190)" opacity="0.9"/>
<circle cx="646.4" cy="102.2" r="0.5" fill="rgb(182,182,190)" opacity="0.9"/>
<circle cx="624.7" cy="100.1" r="0.8" fill="rgb(137,137,145)" opacity="0.9"/>
<circle cx="636.5" cy="122.1" r="0.8" fill="rgb(167,167,175)" opacity="0.9"/>
<circle cx="661.5" cy="118.2" r="0.8" fill="rgb(153,153,161)" opacity="0.9"/>
<circle cx="619.8" cy="76.5" r="0.5" fill="rgb(153,153,161)" opacity="0.9"/>
<circle cx="622.6" cy="79.6" r="0.8" fill="rgb(132,132,140)" opacity="0.9"/>
<circle cx="665.5" cy="96.9" r="0.6" fill="rgb(150,150,158)" opacity="0.9"/>
<circle cx="646.8" cy="101.8" r="0.7" fill="rgb(187,187,195)" opacity="0.9"/>
<circle cx="645.6" cy="97.3" r="0.9" fill="rgb(145,145,153)" opacity="0.9"/>
<circle cx="619.1" cy="78.7" r="0.6" fill="rgb(135,135,143)" opacity="0.9"/>
<circle cx="638.1" cy="118.8" r="0.5" fill="rgb(129,129,137)" opacity="0.9"/>
<circle cx="619.4" cy="115.5" r="0.5" fill="rgb(160,160,168)" opacity="0.9"/>
<circle cx="657.1" cy="96.6" r="0.7" fill="rgb(169,169,177)" opacity="0.9"/>
<circle cx="624.7" cy="109.3" r="0.7" fill="rgb(121,121,129)" opacity="0.9"/>
<circle cx="630.2" cy="95.5" r="0.7" fill="rgb(187,187,195)" opacity="0.9"/>
<circle cx="638.6" cy="71.0" r="0.8" fill="rgb(164,164,172)" opacity="0.9"/>
<circle cx="621.9" cy="60.0" r="0.6" fill="rgb(173,173,181)" opacity="0.9"/>
<circle cx="630.7" cy="118.1" r="0.9" fill="rgb(162,162,170)" opacity="0.9"/>
<circle cx="656.5" cy="75.2" r="0.8" fill="rgb(133,133,141)" opacity="0.9"/>
<circle cx="657.2" cy="107.1" r="0.9" fill="rgb(139,139,147)" opacity="0.9"/>
<circle cx="636.6" cy="105.7" r="0.6" fill="rgb(168,168,176)" opacity="0.9"/>
<circle cx="648.0" cy="105.3" r="0.6" fill="rgb(169,169,177)" opacity="0.9"/>
<circle cx="638.5" cy="104.7" r="0.6" fill="rgb(185,185,193)" opacity="0.9"/>
<circle cx="645.0" cy="103.1" r="0.7" fill="rgb(156,156,164)" opacity="0.9"/>
<circle cx="627.0" cy="121.9" r="0.7" fill="rgb(138,138,146)" opacity="0.9"/>
<circle cx="642.1" cy="107.6" r="0.6" fill="rgb(126,126,134)" opacity="0.9"/>
<circle cx="615.2" cy="85.5" r="0.6" fill="rgb(175,175,183)" opacity="0.9"/>
<circle cx="632.8" cy="88.7" r="0.7" fill="rgb(133,133,141)" opacity="0.9"/>
<circle cx="655.8" cy="95.0" r="0.5" fill="rgb(130,130,138)" opacity="0.9"/>
<circle cx="628.7" cy="88.4" r="0.9" fill="rgb(136,136,144)" opacity="0.9"/>
<circle cx="644.5" cy="74.0" r="0.5" fill="rgb(161,161,169)" opacity="0.9"/>
<circle cx="645.2" cy="131.3" r="0.9" fill="rgb(175,175,183)" opacity="0.9"/>
<circle cx="635.9" cy="112.9" r="0.8" fill="rgb(159,159,167)" opacity="0.9"/>
<circle cx="642.6" cy="114.0" r="0.8" fill="rgb(127,127,135)" opacity="0.9"/>
<circle cx="626.1" cy="95.0" r="0.6" fill="rgb(149,149,157)" opacity="0.9"/>
<circle cx="606.7" cy="99.0" r="0.5" fill="rgb(170,170,178)" opacity="0.9"/>
<circle cx="637.7" cy="119.7" r="0.8" fill="rgb(168,168,176)" opacity="0.9"/>
<circle cx="605.9" cy="79.4" r="0.6" fill="rgb(141,141,149)" opacity="0.9"/>
<circle cx="627.7" cy="93.1" r="0.6" fill="rgb(135,135,143)" opacity="0.9"/>
<circle cx="639.5" cy="71.6" r="0.9" fill="rgb(187,187,195)" opacity="0.9"/>
<circle cx="639.3" cy="90.1" r="0.7" fill="rgb(170,170,178)" opacity="0.9"/>
<circle cx="658.2" cy="113.5" r="0.5" fill="rgb(123,123,131)" opacity="0.9"/>
<circle cx="624.7" cy="104.1" r="1.0" fill="rgb(181,181,189)" opacity="0.9"/>
<circle cx="623.4" cy="107.8" r="0.6" fill="rgb(155,155,163)" opacity="0.9"/>
<circle cx="618.1" cy="102.7" r="0.9" fill="rgb(157,157,165)" opacity="0.9"/>
<circle cx="601.1" cy="77.2" r="0.5" fill="rgb(147,147,155)" opacity="0.9"/>
<circle cx="588.6" cy="80.5" r="0.8" fill="rgb(135,135,143)" opacity="0.9"/>
<circle cx="592.9" cy="86.2" r="0.9" fill="rgb(173,173,181)" opacity="0.9"/>
<circle cx="588.7" cy="84.7" r="1.0" fill="rgb(185,185,193)" opacity="0.9"/>
<circle cx="594.8" cy="78.1" r="0.7" fill="rgb(164,164,172)" opacity="0.9"/>
<circle cx="599.3" cy="81.6" r="1.0" fill="rgb(183,183,191)" opacity="0.9"/>
<circle cx="611.6" cy="84.9" r="0.8" fill="rgb(140,140,148)" opacity="0.9"/>
<circle cx="622.7" cy="84.2" r="0.9" fill="rgb(150,150,158)" opacity="0.9"/>
<circle cx="612.9" cy="83.1" r="0.5" fill="rgb(187,187,195)" opacity="0.9"/>
<circle cx="611.7" cy="81.6" r="0.9" fill="rgb(129,129,137)" opacity="0.9"/>
<circle cx="604.5" cy="81.4" r="0.6" fill="rgb(157,157,165)" opacity="0.9"/>
<circle cx="604.6" cy="76.8" r="0.6" fill="rgb(173,173,181)" opacity="0.9"/>
<circle cx="587.8" cy="82.5" r="0.6" fill="rgb(136,136,144)" opacity="0.9"/>
<circle cx="607.4" cy="79.5" r="0.6" fill="rgb(171,171,179)" opacity="0.9"/>
<circle cx="625.3" cy="71.8" r="0.7" fill="rgb(186,186,194)" opacity="0.9"/>
<circle cx="590.2" cy="77.0" r="0.7" fill="rgb(170,170,178)" opacity="0.9"/>
<circle cx="599.2" cy="76.9" r="0.6" fill="rgb(187,187,195)" opacity="0.9"/>
<circle cx="621.5" cy="86.8" r="0.7" fill="rgb(137,137,145)" opacity="0.9"/>
<circle cx="599.5" cy="86.7" r="1.0" fill="rgb(130,130,138)" opacity="0.9"/>
<circle cx="608.1" cy="75.8" r="0.6" fill="rgb(172,172,180)" opacity="0.9"/>
<circle cx="594.7" cy="83.2" r="0.7" fill="rgb(177,177,185)" opacity="0.9"/>
<circle cx="612.8" cy="74.1" r="0.5" fill="rgb(173,173,181)" opacity="0.9"/>
<circle cx="574.8" cy="72.0" r="1.0" fill="rgb(142,142,150)" opacity="0.9"/>
<circle cx="616.1" cy="71.0" r="0.6" fill="rgb(145,145,153)" opacity="0.9"/>
<circle cx="590.1" cy="84.0" r="0.7" fill="rgb(127,127,135)" opacity="0.9"/>
<circle cx="604.7" cy="93.0" r="0.7" fill="rgb(164,164,172)" opacity="0.9"/>
<circle cx="619.1" cy="73.4" r="0.6" fill="rgb(184,184,192)" opacity="0.9"/>
<circle cx="615.3" cy="62.7" r="0.9" fill="rgb(172,172,180)" opacity="0.9"/>
<circle cx="604.4" cy="75.8" r="0.8" fill="rgb(146,146,154)" opacity="0.9"/>
<circle cx="604.3" cy="77.3" r="0.8" fill="rgb(143,143,151)" opacity="0.9"/>
<circle cx="542.4" cy="143.3" r="1.0" fill="rgb(132,132,140)" opacity="0.9"/>
<circle cx="542.4" cy="147.0" r="1.1" fill="rgb(127,127,135)" opacity="0.9"/>
<circle cx="536.1" cy="139.6" r="0.6" fill="rgb(133,133,141)" opacity="0.9"/>
<circle cx="533.7" cy="147.4" r="0.8" fill="rgb(129,129,137)" opacity="0.9"/>
<circle cx="542.4" cy="134.2" r="0.7" fill="rgb(107,107,115)" opacity="0.9"/>
<circle cx="540.0" cy="153.7" r="0.8" fill="rgb(91,91,99)" opacity="0.9"/>
<circle cx="541.2" cy="144.5" r="0.6" fill="rgb(93,93,101)" opacity="0.9"/>
<circle cx="539.8" cy="144.7" r="0.8" fill="rgb(110,110,118)" opacity="0.9"/>
<circle cx="544.8" cy="131.2" r="0.8" fill="rgb(121,121,129)" opacity="0.9"/>
<circle cx="545.3" cy="144.5" r="1.0" fill="rgb(126,126,134)" opacity="0.9"/>
<circle cx="643.9" cy="199.4" r="1.2" fill="rgb(157,157,165)" opacity="0.9"/>
<circle cx="637.2" cy="185.1" r="1.1" fill="rgb(183,183,191)" opacity="0.9"/>
<circle cx="635.7" cy="195.2" r="1.2" fill="rgb(164,164,172)" opacity="0.9"/>
<circle cx="645.1" cy="193.6" r="1.5" fill="rgb(198,198,206)" opacity="0.9"/>
<circle cx="662.6" cy="197.8" r="0.7" fill="rgb(191,191,199)" opacity="0.9"/>
<circle cx="638.4" cy="193.3" r="1.0" fill="rgb(156,156,164)" opacity="0.9"/>
<circle cx="635.3" cy="188.6" r="1.3" fill="rgb(174,174,182)" opacity="0.9"/>
<circle cx="652.3" cy="198.1" r="1.3" fill="rgb(165,165,173)" opacity="0.9"/>
<circle cx="668.6" cy="179.5" r="1.0" fill="rgb(176,176,184)" opacity="0.9"/>
<circle cx="645.4" cy="178.8" r="0.9" fill="rgb(171,171,179)" opacity="0.9"/>
<circle cx="643.8" cy="197.1" r="0.8" fill="rgb(188,188,196)" opacity="0.9"/>
<circle cx="638.1" cy="190.0" r="0.8" fill="rgb(216,216,224)" opacity="0.9"/>
<circle cx="660.3" cy="190.0" r="1.3" fill="rgb(162,162,170)" opacity="0.9"/>
<circle cx="658.6" cy="186.6" r="1.3" fill="rgb(210,210,218)" opacity="0.9"/>
<circle cx="638.3" cy="198.7" r="0.9" fill="rgb(151,151,159)" opacity="0.9"/>
<circle cx="632.9" cy="189.8" r="1.4" fill="rgb(216,216,224)" opacity="0.9"/>
<circle cx="631.5" cy="189.2" r="1.1" fill="rgb(160,160,168)" opacity="0.9"/>
<circle cx="640.2" cy="183.4" r="1.0" fill="rgb(192,192,200)" opacity="0.9"/>
<circle cx="649.6" cy="194.0" r="1.0" fill="rgb(185,185,193)" opacity="0.9"/>
<circle cx="646.5" cy="190.4" r="0.7" fill="rgb(173,173,181)" opacity="0.9"/>
</g>
<ellipse cx="527" cy="138" rx="5.5" ry="3.8" fill="#24321e" stroke="#8a9a80" stroke-width="0.8"/>
<ellipse cx="622" cy="177.5" rx="19" ry="9.5" fill="none" stroke="#5a8a50" stroke-width="0.8"/>
<polyline points="556.00,113.50 566.00,118.00 578.10,125.00 602.90,136.40 620.00,144.10 629.60,153.60 642.90,166.90 652.50,180.30 651.00,184.50 644.00,187.00 636.00,187.00" fill="none" stroke="#a0a0a0" stroke-width="1.3" stroke-linejoin="round" />
<polyline points="556.00,114.50 564.00,119.00 573.40,125.00 597.20,144.10 616.20,155.50 625.80,165.00 629.60,168.80 634.00,172.00" fill="none" stroke="#a0a0a0" stroke-width="1.3" stroke-linejoin="round" />
<circle cx="459.5" cy="76" r="2.8" fill="none" stroke="#a0a0a0" stroke-width="1"/>
<circle cx="498.9" cy="120.3" r="2.6" fill="none" stroke="#a0a0a0" stroke-width="1"/>
<circle cx="508.4" cy="127" r="2.6" fill="none" stroke="#a0a0a0" stroke-width="1"/>
<circle cx="552.5" cy="102.5" r="3" fill="none" stroke="#a8a8a8" stroke-width="1.6"/>
<circle cx="462.9" cy="75.9" r="4.1" fill="#6cc860"/>
<circle cx="465.4" cy="75" r="4.1" fill="#2f6cf2"/>
<circle cx="469.9" cy="75.9" r="4.1" fill="#22b4b0"/>
<circle cx="467.9" cy="77.4" r="4.1" fill="#6cc860"/>
<circle cx="464.4" cy="82.9" r="4.1" fill="#f2e81c"/>
<circle cx="466.9" cy="84.9" r="4.1" fill="#d6d436"/>
<circle cx="469.9" cy="87.8" r="4.1" fill="#f2c030"/>
<circle cx="473.3" cy="90.3" r="4.1" fill="#3cc090"/>
<circle cx="475.3" cy="91.8" r="4.1" fill="#6cc860"/>
<circle cx="477.3" cy="93.3" r="4.1" fill="#6cc860"/>
<circle cx="479.3" cy="94.8" r="4.1" fill="#22b4b0"/>
<circle cx="481.3" cy="96.3" r="4.1" fill="#22b4b0"/>
<circle cx="483.5" cy="98" r="4.1" fill="#f2e81c"/>
<circle cx="485.7" cy="99.7" r="4.1" fill="#f2e81c"/>
<circle cx="487.7" cy="101.4" r="4.1" fill="#f2e81c"/>
<circle cx="489.7" cy="103.2" r="4.1" fill="#f2e81c"/>
<circle cx="492" cy="105" r="4.1" fill="#f2e81c"/>
<circle cx="494.6" cy="107.2" r="4.1" fill="#3cc090"/>
<circle cx="495" cy="107.4" r="4.1" fill="#6cc860"/>
<circle cx="497.9" cy="109.9" r="4.1" fill="#f2e81c"/>
<circle cx="499.5" cy="111.5" r="4.1" fill="#f2e81c"/>
<circle cx="505.9" cy="117.3" r="4.1" fill="#f2c030"/>
<circle cx="501.9" cy="113.9" r="4.1" fill="#2f6cf2"/>
<circle cx="508.3" cy="118.8" r="4.1" fill="#6cc860"/>
<circle cx="510.8" cy="120.3" r="4.1" fill="#6cc860"/>
<circle cx="512.8" cy="121.8" r="4.1" fill="#22b4b0"/>
<circle cx="514.8" cy="123.3" r="4.1" fill="#22b4b0"/>
<circle cx="517.8" cy="126.3" r="4.1" fill="#f2e81c"/>
<circle cx="519.7" cy="129.2" r="4.1" fill="#f2e81c"/>
<circle cx="514.8" cy="129.7" r="4.1" fill="#f0a838"/>
<circle cx="522.7" cy="131.7" r="4.1" fill="#3cc090"/>
<circle cx="519.7" cy="134.2" r="4.1" fill="#2f6cf2"/>
<circle cx="525.7" cy="132.7" r="4.1" fill="#22b4b0"/>
<circle cx="529.6" cy="129.7" r="4.1" fill="#1e98e0"/>
<circle cx="531.6" cy="127.8" r="4.1" fill="#1e98e0"/>
<circle cx="533.6" cy="125.8" r="4.1" fill="#2c66f0"/>
<circle cx="536.5" cy="123.8" r="4.1" fill="#2c66f0"/>
<circle cx="539.5" cy="121.8" r="4.1" fill="#2c66f0"/>
<circle cx="542.5" cy="119.5" r="4.1" fill="#2c66f0"/>
<circle cx="545.5" cy="117.3" r="4.1" fill="#3a52ee"/>
<circle cx="548.5" cy="115" r="4.1" fill="#3c46ea"/>
<circle cx="551.5" cy="112.5" r="4.1" fill="#3c34e4"/>
<circle cx="554.5" cy="110.5" r="4.1" fill="#3c34e4"/>
<circle cx="557.5" cy="108.8" r="4.1" fill="#3c34e4"/>
<circle cx="560.5" cy="107.4" r="4.1" fill="#4630dc"/>
<circle cx="563" cy="106.4" r="4.1" fill="#4630dc"/>
</g>
<rect x="444.4" y="143.8" width="106.8" height="52.5" fill="#fff"/>
<text x="499" y="153.9" font-size="11" fill="#111" color="#111" text-anchor="middle"><tspan font-style="italic">N</tspan><tspan font-size="7.5" dy="3.5">&gt;3nm</tspan><tspan dy="-3.5">/</tspan><tspan font-style="italic">N</tspan><tspan font-size="7.5" dy="3.5">&gt;10nm</tspan></text>
<text x="451.40" y="170.60" font-size="10.2" fill="#111" color="#111" text-anchor="middle" >1.0</text>
<text x="474.45" y="170.60" font-size="10.2" fill="#111" color="#111" text-anchor="middle" >1.5</text>
<text x="497.50" y="170.60" font-size="10.2" fill="#111" color="#111" text-anchor="middle" >2.0</text>
<text x="520.55" y="170.60" font-size="10.2" fill="#111" color="#111" text-anchor="middle" >2.5</text>
<text x="543.60" y="170.60" font-size="10.2" fill="#111" color="#111" text-anchor="middle" >3.0</text>
<rect x="452.2" y="173.1" width="92" height="8.7" fill="url(#cmap)"/>
<line x1="463.30" y1="191.40" x2="498.30" y2="191.40" stroke="#111" stroke-width="1.1" />
<line x1="463.30" y1="187.80" x2="463.30" y2="195.00" stroke="#111" stroke-width="1.1" />
<line x1="498.30" y1="187.80" x2="498.30" y2="195.00" stroke="#111" stroke-width="1.1" />
<text x="502.80" y="195.00" font-size="11.5" fill="#111" color="#111" text-anchor="start" >20 km</text>
<line x1="438.40" y1="72.60" x2="669.50" y2="72.60" stroke="#1c1c1c" stroke-width="1" />
<line x1="438.40" y1="72.60" x2="438.40" y2="66.60" stroke="#1c1c1c" stroke-width="1" />
<line x1="438.40" y1="201.30" x2="438.40" y2="207.30" stroke="#1c1c1c" stroke-width="1" />
<text x="438.40" y="64.10" font-size="10.8" fill="#1c1c1c" color="#1c1c1c" text-anchor="middle" >-28.8</text>
<line x1="467.29" y1="72.60" x2="467.29" y2="69.60" stroke="#1c1c1c" stroke-width="1" />
<line x1="467.29" y1="201.30" x2="467.29" y2="204.30" stroke="#1c1c1c" stroke-width="1" />
<line x1="496.17" y1="72.60" x2="496.17" y2="66.60" stroke="#1c1c1c" stroke-width="1" />
<line x1="496.17" y1="201.30" x2="496.17" y2="207.30" stroke="#1c1c1c" stroke-width="1" />
<text x="496.17" y="64.10" font-size="10.8" fill="#1c1c1c" color="#1c1c1c" text-anchor="middle" >-28.3</text>
<line x1="525.06" y1="72.60" x2="525.06" y2="69.60" stroke="#1c1c1c" stroke-width="1" />
<line x1="525.06" y1="201.30" x2="525.06" y2="204.30" stroke="#1c1c1c" stroke-width="1" />
<line x1="553.95" y1="72.60" x2="553.95" y2="66.60" stroke="#1c1c1c" stroke-width="1" />
<line x1="553.95" y1="201.30" x2="553.95" y2="207.30" stroke="#1c1c1c" stroke-width="1" />
<text x="553.95" y="64.10" font-size="10.8" fill="#1c1c1c" color="#1c1c1c" text-anchor="middle" >-27.8</text>
<line x1="582.84" y1="72.60" x2="582.84" y2="69.60" stroke="#1c1c1c" stroke-width="1" />
<line x1="582.84" y1="201.30" x2="582.84" y2="204.30" stroke="#1c1c1c" stroke-width="1" />
<line x1="611.73" y1="72.60" x2="611.73" y2="66.60" stroke="#1c1c1c" stroke-width="1" />
<line x1="611.73" y1="201.30" x2="611.73" y2="207.30" stroke="#1c1c1c" stroke-width="1" />
<text x="611.73" y="64.10" font-size="10.8" fill="#1c1c1c" color="#1c1c1c" text-anchor="middle" >-27.3</text>
<line x1="640.61" y1="72.60" x2="640.61" y2="69.60" stroke="#1c1c1c" stroke-width="1" />
<line x1="640.61" y1="201.30" x2="640.61" y2="204.30" stroke="#1c1c1c" stroke-width="1" />
<line x1="669.50" y1="72.60" x2="669.50" y2="66.60" stroke="#1c1c1c" stroke-width="1" />
<line x1="669.50" y1="201.30" x2="669.50" y2="207.30" stroke="#1c1c1c" stroke-width="1" />
<text x="669.50" y="64.10" font-size="10.8" fill="#1c1c1c" color="#1c1c1c" text-anchor="middle" >-26.8</text>
<line x1="438.40" y1="72.60" x2="432.40" y2="72.60" stroke="#1c1c1c" stroke-width="1" />
<line x1="669.50" y1="72.60" x2="675.50" y2="72.60" stroke="#1c1c1c" stroke-width="1" />
<text x="430.50" y="76.40" font-size="10.8" fill="#1c1c1c" color="#1c1c1c" text-anchor="end" >39.5</text>
<line x1="438.40" y1="104.78" x2="435.40" y2="104.78" stroke="#1c1c1c" stroke-width="1" />
<line x1="669.50" y1="104.78" x2="672.50" y2="104.78" stroke="#1c1c1c" stroke-width="1" />
<line x1="438.40" y1="136.95" x2="432.40" y2="136.95" stroke="#1c1c1c" stroke-width="1" />
<line x1="669.50" y1="136.95" x2="675.50" y2="136.95" stroke="#1c1c1c" stroke-width="1" />
<text x="430.50" y="140.75" font-size="10.8" fill="#1c1c1c" color="#1c1c1c" text-anchor="end" >39.0</text>
<line x1="438.40" y1="169.12" x2="435.40" y2="169.12" stroke="#1c1c1c" stroke-width="1" />
<line x1="669.50" y1="169.12" x2="672.50" y2="169.12" stroke="#1c1c1c" stroke-width="1" />
<line x1="438.40" y1="201.30" x2="432.40" y2="201.30" stroke="#1c1c1c" stroke-width="1" />
<line x1="669.50" y1="201.30" x2="675.50" y2="201.30" stroke="#1c1c1c" stroke-width="1" />
<text x="430.50" y="205.10" font-size="10.8" fill="#1c1c1c" color="#1c1c1c" text-anchor="end" >38.5</text>
<text x="561.50" y="47.50" font-size="13" fill="#1c1c1c" color="#1c1c1c" text-anchor="middle" >Longitude (degree)</text>
<text transform="translate(402,130.2) rotate(-90)" font-size="13" fill="#1c1c1c" color="#1c1c1c" text-anchor="middle">Latitude (degree)</text>
<text x="401.20" y="51.50" font-size="14" fill="#000" color="#000" text-anchor="middle" font-weight="bold">d</text>
<line x1="438.90" y1="227.30" x2="438.90" y2="363.20" stroke="#1c1c1c" stroke-width="1.1" />
<line x1="669.20" y1="227.30" x2="669.20" y2="363.20" stroke="#1c1c1c" stroke-width="1.1" />
<line x1="437.90" y1="227.30" x2="672.20" y2="227.30" stroke="#1c1c1c" stroke-width="1.1" />
<line x1="437.90" y1="363.20" x2="672.20" y2="363.20" stroke="#1c1c1c" stroke-width="1.1" />
<line x1="441.44" y1="363.20" x2="441.44" y2="366.50" stroke="#1c1c1c" stroke-width="1" />
<line x1="441.44" y1="227.30" x2="441.44" y2="224.00" stroke="#1c1c1c" stroke-width="1" />
<line x1="453.80" y1="363.20" x2="453.80" y2="366.50" stroke="#1c1c1c" stroke-width="1" />
<line x1="453.80" y1="227.30" x2="453.80" y2="224.00" stroke="#1c1c1c" stroke-width="1" />
<line x1="463.40" y1="363.20" x2="463.40" y2="366.50" stroke="#1c1c1c" stroke-width="1" />
<line x1="463.40" y1="227.30" x2="463.40" y2="224.00" stroke="#1c1c1c" stroke-width="1" />
<line x1="471.24" y1="363.20" x2="471.24" y2="366.50" stroke="#1c1c1c" stroke-width="1" />
<line x1="471.24" y1="227.30" x2="471.24" y2="224.00" stroke="#1c1c1c" stroke-width="1" />
<line x1="477.86" y1="363.20" x2="477.86" y2="366.50" stroke="#1c1c1c" stroke-width="1" />
<line x1="477.86" y1="227.30" x2="477.86" y2="224.00" stroke="#1c1c1c" stroke-width="1" />
<line x1="483.61" y1="363.20" x2="483.61" y2="366.50" stroke="#1c1c1c" stroke-width="1" />
<line x1="483.61" y1="227.30" x2="483.61" y2="224.00" stroke="#1c1c1c" stroke-width="1" />
<line x1="488.67" y1="363.20" x2="488.67" y2="366.50" stroke="#1c1c1c" stroke-width="1" />
<line x1="488.67" y1="227.30" x2="488.67" y2="224.00" stroke="#1c1c1c" stroke-width="1" />
<line x1="493.20" y1="363.20" x2="493.20" y2="369.70" stroke="#1c1c1c" stroke-width="1" />
<line x1="493.20" y1="227.30" x2="493.20" y2="220.80" stroke="#1c1c1c" stroke-width="1" />
<line x1="523.00" y1="363.20" x2="523.00" y2="366.50" stroke="#1c1c1c" stroke-width="1" />
<line x1="523.00" y1="227.30" x2="523.00" y2="224.00" stroke="#1c1c1c" stroke-width="1" />
<line x1="540.44" y1="363.20" x2="540.44" y2="366.50" stroke="#1c1c1c" stroke-width="1" />
<line x1="540.44" y1="227.30" x2="540.44" y2="224.00" stroke="#1c1c1c" stroke-width="1" />
<line x1="552.80" y1="363.20" x2="552.80" y2="366.50" stroke="#1c1c1c" stroke-width="1" />
<line x1="552.80" y1="227.30" x2="552.80" y2="224.00" stroke="#1c1c1c" stroke-width="1" />
<line x1="562.40" y1="363.20" x2="562.40" y2="366.50" stroke="#1c1c1c" stroke-width="1" />
<line x1="562.40" y1="227.30" x2="562.40" y2="224.00" stroke="#1c1c1c" stroke-width="1" />
<line x1="570.24" y1="363.20" x2="570.24" y2="366.50" stroke="#1c1c1c" stroke-width="1" />
<line x1="570.24" y1="227.30" x2="570.24" y2="224.00" stroke="#1c1c1c" stroke-width="1" />
<line x1="576.86" y1="363.20" x2="576.86" y2="366.50" stroke="#1c1c1c" stroke-width="1" />
<line x1="576.86" y1="227.30" x2="576.86" y2="224.00" stroke="#1c1c1c" stroke-width="1" />
<line x1="582.61" y1="363.20" x2="582.61" y2="366.50" stroke="#1c1c1c" stroke-width="1" />
<line x1="582.61" y1="227.30" x2="582.61" y2="224.00" stroke="#1c1c1c" stroke-width="1" />
<line x1="587.67" y1="363.20" x2="587.67" y2="366.50" stroke="#1c1c1c" stroke-width="1" />
<line x1="587.67" y1="227.30" x2="587.67" y2="224.00" stroke="#1c1c1c" stroke-width="1" />
<line x1="592.20" y1="363.20" x2="592.20" y2="369.70" stroke="#1c1c1c" stroke-width="1" />
<line x1="592.20" y1="227.30" x2="592.20" y2="220.80" stroke="#1c1c1c" stroke-width="1" />
<line x1="622.00" y1="363.20" x2="622.00" y2="366.50" stroke="#1c1c1c" stroke-width="1" />
<line x1="622.00" y1="227.30" x2="622.00" y2="224.00" stroke="#1c1c1c" stroke-width="1" />
<line x1="639.44" y1="363.20" x2="639.44" y2="366.50" stroke="#1c1c1c" stroke-width="1" />
<line x1="639.44" y1="227.30" x2="639.44" y2="224.00" stroke="#1c1c1c" stroke-width="1" />
<line x1="651.80" y1="363.20" x2="651.80" y2="366.50" stroke="#1c1c1c" stroke-width="1" />
<line x1="651.80" y1="227.30" x2="651.80" y2="224.00" stroke="#1c1c1c" stroke-width="1" />
<line x1="661.40" y1="363.20" x2="661.40" y2="366.50" stroke="#1c1c1c" stroke-width="1" />
<line x1="661.40" y1="227.30" x2="661.40" y2="224.00" stroke="#1c1c1c" stroke-width="1" />
<line x1="669.24" y1="363.20" x2="669.24" y2="366.50" stroke="#1c1c1c" stroke-width="1" />
<line x1="669.24" y1="227.30" x2="669.24" y2="224.00" stroke="#1c1c1c" stroke-width="1" />
<line x1="438.90" y1="362.90" x2="432.90" y2="362.90" stroke="#1c1c1c" stroke-width="1" />
<line x1="669.20" y1="362.90" x2="675.20" y2="362.90" stroke="#1c1c1c" stroke-width="1" />
<line x1="438.90" y1="345.23" x2="435.90" y2="345.23" stroke="#1c1c1c" stroke-width="1" />
<line x1="669.20" y1="345.23" x2="672.20" y2="345.23" stroke="#1c1c1c" stroke-width="1" />
<line x1="438.90" y1="334.89" x2="435.90" y2="334.89" stroke="#1c1c1c" stroke-width="1" />
<line x1="669.20" y1="334.89" x2="672.20" y2="334.89" stroke="#1c1c1c" stroke-width="1" />
<line x1="438.90" y1="327.56" x2="435.90" y2="327.56" stroke="#1c1c1c" stroke-width="1" />
<line x1="669.20" y1="327.56" x2="672.20" y2="327.56" stroke="#1c1c1c" stroke-width="1" />
<line x1="438.90" y1="321.87" x2="435.90" y2="321.87" stroke="#1c1c1c" stroke-width="1" />
<line x1="669.20" y1="321.87" x2="672.20" y2="321.87" stroke="#1c1c1c" stroke-width="1" />
<line x1="438.90" y1="317.22" x2="435.90" y2="317.22" stroke="#1c1c1c" stroke-width="1" />
<line x1="669.20" y1="317.22" x2="672.20" y2="317.22" stroke="#1c1c1c" stroke-width="1" />
<line x1="438.90" y1="313.29" x2="435.90" y2="313.29" stroke="#1c1c1c" stroke-width="1" />
<line x1="669.20" y1="313.29" x2="672.20" y2="313.29" stroke="#1c1c1c" stroke-width="1" />
<line x1="438.90" y1="309.89" x2="435.90" y2="309.89" stroke="#1c1c1c" stroke-width="1" />
<line x1="669.20" y1="309.89" x2="672.20" y2="309.89" stroke="#1c1c1c" stroke-width="1" />
<line x1="438.90" y1="306.89" x2="435.90" y2="306.89" stroke="#1c1c1c" stroke-width="1" />
<line x1="669.20" y1="306.89" x2="672.20" y2="306.89" stroke="#1c1c1c" stroke-width="1" />
<line x1="438.90" y1="304.20" x2="432.90" y2="304.20" stroke="#1c1c1c" stroke-width="1" />
<line x1="669.20" y1="304.20" x2="675.20" y2="304.20" stroke="#1c1c1c" stroke-width="1" />
<line x1="438.90" y1="286.53" x2="435.90" y2="286.53" stroke="#1c1c1c" stroke-width="1" />
<line x1="669.20" y1="286.53" x2="672.20" y2="286.53" stroke="#1c1c1c" stroke-width="1" />
<line x1="438.90" y1="276.19" x2="435.90" y2="276.19" stroke="#1c1c1c" stroke-width="1" />
<line x1="669.20" y1="276.19" x2="672.20" y2="276.19" stroke="#1c1c1c" stroke-width="1" />
<line x1="438.90" y1="268.86" x2="435.90" y2="268.86" stroke="#1c1c1c" stroke-width="1" />
<line x1="669.20" y1="268.86" x2="672.20" y2="268.86" stroke="#1c1c1c" stroke-width="1" />
<line x1="438.90" y1="263.17" x2="435.90" y2="263.17" stroke="#1c1c1c" stroke-width="1" />
<line x1="669.20" y1="263.17" x2="672.20" y2="263.17" stroke="#1c1c1c" stroke-width="1" />
<line x1="438.90" y1="258.52" x2="435.90" y2="258.52" stroke="#1c1c1c" stroke-width="1" />
<line x1="669.20" y1="258.52" x2="672.20" y2="258.52" stroke="#1c1c1c" stroke-width="1" />
<line x1="438.90" y1="254.59" x2="435.90" y2="254.59" stroke="#1c1c1c" stroke-width="1" />
<line x1="669.20" y1="254.59" x2="672.20" y2="254.59" stroke="#1c1c1c" stroke-width="1" />
<line x1="438.90" y1="251.19" x2="435.90" y2="251.19" stroke="#1c1c1c" stroke-width="1" />
<line x1="669.20" y1="251.19" x2="672.20" y2="251.19" stroke="#1c1c1c" stroke-width="1" />
<line x1="438.90" y1="248.19" x2="435.90" y2="248.19" stroke="#1c1c1c" stroke-width="1" />
<line x1="669.20" y1="248.19" x2="672.20" y2="248.19" stroke="#1c1c1c" stroke-width="1" />
<line x1="438.90" y1="245.50" x2="432.90" y2="245.50" stroke="#1c1c1c" stroke-width="1" />
<line x1="669.20" y1="245.50" x2="675.20" y2="245.50" stroke="#1c1c1c" stroke-width="1" />
<line x1="438.90" y1="227.83" x2="435.90" y2="227.83" stroke="#1c1c1c" stroke-width="1" />
<line x1="669.20" y1="227.83" x2="672.20" y2="227.83" stroke="#1c1c1c" stroke-width="1" />
<text x="441.44" y="381.60" font-size="10.4" fill="#1c1c1c" color="#1c1c1c" text-anchor="middle" >3</text>
<text x="493.20" y="381.60" font-size="10.4" fill="#1c1c1c" color="#1c1c1c" text-anchor="middle" >10</text>
<text x="540.44" y="381.60" font-size="10.4" fill="#1c1c1c" color="#1c1c1c" text-anchor="middle" >30</text>
<text x="592.20" y="381.60" font-size="10.4" fill="#1c1c1c" color="#1c1c1c" text-anchor="middle" >100</text>
<text x="639.44" y="381.60" font-size="10.4" fill="#1c1c1c" color="#1c1c1c" text-anchor="middle" >300</text>
<text x="429.60" y="366.10" font-size="10.4" fill="#1c1c1c" color="#1c1c1c" text-anchor="end" >10</text>
<text x="429.60" y="307.40" font-size="10.4" fill="#1c1c1c" color="#1c1c1c" text-anchor="end" >100</text>
<text x="429.60" y="248.70" font-size="10.4" fill="#1c1c1c" color="#1c1c1c" text-anchor="end" >1000</text>
<text x="537" y="394" font-size="13.5" fill="#1c1c1c" color="#1c1c1c"><tspan font-style="italic">D</tspan><tspan font-size="7.8" dx="0.5" dy="5">p</tspan><tspan dx="-0.5" dy="-5"> (nm)</tspan></text>
<text transform="translate(404.6,298.3) rotate(-90)" font-size="11.5" fill="#1c1c1c" color="#1c1c1c" text-anchor="middle">d<tspan font-style="italic">N</tspan>/dlog(<tspan font-style="italic">D</tspan><tspan font-size="7" dy="3">p</tspan><tspan dy="-3">) (cm</tspan><tspan font-size="7" dy="-4.5">-3</tspan><tspan dy="4.5">)</tspan></text>
<text x="400.50" y="234.60" font-size="14" fill="#000" color="#000" text-anchor="middle" font-weight="bold">e</text>
<polyline points="441.00,240.50 498.60,240.50 500.50,252.00 505.00,300.00" fill="none" stroke="#1c1c1c" stroke-width="1.1" stroke-linejoin="round" stroke-dasharray="4.4 4.5"/>
<polyline points="441.00,281.00 499.50,281.00 503.10,276.10" fill="none" stroke="#0505f2" stroke-width="1.1" stroke-linejoin="round" stroke-dasharray="4.4 4.5"/>
<polyline points="441.00,289.50 498.60,289.50 505.40,259.70" fill="none" stroke="#ec0a12" stroke-width="1.1" stroke-linejoin="round" stroke-dasharray="4.4 4.5"/>
<polyline points="505.00,300.00 511.70,312.20 518.00,329.40 524.20,334.40 529.40,335.70 535.80,329.30 547.40,328.10 560.20,337.40 569.50,344.90 578.40,353.70 584.70,355.30 590.50,349.10 597.40,344.90 602.60,343.50 609.10,344.90 613.70,345.80 620.70,350.90 628.80,363.00" fill="none" stroke="#1a1a1a" stroke-width="1.2" stroke-linejoin="round" />
<polyline points="503.10,276.10 504.90,275.80 511.10,288.60 520.00,300.00 523.20,303.90 530.40,309.10 535.80,306.00 542.10,300.70 547.40,301.40 559.10,310.70 571.90,325.80 578.80,330.90 584.00,330.00 592.80,320.00 597.40,315.30 602.60,306.50 607.20,306.50 614.20,303.70 620.70,309.50 632.30,329.30 639.30,347.90 644.00,363.00" fill="none" stroke="#0505f2" stroke-width="1.2" stroke-linejoin="round" />
<polyline points="505.40,259.70 511.70,276.00 520.90,300.00 523.20,303.30 530.40,307.00 541.60,303.70 548.60,304.40 559.80,310.00 572.30,327.70 584.00,333.30 590.90,329.30 597.90,317.70 607.90,307.20 614.20,303.70 621.20,309.50 633.50,332.80 644.40,352.60 648.60,363.00" fill="none" stroke="#ec0a12" stroke-width="1.2" stroke-linejoin="round" />
<text x="543.80" y="239.70" font-size="11" fill="#111" color="#111" text-anchor="middle" >1700 m</text>
<line x1="537.30" y1="241.40" x2="503.00" y2="252.10" stroke="#111" stroke-width="1" />
<polygon points="500.3,253 506.5,248.2 507.6,253.6" fill="#111"/>
<text x="470.40" y="258.70" font-size="11" fill="#1a1ae6" color="#1a1ae6" text-anchor="middle" >1100 m</text>
<line x1="468.70" y1="262.80" x2="479.00" y2="274.80" stroke="#0505f2" stroke-width="1" />
<polygon points="480.6,276.8 475.2,273.6 479.8,270.2" fill="#0505f2"/>
<text x="471.00" y="321.50" font-size="11.6" fill="#e3141c" color="#e3141c" text-anchor="middle" >100 m</text>
<line x1="470.20" y1="308.00" x2="479.20" y2="292.60" stroke="#ec0a12" stroke-width="1" />
<polygon points="480.6,290.4 481.6,296.6 476.4,294.2" fill="#ec0a12"/></svg></body></html>
